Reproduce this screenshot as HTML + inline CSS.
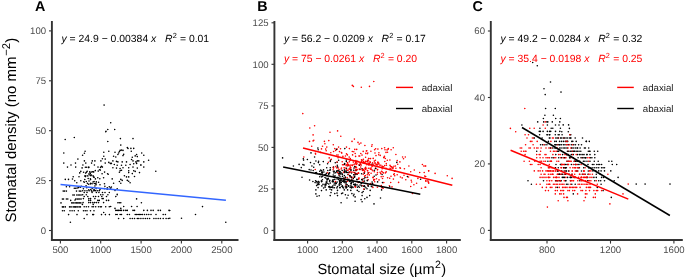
<!DOCTYPE html><html><head><meta charset="utf-8"><style>html,body{margin:0;padding:0;background:#fff;overflow:hidden}svg{display:block;will-change:transform;text-rendering:geometricPrecision}</style></head><body><svg width="685" height="278" viewBox="0 0 685 278" font-family='"Liberation Sans", sans-serif'>
<rect width="685" height="278" fill="#fff"/>
<path fill="#000" d="M103.3 105.1a0.8 0.8 0 1 0 1.6 0a0.8 0.8 0 1 0 -1.6 0M109.9 122.8a0.8 0.8 0 1 0 1.6 0a0.8 0.8 0 1 0 -1.6 0M107.0 129.5a0.8 0.8 0 1 0 1.6 0a0.8 0.8 0 1 0 -1.6 0M104.9 131.7a0.8 0.8 0 1 0 1.6 0a0.8 0.8 0 1 0 -1.6 0M113.9 129.5a0.8 0.8 0 1 0 1.6 0a0.8 0.8 0 1 0 -1.6 0M64.4 139.5a0.8 0.8 0 1 0 1.6 0a0.8 0.8 0 1 0 -1.6 0M73.5 137.5a0.8 0.8 0 1 0 1.6 0a0.8 0.8 0 1 0 -1.6 0M105.2 131.4a0.8 0.8 0 1 0 1.6 0a0.8 0.8 0 1 0 -1.6 0M107.0 141.5a0.8 0.8 0 1 0 1.6 0a0.8 0.8 0 1 0 -1.6 0M63.0 153.0a0.8 0.8 0 1 0 1.6 0a0.8 0.8 0 1 0 -1.6 0M84.3 151.3a0.8 0.8 0 1 0 1.6 0a0.8 0.8 0 1 0 -1.6 0M83.6 153.3a0.8 0.8 0 1 0 1.6 0a0.8 0.8 0 1 0 -1.6 0M81.8 155.2a0.8 0.8 0 1 0 1.6 0a0.8 0.8 0 1 0 -1.6 0M103.0 152.3a0.8 0.8 0 1 0 1.6 0a0.8 0.8 0 1 0 -1.6 0M108.0 151.3a0.8 0.8 0 1 0 1.6 0a0.8 0.8 0 1 0 -1.6 0M77.1 159.1a0.8 0.8 0 1 0 1.6 0a0.8 0.8 0 1 0 -1.6 0M103.0 156.3a0.8 0.8 0 1 0 1.6 0a0.8 0.8 0 1 0 -1.6 0M101.6 158.8a0.8 0.8 0 1 0 1.6 0a0.8 0.8 0 1 0 -1.6 0M104.4 159.1a0.8 0.8 0 1 0 1.6 0a0.8 0.8 0 1 0 -1.6 0M63.0 163.1a0.8 0.8 0 1 0 1.6 0a0.8 0.8 0 1 0 -1.6 0M74.7 163.1a0.8 0.8 0 1 0 1.6 0a0.8 0.8 0 1 0 -1.6 0M83.6 160.9a0.8 0.8 0 1 0 1.6 0a0.8 0.8 0 1 0 -1.6 0M85.0 163.1a0.8 0.8 0 1 0 1.6 0a0.8 0.8 0 1 0 -1.6 0M91.5 160.9a0.8 0.8 0 1 0 1.6 0a0.8 0.8 0 1 0 -1.6 0M94.1 160.9a0.8 0.8 0 1 0 1.6 0a0.8 0.8 0 1 0 -1.6 0M90.8 163.1a0.8 0.8 0 1 0 1.6 0a0.8 0.8 0 1 0 -1.6 0M100.1 160.9a0.8 0.8 0 1 0 1.6 0a0.8 0.8 0 1 0 -1.6 0M104.4 163.1a0.8 0.8 0 1 0 1.6 0a0.8 0.8 0 1 0 -1.6 0M108.0 162.4a0.8 0.8 0 1 0 1.6 0a0.8 0.8 0 1 0 -1.6 0M109.5 163.4a0.8 0.8 0 1 0 1.6 0a0.8 0.8 0 1 0 -1.6 0M70.2 165.0a0.8 0.8 0 1 0 1.6 0a0.8 0.8 0 1 0 -1.6 0M82.1 165.0a0.8 0.8 0 1 0 1.6 0a0.8 0.8 0 1 0 -1.6 0M93.6 165.0a0.8 0.8 0 1 0 1.6 0a0.8 0.8 0 1 0 -1.6 0M66.7 167.1a0.8 0.8 0 1 0 1.6 0a0.8 0.8 0 1 0 -1.6 0M74.9 167.1a0.8 0.8 0 1 0 1.6 0a0.8 0.8 0 1 0 -1.6 0M87.9 167.1a0.8 0.8 0 1 0 1.6 0a0.8 0.8 0 1 0 -1.6 0M97.2 167.1a0.8 0.8 0 1 0 1.6 0a0.8 0.8 0 1 0 -1.6 0M101.6 167.1a0.8 0.8 0 1 0 1.6 0a0.8 0.8 0 1 0 -1.6 0M119.6 138.6a0.8 0.8 0 1 0 1.6 0a0.8 0.8 0 1 0 -1.6 0M132.2 138.6a0.8 0.8 0 1 0 1.6 0a0.8 0.8 0 1 0 -1.6 0M120.0 145.1a0.8 0.8 0 1 0 1.6 0a0.8 0.8 0 1 0 -1.6 0M126.5 147.6a0.8 0.8 0 1 0 1.6 0a0.8 0.8 0 1 0 -1.6 0M127.2 148.4a0.8 0.8 0 1 0 1.6 0a0.8 0.8 0 1 0 -1.6 0M130.1 148.4a0.8 0.8 0 1 0 1.6 0a0.8 0.8 0 1 0 -1.6 0M132.9 148.4a0.8 0.8 0 1 0 1.6 0a0.8 0.8 0 1 0 -1.6 0M130.5 151.3a0.8 0.8 0 1 0 1.6 0a0.8 0.8 0 1 0 -1.6 0M119.3 150.4a0.8 0.8 0 1 0 1.6 0a0.8 0.8 0 1 0 -1.6 0M120.7 150.1a0.8 0.8 0 1 0 1.6 0a0.8 0.8 0 1 0 -1.6 0M122.2 150.4a0.8 0.8 0 1 0 1.6 0a0.8 0.8 0 1 0 -1.6 0M118.6 151.6a0.8 0.8 0 1 0 1.6 0a0.8 0.8 0 1 0 -1.6 0M114.2 152.3a0.8 0.8 0 1 0 1.6 0a0.8 0.8 0 1 0 -1.6 0M122.9 154.2a0.8 0.8 0 1 0 1.6 0a0.8 0.8 0 1 0 -1.6 0M122.2 155.6a0.8 0.8 0 1 0 1.6 0a0.8 0.8 0 1 0 -1.6 0M117.8 153.0a0.8 0.8 0 1 0 1.6 0a0.8 0.8 0 1 0 -1.6 0M117.1 154.5a0.8 0.8 0 1 0 1.6 0a0.8 0.8 0 1 0 -1.6 0M112.8 156.2a0.8 0.8 0 1 0 1.6 0a0.8 0.8 0 1 0 -1.6 0M115.0 157.0a0.8 0.8 0 1 0 1.6 0a0.8 0.8 0 1 0 -1.6 0M140.9 153.0a0.8 0.8 0 1 0 1.6 0a0.8 0.8 0 1 0 -1.6 0M143.0 155.2a0.8 0.8 0 1 0 1.6 0a0.8 0.8 0 1 0 -1.6 0M135.8 154.5a0.8 0.8 0 1 0 1.6 0a0.8 0.8 0 1 0 -1.6 0M134.4 155.9a0.8 0.8 0 1 0 1.6 0a0.8 0.8 0 1 0 -1.6 0M136.5 156.6a0.8 0.8 0 1 0 1.6 0a0.8 0.8 0 1 0 -1.6 0M131.5 157.3a0.8 0.8 0 1 0 1.6 0a0.8 0.8 0 1 0 -1.6 0M147.8 160.2a0.8 0.8 0 1 0 1.6 0a0.8 0.8 0 1 0 -1.6 0M130.8 159.5a0.8 0.8 0 1 0 1.6 0a0.8 0.8 0 1 0 -1.6 0M132.2 160.9a0.8 0.8 0 1 0 1.6 0a0.8 0.8 0 1 0 -1.6 0M136.5 160.9a0.8 0.8 0 1 0 1.6 0a0.8 0.8 0 1 0 -1.6 0M138.0 160.9a0.8 0.8 0 1 0 1.6 0a0.8 0.8 0 1 0 -1.6 0M135.1 161.9a0.8 0.8 0 1 0 1.6 0a0.8 0.8 0 1 0 -1.6 0M143.0 161.9a0.8 0.8 0 1 0 1.6 0a0.8 0.8 0 1 0 -1.6 0M112.1 160.9a0.8 0.8 0 1 0 1.6 0a0.8 0.8 0 1 0 -1.6 0M115.7 161.4a0.8 0.8 0 1 0 1.6 0a0.8 0.8 0 1 0 -1.6 0M117.1 161.9a0.8 0.8 0 1 0 1.6 0a0.8 0.8 0 1 0 -1.6 0M121.4 161.9a0.8 0.8 0 1 0 1.6 0a0.8 0.8 0 1 0 -1.6 0M125.7 161.9a0.8 0.8 0 1 0 1.6 0a0.8 0.8 0 1 0 -1.6 0M110.6 163.4a0.8 0.8 0 1 0 1.6 0a0.8 0.8 0 1 0 -1.6 0M113.5 164.5a0.8 0.8 0 1 0 1.6 0a0.8 0.8 0 1 0 -1.6 0M116.4 165.3a0.8 0.8 0 1 0 1.6 0a0.8 0.8 0 1 0 -1.6 0M120.7 165.3a0.8 0.8 0 1 0 1.6 0a0.8 0.8 0 1 0 -1.6 0M125.0 165.3a0.8 0.8 0 1 0 1.6 0a0.8 0.8 0 1 0 -1.6 0M129.3 164.5a0.8 0.8 0 1 0 1.6 0a0.8 0.8 0 1 0 -1.6 0M132.9 163.8a0.8 0.8 0 1 0 1.6 0a0.8 0.8 0 1 0 -1.6 0M135.8 163.4a0.8 0.8 0 1 0 1.6 0a0.8 0.8 0 1 0 -1.6 0M140.1 165.3a0.8 0.8 0 1 0 1.6 0a0.8 0.8 0 1 0 -1.6 0M143.0 167.1a0.8 0.8 0 1 0 1.6 0a0.8 0.8 0 1 0 -1.6 0M112.1 167.7a0.8 0.8 0 1 0 1.6 0a0.8 0.8 0 1 0 -1.6 0M115.7 168.1a0.8 0.8 0 1 0 1.6 0a0.8 0.8 0 1 0 -1.6 0M119.3 168.6a0.8 0.8 0 1 0 1.6 0a0.8 0.8 0 1 0 -1.6 0M122.2 167.7a0.8 0.8 0 1 0 1.6 0a0.8 0.8 0 1 0 -1.6 0M127.9 167.7a0.8 0.8 0 1 0 1.6 0a0.8 0.8 0 1 0 -1.6 0M132.2 167.1a0.8 0.8 0 1 0 1.6 0a0.8 0.8 0 1 0 -1.6 0M136.5 168.1a0.8 0.8 0 1 0 1.6 0a0.8 0.8 0 1 0 -1.6 0M140.1 164.9a0.8 0.8 0 1 0 1.6 0a0.8 0.8 0 1 0 -1.6 0M64.5 179.4a0.8 0.8 0 1 0 1.6 0a0.8 0.8 0 1 0 -1.6 0M67.7 179.4a0.8 0.8 0 1 0 1.6 0a0.8 0.8 0 1 0 -1.6 0M71.7 179.0a0.8 0.8 0 1 0 1.6 0a0.8 0.8 0 1 0 -1.6 0M72.4 176.8a0.8 0.8 0 1 0 1.6 0a0.8 0.8 0 1 0 -1.6 0M73.9 180.8a0.8 0.8 0 1 0 1.6 0a0.8 0.8 0 1 0 -1.6 0M76.0 182.8a0.8 0.8 0 1 0 1.6 0a0.8 0.8 0 1 0 -1.6 0M78.2 176.8a0.8 0.8 0 1 0 1.6 0a0.8 0.8 0 1 0 -1.6 0M80.0 180.8a0.8 0.8 0 1 0 1.6 0a0.8 0.8 0 1 0 -1.6 0M78.9 172.9a0.8 0.8 0 1 0 1.6 0a0.8 0.8 0 1 0 -1.6 0M80.0 171.4a0.8 0.8 0 1 0 1.6 0a0.8 0.8 0 1 0 -1.6 0M65.6 186.7a0.8 0.8 0 1 0 1.6 0a0.8 0.8 0 1 0 -1.6 0M68.8 186.7a0.8 0.8 0 1 0 1.6 0a0.8 0.8 0 1 0 -1.6 0M73.5 188.3a0.8 0.8 0 1 0 1.6 0a0.8 0.8 0 1 0 -1.6 0M74.9 188.3a0.8 0.8 0 1 0 1.6 0a0.8 0.8 0 1 0 -1.6 0M76.4 188.0a0.8 0.8 0 1 0 1.6 0a0.8 0.8 0 1 0 -1.6 0M77.8 187.6a0.8 0.8 0 1 0 1.6 0a0.8 0.8 0 1 0 -1.6 0M79.6 187.3a0.8 0.8 0 1 0 1.6 0a0.8 0.8 0 1 0 -1.6 0M86.4 171.3a0.8 0.8 0 1 0 1.6 0a0.8 0.8 0 1 0 -1.6 0M88.9 171.9a0.8 0.8 0 1 0 1.6 0a0.8 0.8 0 1 0 -1.6 0M92.0 171.8a0.8 0.8 0 1 0 1.6 0a0.8 0.8 0 1 0 -1.6 0M94.5 170.6a0.8 0.8 0 1 0 1.6 0a0.8 0.8 0 1 0 -1.6 0M97.4 171.1a0.8 0.8 0 1 0 1.6 0a0.8 0.8 0 1 0 -1.6 0M98.7 169.7a0.8 0.8 0 1 0 1.6 0a0.8 0.8 0 1 0 -1.6 0M99.5 170.1a0.8 0.8 0 1 0 1.6 0a0.8 0.8 0 1 0 -1.6 0M84.9 173.1a0.8 0.8 0 1 0 1.6 0a0.8 0.8 0 1 0 -1.6 0M85.8 172.1a0.8 0.8 0 1 0 1.6 0a0.8 0.8 0 1 0 -1.6 0M88.0 174.0a0.8 0.8 0 1 0 1.6 0a0.8 0.8 0 1 0 -1.6 0M90.6 172.0a0.8 0.8 0 1 0 1.6 0a0.8 0.8 0 1 0 -1.6 0M92.1 171.9a0.8 0.8 0 1 0 1.6 0a0.8 0.8 0 1 0 -1.6 0M92.9 171.9a0.8 0.8 0 1 0 1.6 0a0.8 0.8 0 1 0 -1.6 0M101.3 173.8a0.8 0.8 0 1 0 1.6 0a0.8 0.8 0 1 0 -1.6 0M103.8 172.1a0.8 0.8 0 1 0 1.6 0a0.8 0.8 0 1 0 -1.6 0M106.8 173.8a0.8 0.8 0 1 0 1.6 0a0.8 0.8 0 1 0 -1.6 0M87.0 175.9a0.8 0.8 0 1 0 1.6 0a0.8 0.8 0 1 0 -1.6 0M89.2 175.1a0.8 0.8 0 1 0 1.6 0a0.8 0.8 0 1 0 -1.6 0M90.1 175.8a0.8 0.8 0 1 0 1.6 0a0.8 0.8 0 1 0 -1.6 0M92.3 175.9a0.8 0.8 0 1 0 1.6 0a0.8 0.8 0 1 0 -1.6 0M107.4 174.2a0.8 0.8 0 1 0 1.6 0a0.8 0.8 0 1 0 -1.6 0M83.9 176.0a0.8 0.8 0 1 0 1.6 0a0.8 0.8 0 1 0 -1.6 0M85.0 175.7a0.8 0.8 0 1 0 1.6 0a0.8 0.8 0 1 0 -1.6 0M92.8 177.1a0.8 0.8 0 1 0 1.6 0a0.8 0.8 0 1 0 -1.6 0M84.0 179.5a0.8 0.8 0 1 0 1.6 0a0.8 0.8 0 1 0 -1.6 0M87.4 178.5a0.8 0.8 0 1 0 1.6 0a0.8 0.8 0 1 0 -1.6 0M89.6 178.9a0.8 0.8 0 1 0 1.6 0a0.8 0.8 0 1 0 -1.6 0M94.6 178.9a0.8 0.8 0 1 0 1.6 0a0.8 0.8 0 1 0 -1.6 0M97.0 177.8a0.8 0.8 0 1 0 1.6 0a0.8 0.8 0 1 0 -1.6 0M102.8 177.8a0.8 0.8 0 1 0 1.6 0a0.8 0.8 0 1 0 -1.6 0M83.0 181.7a0.8 0.8 0 1 0 1.6 0a0.8 0.8 0 1 0 -1.6 0M85.5 181.5a0.8 0.8 0 1 0 1.6 0a0.8 0.8 0 1 0 -1.6 0M88.2 181.0a0.8 0.8 0 1 0 1.6 0a0.8 0.8 0 1 0 -1.6 0M89.8 179.6a0.8 0.8 0 1 0 1.6 0a0.8 0.8 0 1 0 -1.6 0M92.2 182.0a0.8 0.8 0 1 0 1.6 0a0.8 0.8 0 1 0 -1.6 0M93.3 181.5a0.8 0.8 0 1 0 1.6 0a0.8 0.8 0 1 0 -1.6 0M95.5 181.9a0.8 0.8 0 1 0 1.6 0a0.8 0.8 0 1 0 -1.6 0M83.5 182.2a0.8 0.8 0 1 0 1.6 0a0.8 0.8 0 1 0 -1.6 0M86.6 183.3a0.8 0.8 0 1 0 1.6 0a0.8 0.8 0 1 0 -1.6 0M89.9 183.2a0.8 0.8 0 1 0 1.6 0a0.8 0.8 0 1 0 -1.6 0M93.5 183.5a0.8 0.8 0 1 0 1.6 0a0.8 0.8 0 1 0 -1.6 0M94.9 183.7a0.8 0.8 0 1 0 1.6 0a0.8 0.8 0 1 0 -1.6 0M97.8 182.2a0.8 0.8 0 1 0 1.6 0a0.8 0.8 0 1 0 -1.6 0M103.7 183.7a0.8 0.8 0 1 0 1.6 0a0.8 0.8 0 1 0 -1.6 0M85.3 185.8a0.8 0.8 0 1 0 1.6 0a0.8 0.8 0 1 0 -1.6 0M87.7 184.3a0.8 0.8 0 1 0 1.6 0a0.8 0.8 0 1 0 -1.6 0M89.5 183.9a0.8 0.8 0 1 0 1.6 0a0.8 0.8 0 1 0 -1.6 0M91.3 183.8a0.8 0.8 0 1 0 1.6 0a0.8 0.8 0 1 0 -1.6 0M94.1 186.0a0.8 0.8 0 1 0 1.6 0a0.8 0.8 0 1 0 -1.6 0M95.1 183.6a0.8 0.8 0 1 0 1.6 0a0.8 0.8 0 1 0 -1.6 0M99.2 184.8a0.8 0.8 0 1 0 1.6 0a0.8 0.8 0 1 0 -1.6 0M104.1 186.2a0.8 0.8 0 1 0 1.6 0a0.8 0.8 0 1 0 -1.6 0M106.5 187.8a0.8 0.8 0 1 0 1.6 0a0.8 0.8 0 1 0 -1.6 0M108.5 186.7a0.8 0.8 0 1 0 1.6 0a0.8 0.8 0 1 0 -1.6 0M109.6 188.0a0.8 0.8 0 1 0 1.6 0a0.8 0.8 0 1 0 -1.6 0M82.6 188.7a0.8 0.8 0 1 0 1.6 0a0.8 0.8 0 1 0 -1.6 0M86.0 187.7a0.8 0.8 0 1 0 1.6 0a0.8 0.8 0 1 0 -1.6 0M88.0 189.9a0.8 0.8 0 1 0 1.6 0a0.8 0.8 0 1 0 -1.6 0M90.0 189.5a0.8 0.8 0 1 0 1.6 0a0.8 0.8 0 1 0 -1.6 0M91.4 188.5a0.8 0.8 0 1 0 1.6 0a0.8 0.8 0 1 0 -1.6 0M93.2 189.6a0.8 0.8 0 1 0 1.6 0a0.8 0.8 0 1 0 -1.6 0M95.3 188.6a0.8 0.8 0 1 0 1.6 0a0.8 0.8 0 1 0 -1.6 0M99.2 189.6a0.8 0.8 0 1 0 1.6 0a0.8 0.8 0 1 0 -1.6 0M103.5 188.6a0.8 0.8 0 1 0 1.6 0a0.8 0.8 0 1 0 -1.6 0M106.4 189.3a0.8 0.8 0 1 0 1.6 0a0.8 0.8 0 1 0 -1.6 0M109.9 188.2a0.8 0.8 0 1 0 1.6 0a0.8 0.8 0 1 0 -1.6 0M62.4 191.1a0.8 0.8 0 1 0 1.6 0a0.8 0.8 0 1 0 -1.6 0M63.8 191.1a0.8 0.8 0 1 0 1.6 0a0.8 0.8 0 1 0 -1.6 0M65.6 191.1a0.8 0.8 0 1 0 1.6 0a0.8 0.8 0 1 0 -1.6 0M75.7 191.1a0.8 0.8 0 1 0 1.6 0a0.8 0.8 0 1 0 -1.6 0M78.5 191.1a0.8 0.8 0 1 0 1.6 0a0.8 0.8 0 1 0 -1.6 0M80.0 191.1a0.8 0.8 0 1 0 1.6 0a0.8 0.8 0 1 0 -1.6 0M72.1 195.0a0.8 0.8 0 1 0 1.6 0a0.8 0.8 0 1 0 -1.6 0M73.5 195.0a0.8 0.8 0 1 0 1.6 0a0.8 0.8 0 1 0 -1.6 0M76.0 195.0a0.8 0.8 0 1 0 1.6 0a0.8 0.8 0 1 0 -1.6 0M77.5 195.0a0.8 0.8 0 1 0 1.6 0a0.8 0.8 0 1 0 -1.6 0M78.9 195.0a0.8 0.8 0 1 0 1.6 0a0.8 0.8 0 1 0 -1.6 0M80.3 195.0a0.8 0.8 0 1 0 1.6 0a0.8 0.8 0 1 0 -1.6 0M61.6 199.0a0.8 0.8 0 1 0 1.6 0a0.8 0.8 0 1 0 -1.6 0M62.7 199.0a0.8 0.8 0 1 0 1.6 0a0.8 0.8 0 1 0 -1.6 0M65.6 199.0a0.8 0.8 0 1 0 1.6 0a0.8 0.8 0 1 0 -1.6 0M67.0 199.0a0.8 0.8 0 1 0 1.6 0a0.8 0.8 0 1 0 -1.6 0M74.9 199.0a0.8 0.8 0 1 0 1.6 0a0.8 0.8 0 1 0 -1.6 0M76.4 199.0a0.8 0.8 0 1 0 1.6 0a0.8 0.8 0 1 0 -1.6 0M77.5 199.0a0.8 0.8 0 1 0 1.6 0a0.8 0.8 0 1 0 -1.6 0M78.9 199.0a0.8 0.8 0 1 0 1.6 0a0.8 0.8 0 1 0 -1.6 0M80.3 199.0a0.8 0.8 0 1 0 1.6 0a0.8 0.8 0 1 0 -1.6 0M69.9 200.4a0.8 0.8 0 1 0 1.6 0a0.8 0.8 0 1 0 -1.6 0M74.2 200.1a0.8 0.8 0 1 0 1.6 0a0.8 0.8 0 1 0 -1.6 0M60.2 202.9a0.8 0.8 0 1 0 1.6 0a0.8 0.8 0 1 0 -1.6 0M71.0 202.9a0.8 0.8 0 1 0 1.6 0a0.8 0.8 0 1 0 -1.6 0M72.4 202.9a0.8 0.8 0 1 0 1.6 0a0.8 0.8 0 1 0 -1.6 0M74.2 202.9a0.8 0.8 0 1 0 1.6 0a0.8 0.8 0 1 0 -1.6 0M75.7 202.9a0.8 0.8 0 1 0 1.6 0a0.8 0.8 0 1 0 -1.6 0M77.1 202.9a0.8 0.8 0 1 0 1.6 0a0.8 0.8 0 1 0 -1.6 0M78.5 202.9a0.8 0.8 0 1 0 1.6 0a0.8 0.8 0 1 0 -1.6 0M80.0 202.9a0.8 0.8 0 1 0 1.6 0a0.8 0.8 0 1 0 -1.6 0M61.6 206.9a0.8 0.8 0 1 0 1.6 0a0.8 0.8 0 1 0 -1.6 0M62.7 206.9a0.8 0.8 0 1 0 1.6 0a0.8 0.8 0 1 0 -1.6 0M64.5 206.9a0.8 0.8 0 1 0 1.6 0a0.8 0.8 0 1 0 -1.6 0M68.8 206.9a0.8 0.8 0 1 0 1.6 0a0.8 0.8 0 1 0 -1.6 0M70.3 206.9a0.8 0.8 0 1 0 1.6 0a0.8 0.8 0 1 0 -1.6 0M72.4 206.9a0.8 0.8 0 1 0 1.6 0a0.8 0.8 0 1 0 -1.6 0M73.9 206.9a0.8 0.8 0 1 0 1.6 0a0.8 0.8 0 1 0 -1.6 0M74.9 206.9a0.8 0.8 0 1 0 1.6 0a0.8 0.8 0 1 0 -1.6 0M76.4 206.9a0.8 0.8 0 1 0 1.6 0a0.8 0.8 0 1 0 -1.6 0M78.2 206.9a0.8 0.8 0 1 0 1.6 0a0.8 0.8 0 1 0 -1.6 0M79.6 206.9a0.8 0.8 0 1 0 1.6 0a0.8 0.8 0 1 0 -1.6 0M81.9 190.7a0.8 0.8 0 1 0 1.6 0a0.8 0.8 0 1 0 -1.6 0M84.1 190.7a0.8 0.8 0 1 0 1.6 0a0.8 0.8 0 1 0 -1.6 0M86.2 190.7a0.8 0.8 0 1 0 1.6 0a0.8 0.8 0 1 0 -1.6 0M88.4 190.7a0.8 0.8 0 1 0 1.6 0a0.8 0.8 0 1 0 -1.6 0M90.6 190.7a0.8 0.8 0 1 0 1.6 0a0.8 0.8 0 1 0 -1.6 0M92.7 190.7a0.8 0.8 0 1 0 1.6 0a0.8 0.8 0 1 0 -1.6 0M94.9 190.7a0.8 0.8 0 1 0 1.6 0a0.8 0.8 0 1 0 -1.6 0M96.7 190.7a0.8 0.8 0 1 0 1.6 0a0.8 0.8 0 1 0 -1.6 0M98.5 190.7a0.8 0.8 0 1 0 1.6 0a0.8 0.8 0 1 0 -1.6 0M83.4 192.5a0.8 0.8 0 1 0 1.6 0a0.8 0.8 0 1 0 -1.6 0M86.2 192.5a0.8 0.8 0 1 0 1.6 0a0.8 0.8 0 1 0 -1.6 0M91.3 192.5a0.8 0.8 0 1 0 1.6 0a0.8 0.8 0 1 0 -1.6 0M95.6 192.5a0.8 0.8 0 1 0 1.6 0a0.8 0.8 0 1 0 -1.6 0M98.1 192.5a0.8 0.8 0 1 0 1.6 0a0.8 0.8 0 1 0 -1.6 0M101.7 192.5a0.8 0.8 0 1 0 1.6 0a0.8 0.8 0 1 0 -1.6 0M104.2 192.5a0.8 0.8 0 1 0 1.6 0a0.8 0.8 0 1 0 -1.6 0M108.5 192.5a0.8 0.8 0 1 0 1.6 0a0.8 0.8 0 1 0 -1.6 0M81.9 194.7a0.8 0.8 0 1 0 1.6 0a0.8 0.8 0 1 0 -1.6 0M85.5 194.7a0.8 0.8 0 1 0 1.6 0a0.8 0.8 0 1 0 -1.6 0M99.9 194.7a0.8 0.8 0 1 0 1.6 0a0.8 0.8 0 1 0 -1.6 0M102.1 194.7a0.8 0.8 0 1 0 1.6 0a0.8 0.8 0 1 0 -1.6 0M107.1 194.7a0.8 0.8 0 1 0 1.6 0a0.8 0.8 0 1 0 -1.6 0M83.4 196.5a0.8 0.8 0 1 0 1.6 0a0.8 0.8 0 1 0 -1.6 0M87.0 196.5a0.8 0.8 0 1 0 1.6 0a0.8 0.8 0 1 0 -1.6 0M92.7 196.5a0.8 0.8 0 1 0 1.6 0a0.8 0.8 0 1 0 -1.6 0M94.9 196.5a0.8 0.8 0 1 0 1.6 0a0.8 0.8 0 1 0 -1.6 0M97.7 196.5a0.8 0.8 0 1 0 1.6 0a0.8 0.8 0 1 0 -1.6 0M101.0 196.5a0.8 0.8 0 1 0 1.6 0a0.8 0.8 0 1 0 -1.6 0M105.7 196.5a0.8 0.8 0 1 0 1.6 0a0.8 0.8 0 1 0 -1.6 0M82.6 198.6a0.8 0.8 0 1 0 1.6 0a0.8 0.8 0 1 0 -1.6 0M88.0 198.6a0.8 0.8 0 1 0 1.6 0a0.8 0.8 0 1 0 -1.6 0M89.8 198.6a0.8 0.8 0 1 0 1.6 0a0.8 0.8 0 1 0 -1.6 0M94.1 198.6a0.8 0.8 0 1 0 1.6 0a0.8 0.8 0 1 0 -1.6 0M101.3 198.6a0.8 0.8 0 1 0 1.6 0a0.8 0.8 0 1 0 -1.6 0M102.4 198.6a0.8 0.8 0 1 0 1.6 0a0.8 0.8 0 1 0 -1.6 0M88.0 200.4a0.8 0.8 0 1 0 1.6 0a0.8 0.8 0 1 0 -1.6 0M89.8 200.4a0.8 0.8 0 1 0 1.6 0a0.8 0.8 0 1 0 -1.6 0M97.0 200.4a0.8 0.8 0 1 0 1.6 0a0.8 0.8 0 1 0 -1.6 0M98.5 200.4a0.8 0.8 0 1 0 1.6 0a0.8 0.8 0 1 0 -1.6 0M105.7 200.4a0.8 0.8 0 1 0 1.6 0a0.8 0.8 0 1 0 -1.6 0M107.8 200.4a0.8 0.8 0 1 0 1.6 0a0.8 0.8 0 1 0 -1.6 0M82.3 202.6a0.8 0.8 0 1 0 1.6 0a0.8 0.8 0 1 0 -1.6 0M88.0 202.6a0.8 0.8 0 1 0 1.6 0a0.8 0.8 0 1 0 -1.6 0M89.8 202.6a0.8 0.8 0 1 0 1.6 0a0.8 0.8 0 1 0 -1.6 0M92.0 202.6a0.8 0.8 0 1 0 1.6 0a0.8 0.8 0 1 0 -1.6 0M93.8 202.6a0.8 0.8 0 1 0 1.6 0a0.8 0.8 0 1 0 -1.6 0M95.6 202.6a0.8 0.8 0 1 0 1.6 0a0.8 0.8 0 1 0 -1.6 0M97.7 202.6a0.8 0.8 0 1 0 1.6 0a0.8 0.8 0 1 0 -1.6 0M102.8 202.6a0.8 0.8 0 1 0 1.6 0a0.8 0.8 0 1 0 -1.6 0M81.6 204.4a0.8 0.8 0 1 0 1.6 0a0.8 0.8 0 1 0 -1.6 0M92.4 204.4a0.8 0.8 0 1 0 1.6 0a0.8 0.8 0 1 0 -1.6 0M83.4 206.7a0.8 0.8 0 1 0 1.6 0a0.8 0.8 0 1 0 -1.6 0M85.5 206.7a0.8 0.8 0 1 0 1.6 0a0.8 0.8 0 1 0 -1.6 0M87.7 206.7a0.8 0.8 0 1 0 1.6 0a0.8 0.8 0 1 0 -1.6 0M91.3 206.7a0.8 0.8 0 1 0 1.6 0a0.8 0.8 0 1 0 -1.6 0M92.7 206.7a0.8 0.8 0 1 0 1.6 0a0.8 0.8 0 1 0 -1.6 0M94.9 206.7a0.8 0.8 0 1 0 1.6 0a0.8 0.8 0 1 0 -1.6 0M97.7 206.7a0.8 0.8 0 1 0 1.6 0a0.8 0.8 0 1 0 -1.6 0M99.5 206.7a0.8 0.8 0 1 0 1.6 0a0.8 0.8 0 1 0 -1.6 0M100.6 206.7a0.8 0.8 0 1 0 1.6 0a0.8 0.8 0 1 0 -1.6 0M104.9 206.7a0.8 0.8 0 1 0 1.6 0a0.8 0.8 0 1 0 -1.6 0M108.5 206.7a0.8 0.8 0 1 0 1.6 0a0.8 0.8 0 1 0 -1.6 0M61.7 210.7a0.8 0.8 0 1 0 1.6 0a0.8 0.8 0 1 0 -1.6 0M63.5 210.7a0.8 0.8 0 1 0 1.6 0a0.8 0.8 0 1 0 -1.6 0M69.2 210.7a0.8 0.8 0 1 0 1.6 0a0.8 0.8 0 1 0 -1.6 0M71.3 210.7a0.8 0.8 0 1 0 1.6 0a0.8 0.8 0 1 0 -1.6 0M73.5 210.7a0.8 0.8 0 1 0 1.6 0a0.8 0.8 0 1 0 -1.6 0M77.5 210.7a0.8 0.8 0 1 0 1.6 0a0.8 0.8 0 1 0 -1.6 0M82.7 210.7a0.8 0.8 0 1 0 1.6 0a0.8 0.8 0 1 0 -1.6 0M84.5 210.7a0.8 0.8 0 1 0 1.6 0a0.8 0.8 0 1 0 -1.6 0M86.2 210.7a0.8 0.8 0 1 0 1.6 0a0.8 0.8 0 1 0 -1.6 0M89.7 210.7a0.8 0.8 0 1 0 1.6 0a0.8 0.8 0 1 0 -1.6 0M93.2 210.7a0.8 0.8 0 1 0 1.6 0a0.8 0.8 0 1 0 -1.6 0M67.8 214.6a0.8 0.8 0 1 0 1.6 0a0.8 0.8 0 1 0 -1.6 0M76.2 214.6a0.8 0.8 0 1 0 1.6 0a0.8 0.8 0 1 0 -1.6 0M86.2 214.6a0.8 0.8 0 1 0 1.6 0a0.8 0.8 0 1 0 -1.6 0M91.9 214.6a0.8 0.8 0 1 0 1.6 0a0.8 0.8 0 1 0 -1.6 0M92.8 214.6a0.8 0.8 0 1 0 1.6 0a0.8 0.8 0 1 0 -1.6 0M100.7 214.6a0.8 0.8 0 1 0 1.6 0a0.8 0.8 0 1 0 -1.6 0M104.6 214.6a0.8 0.8 0 1 0 1.6 0a0.8 0.8 0 1 0 -1.6 0M108.6 214.6a0.8 0.8 0 1 0 1.6 0a0.8 0.8 0 1 0 -1.6 0M102.9 212.5a0.8 0.8 0 1 0 1.6 0a0.8 0.8 0 1 0 -1.6 0M83.4 218.5a0.8 0.8 0 1 0 1.6 0a0.8 0.8 0 1 0 -1.6 0M69.6 222.3a0.8 0.8 0 1 0 1.6 0a0.8 0.8 0 1 0 -1.6 0M114.2 190.3a0.8 0.8 0 1 0 1.6 0a0.8 0.8 0 1 0 -1.6 0M116.4 194.3a0.8 0.8 0 1 0 1.6 0a0.8 0.8 0 1 0 -1.6 0M115.0 196.5a0.8 0.8 0 1 0 1.6 0a0.8 0.8 0 1 0 -1.6 0M135.8 198.9a0.8 0.8 0 1 0 1.6 0a0.8 0.8 0 1 0 -1.6 0M140.6 202.7a0.8 0.8 0 1 0 1.6 0a0.8 0.8 0 1 0 -1.6 0M117.1 202.7a0.8 0.8 0 1 0 1.6 0a0.8 0.8 0 1 0 -1.6 0M118.6 202.7a0.8 0.8 0 1 0 1.6 0a0.8 0.8 0 1 0 -1.6 0M120.0 202.7a0.8 0.8 0 1 0 1.6 0a0.8 0.8 0 1 0 -1.6 0M109.9 206.5a0.8 0.8 0 1 0 1.6 0a0.8 0.8 0 1 0 -1.6 0M114.2 208.4a0.8 0.8 0 1 0 1.6 0a0.8 0.8 0 1 0 -1.6 0M120.0 208.4a0.8 0.8 0 1 0 1.6 0a0.8 0.8 0 1 0 -1.6 0M122.9 206.5a0.8 0.8 0 1 0 1.6 0a0.8 0.8 0 1 0 -1.6 0M130.8 206.5a0.8 0.8 0 1 0 1.6 0a0.8 0.8 0 1 0 -1.6 0M136.3 206.5a0.8 0.8 0 1 0 1.6 0a0.8 0.8 0 1 0 -1.6 0M115.0 210.4a0.8 0.8 0 1 0 1.6 0a0.8 0.8 0 1 0 -1.6 0M116.4 210.4a0.8 0.8 0 1 0 1.6 0a0.8 0.8 0 1 0 -1.6 0M117.8 210.4a0.8 0.8 0 1 0 1.6 0a0.8 0.8 0 1 0 -1.6 0M119.3 210.4a0.8 0.8 0 1 0 1.6 0a0.8 0.8 0 1 0 -1.6 0M120.7 210.4a0.8 0.8 0 1 0 1.6 0a0.8 0.8 0 1 0 -1.6 0M122.9 210.4a0.8 0.8 0 1 0 1.6 0a0.8 0.8 0 1 0 -1.6 0M125.0 210.4a0.8 0.8 0 1 0 1.6 0a0.8 0.8 0 1 0 -1.6 0M126.5 210.4a0.8 0.8 0 1 0 1.6 0a0.8 0.8 0 1 0 -1.6 0M132.2 210.4a0.8 0.8 0 1 0 1.6 0a0.8 0.8 0 1 0 -1.6 0M133.7 210.4a0.8 0.8 0 1 0 1.6 0a0.8 0.8 0 1 0 -1.6 0M143.0 210.4a0.8 0.8 0 1 0 1.6 0a0.8 0.8 0 1 0 -1.6 0M146.6 210.4a0.8 0.8 0 1 0 1.6 0a0.8 0.8 0 1 0 -1.6 0M150.2 210.4a0.8 0.8 0 1 0 1.6 0a0.8 0.8 0 1 0 -1.6 0M152.4 210.4a0.8 0.8 0 1 0 1.6 0a0.8 0.8 0 1 0 -1.6 0M157.4 210.4a0.8 0.8 0 1 0 1.6 0a0.8 0.8 0 1 0 -1.6 0M159.6 210.4a0.8 0.8 0 1 0 1.6 0a0.8 0.8 0 1 0 -1.6 0M168.2 210.4a0.8 0.8 0 1 0 1.6 0a0.8 0.8 0 1 0 -1.6 0M115.0 214.5a0.8 0.8 0 1 0 1.6 0a0.8 0.8 0 1 0 -1.6 0M116.4 214.5a0.8 0.8 0 1 0 1.6 0a0.8 0.8 0 1 0 -1.6 0M119.3 214.5a0.8 0.8 0 1 0 1.6 0a0.8 0.8 0 1 0 -1.6 0M120.7 214.5a0.8 0.8 0 1 0 1.6 0a0.8 0.8 0 1 0 -1.6 0M126.5 214.5a0.8 0.8 0 1 0 1.6 0a0.8 0.8 0 1 0 -1.6 0M128.6 214.5a0.8 0.8 0 1 0 1.6 0a0.8 0.8 0 1 0 -1.6 0M134.4 214.5a0.8 0.8 0 1 0 1.6 0a0.8 0.8 0 1 0 -1.6 0M135.8 214.5a0.8 0.8 0 1 0 1.6 0a0.8 0.8 0 1 0 -1.6 0M137.3 214.5a0.8 0.8 0 1 0 1.6 0a0.8 0.8 0 1 0 -1.6 0M138.7 214.5a0.8 0.8 0 1 0 1.6 0a0.8 0.8 0 1 0 -1.6 0M140.1 214.5a0.8 0.8 0 1 0 1.6 0a0.8 0.8 0 1 0 -1.6 0M141.6 214.5a0.8 0.8 0 1 0 1.6 0a0.8 0.8 0 1 0 -1.6 0M143.7 214.5a0.8 0.8 0 1 0 1.6 0a0.8 0.8 0 1 0 -1.6 0M145.9 214.5a0.8 0.8 0 1 0 1.6 0a0.8 0.8 0 1 0 -1.6 0M148.0 214.5a0.8 0.8 0 1 0 1.6 0a0.8 0.8 0 1 0 -1.6 0M150.2 214.5a0.8 0.8 0 1 0 1.6 0a0.8 0.8 0 1 0 -1.6 0M155.2 214.5a0.8 0.8 0 1 0 1.6 0a0.8 0.8 0 1 0 -1.6 0M162.4 214.5a0.8 0.8 0 1 0 1.6 0a0.8 0.8 0 1 0 -1.6 0M164.6 214.5a0.8 0.8 0 1 0 1.6 0a0.8 0.8 0 1 0 -1.6 0M117.8 218.5a0.8 0.8 0 1 0 1.6 0a0.8 0.8 0 1 0 -1.6 0M122.9 218.5a0.8 0.8 0 1 0 1.6 0a0.8 0.8 0 1 0 -1.6 0M129.3 218.5a0.8 0.8 0 1 0 1.6 0a0.8 0.8 0 1 0 -1.6 0M131.5 218.5a0.8 0.8 0 1 0 1.6 0a0.8 0.8 0 1 0 -1.6 0M133.7 218.5a0.8 0.8 0 1 0 1.6 0a0.8 0.8 0 1 0 -1.6 0M136.5 218.5a0.8 0.8 0 1 0 1.6 0a0.8 0.8 0 1 0 -1.6 0M138.0 218.5a0.8 0.8 0 1 0 1.6 0a0.8 0.8 0 1 0 -1.6 0M140.1 218.5a0.8 0.8 0 1 0 1.6 0a0.8 0.8 0 1 0 -1.6 0M142.3 218.5a0.8 0.8 0 1 0 1.6 0a0.8 0.8 0 1 0 -1.6 0M144.5 218.5a0.8 0.8 0 1 0 1.6 0a0.8 0.8 0 1 0 -1.6 0M146.6 218.5a0.8 0.8 0 1 0 1.6 0a0.8 0.8 0 1 0 -1.6 0M148.8 218.5a0.8 0.8 0 1 0 1.6 0a0.8 0.8 0 1 0 -1.6 0M153.1 218.5a0.8 0.8 0 1 0 1.6 0a0.8 0.8 0 1 0 -1.6 0M155.2 218.5a0.8 0.8 0 1 0 1.6 0a0.8 0.8 0 1 0 -1.6 0M157.4 218.5a0.8 0.8 0 1 0 1.6 0a0.8 0.8 0 1 0 -1.6 0M159.6 218.5a0.8 0.8 0 1 0 1.6 0a0.8 0.8 0 1 0 -1.6 0M162.4 218.5a0.8 0.8 0 1 0 1.6 0a0.8 0.8 0 1 0 -1.6 0M165.3 218.5a0.8 0.8 0 1 0 1.6 0a0.8 0.8 0 1 0 -1.6 0M167.5 218.5a0.8 0.8 0 1 0 1.6 0a0.8 0.8 0 1 0 -1.6 0M119.3 170.7a0.8 0.8 0 1 0 1.6 0a0.8 0.8 0 1 0 -1.6 0M120.7 170.3a0.8 0.8 0 1 0 1.6 0a0.8 0.8 0 1 0 -1.6 0M118.6 172.2a0.8 0.8 0 1 0 1.6 0a0.8 0.8 0 1 0 -1.6 0M127.9 170.7a0.8 0.8 0 1 0 1.6 0a0.8 0.8 0 1 0 -1.6 0M127.9 172.6a0.8 0.8 0 1 0 1.6 0a0.8 0.8 0 1 0 -1.6 0M132.9 170.7a0.8 0.8 0 1 0 1.6 0a0.8 0.8 0 1 0 -1.6 0M134.4 171.4a0.8 0.8 0 1 0 1.6 0a0.8 0.8 0 1 0 -1.6 0M138.7 172.6a0.8 0.8 0 1 0 1.6 0a0.8 0.8 0 1 0 -1.6 0M155.0 171.2a0.8 0.8 0 1 0 1.6 0a0.8 0.8 0 1 0 -1.6 0M123.6 175.8a0.8 0.8 0 1 0 1.6 0a0.8 0.8 0 1 0 -1.6 0M125.7 176.9a0.8 0.8 0 1 0 1.6 0a0.8 0.8 0 1 0 -1.6 0M127.9 176.9a0.8 0.8 0 1 0 1.6 0a0.8 0.8 0 1 0 -1.6 0M131.5 173.6a0.8 0.8 0 1 0 1.6 0a0.8 0.8 0 1 0 -1.6 0M133.7 176.5a0.8 0.8 0 1 0 1.6 0a0.8 0.8 0 1 0 -1.6 0M111.4 178.9a0.8 0.8 0 1 0 1.6 0a0.8 0.8 0 1 0 -1.6 0M120.0 179.4a0.8 0.8 0 1 0 1.6 0a0.8 0.8 0 1 0 -1.6 0M121.4 180.4a0.8 0.8 0 1 0 1.6 0a0.8 0.8 0 1 0 -1.6 0M118.6 181.5a0.8 0.8 0 1 0 1.6 0a0.8 0.8 0 1 0 -1.6 0M126.5 180.4a0.8 0.8 0 1 0 1.6 0a0.8 0.8 0 1 0 -1.6 0M127.9 181.2a0.8 0.8 0 1 0 1.6 0a0.8 0.8 0 1 0 -1.6 0M129.3 182.7a0.8 0.8 0 1 0 1.6 0a0.8 0.8 0 1 0 -1.6 0M112.8 183.2a0.8 0.8 0 1 0 1.6 0a0.8 0.8 0 1 0 -1.6 0M120.0 183.2a0.8 0.8 0 1 0 1.6 0a0.8 0.8 0 1 0 -1.6 0M110.6 187.0a0.8 0.8 0 1 0 1.6 0a0.8 0.8 0 1 0 -1.6 0M116.4 188.7a0.8 0.8 0 1 0 1.6 0a0.8 0.8 0 1 0 -1.6 0M114.2 190.4a0.8 0.8 0 1 0 1.6 0a0.8 0.8 0 1 0 -1.6 0M116.4 194.7a0.8 0.8 0 1 0 1.6 0a0.8 0.8 0 1 0 -1.6 0M115.0 196.6a0.8 0.8 0 1 0 1.6 0a0.8 0.8 0 1 0 -1.6 0M135.8 198.8a0.8 0.8 0 1 0 1.6 0a0.8 0.8 0 1 0 -1.6 0M140.6 202.8a0.8 0.8 0 1 0 1.6 0a0.8 0.8 0 1 0 -1.6 0M169.0 210.5a0.8 0.8 0 1 0 1.6 0a0.8 0.8 0 1 0 -1.6 0M169.0 218.3a0.8 0.8 0 1 0 1.6 0a0.8 0.8 0 1 0 -1.6 0M180.7 218.3a0.8 0.8 0 1 0 1.6 0a0.8 0.8 0 1 0 -1.6 0M194.7 214.5a0.8 0.8 0 1 0 1.6 0a0.8 0.8 0 1 0 -1.6 0M201.7 206.6a0.8 0.8 0 1 0 1.6 0a0.8 0.8 0 1 0 -1.6 0M225.0 222.2a0.8 0.8 0 1 0 1.6 0a0.8 0.8 0 1 0 -1.6 0M89.5 173.4a0.8 0.8 0 1 0 1.6 0a0.8 0.8 0 1 0 -1.6 0M95.3 184.7a0.8 0.8 0 1 0 1.6 0a0.8 0.8 0 1 0 -1.6 0M82.8 172.3a0.8 0.8 0 1 0 1.6 0a0.8 0.8 0 1 0 -1.6 0M94.0 190.5a0.8 0.8 0 1 0 1.6 0a0.8 0.8 0 1 0 -1.6 0M93.4 177.2a0.8 0.8 0 1 0 1.6 0a0.8 0.8 0 1 0 -1.6 0M100.7 166.2a0.8 0.8 0 1 0 1.6 0a0.8 0.8 0 1 0 -1.6 0M80.5 186.3a0.8 0.8 0 1 0 1.6 0a0.8 0.8 0 1 0 -1.6 0M88.2 167.2a0.8 0.8 0 1 0 1.6 0a0.8 0.8 0 1 0 -1.6 0M91.3 191.7a0.8 0.8 0 1 0 1.6 0a0.8 0.8 0 1 0 -1.6 0M90.6 175.1a0.8 0.8 0 1 0 1.6 0a0.8 0.8 0 1 0 -1.6 0M81.3 167.9a0.8 0.8 0 1 0 1.6 0a0.8 0.8 0 1 0 -1.6 0M99.0 178.8a0.8 0.8 0 1 0 1.6 0a0.8 0.8 0 1 0 -1.6 0M99.8 167.4a0.8 0.8 0 1 0 1.6 0a0.8 0.8 0 1 0 -1.6 0M84.6 167.3a0.8 0.8 0 1 0 1.6 0a0.8 0.8 0 1 0 -1.6 0M87.9 167.6a0.8 0.8 0 1 0 1.6 0a0.8 0.8 0 1 0 -1.6 0M84.8 176.6a0.8 0.8 0 1 0 1.6 0a0.8 0.8 0 1 0 -1.6 0M85.9 167.3a0.8 0.8 0 1 0 1.6 0a0.8 0.8 0 1 0 -1.6 0M80.0 191.3a0.8 0.8 0 1 0 1.6 0a0.8 0.8 0 1 0 -1.6 0"/>
<path fill="#ff0000" d="M345.5 187.5a0.8 0.8 0 1 0 1.6 0a0.8 0.8 0 1 0 -1.6 0"/>
<path fill="#000000" d="M321.0 172.9a0.8 0.8 0 1 0 1.6 0a0.8 0.8 0 1 0 -1.6 0"/>
<path fill="#ff0000" d="M350.9 179.3a0.8 0.8 0 1 0 1.6 0a0.8 0.8 0 1 0 -1.6 0M393.5 173.7a0.8 0.8 0 1 0 1.6 0a0.8 0.8 0 1 0 -1.6 0"/>
<path fill="#000000" d="M366.2 197.4a0.8 0.8 0 1 0 1.6 0a0.8 0.8 0 1 0 -1.6 0M319.0 176.8a0.8 0.8 0 1 0 1.6 0a0.8 0.8 0 1 0 -1.6 0"/>
<path fill="#ff0000" d="M356.9 161.3a0.8 0.8 0 1 0 1.6 0a0.8 0.8 0 1 0 -1.6 0M364.5 175.5a0.8 0.8 0 1 0 1.6 0a0.8 0.8 0 1 0 -1.6 0M369.7 169.3a0.8 0.8 0 1 0 1.6 0a0.8 0.8 0 1 0 -1.6 0M371.1 169.8a0.8 0.8 0 1 0 1.6 0a0.8 0.8 0 1 0 -1.6 0"/>
<path fill="#000000" d="M350.7 180.2a0.8 0.8 0 1 0 1.6 0a0.8 0.8 0 1 0 -1.6 0M332.5 181.5a0.8 0.8 0 1 0 1.6 0a0.8 0.8 0 1 0 -1.6 0M354.8 186.2a0.8 0.8 0 1 0 1.6 0a0.8 0.8 0 1 0 -1.6 0"/>
<path fill="#ff0000" d="M363.0 169.7a0.8 0.8 0 1 0 1.6 0a0.8 0.8 0 1 0 -1.6 0"/>
<path fill="#000000" d="M311.1 166.0a0.8 0.8 0 1 0 1.6 0a0.8 0.8 0 1 0 -1.6 0"/>
<path fill="#ff0000" d="M423.4 172.5a0.8 0.8 0 1 0 1.6 0a0.8 0.8 0 1 0 -1.6 0"/>
<path fill="#000000" d="M346.8 189.9a0.8 0.8 0 1 0 1.6 0a0.8 0.8 0 1 0 -1.6 0M322.2 184.4a0.8 0.8 0 1 0 1.6 0a0.8 0.8 0 1 0 -1.6 0M359.3 185.1a0.8 0.8 0 1 0 1.6 0a0.8 0.8 0 1 0 -1.6 0"/>
<path fill="#ff0000" d="M382.9 157.6a0.8 0.8 0 1 0 1.6 0a0.8 0.8 0 1 0 -1.6 0M374.8 148.8a0.8 0.8 0 1 0 1.6 0a0.8 0.8 0 1 0 -1.6 0"/>
<path fill="#000000" d="M349.4 176.8a0.8 0.8 0 1 0 1.6 0a0.8 0.8 0 1 0 -1.6 0"/>
<path fill="#ff0000" d="M384.0 161.5a0.8 0.8 0 1 0 1.6 0a0.8 0.8 0 1 0 -1.6 0"/>
<path fill="#000000" d="M340.3 202.8a0.8 0.8 0 1 0 1.6 0a0.8 0.8 0 1 0 -1.6 0M368.9 195.6a0.8 0.8 0 1 0 1.6 0a0.8 0.8 0 1 0 -1.6 0"/>
<path fill="#ff0000" d="M355.9 149.4a0.8 0.8 0 1 0 1.6 0a0.8 0.8 0 1 0 -1.6 0M368.1 165.1a0.8 0.8 0 1 0 1.6 0a0.8 0.8 0 1 0 -1.6 0M357.3 182.4a0.8 0.8 0 1 0 1.6 0a0.8 0.8 0 1 0 -1.6 0M332.3 169.8a0.8 0.8 0 1 0 1.6 0a0.8 0.8 0 1 0 -1.6 0"/>
<path fill="#000000" d="M356.5 190.4a0.8 0.8 0 1 0 1.6 0a0.8 0.8 0 1 0 -1.6 0M381.3 174.5a0.8 0.8 0 1 0 1.6 0a0.8 0.8 0 1 0 -1.6 0M327.1 179.4a0.8 0.8 0 1 0 1.6 0a0.8 0.8 0 1 0 -1.6 0M314.8 180.8a0.8 0.8 0 1 0 1.6 0a0.8 0.8 0 1 0 -1.6 0"/>
<path fill="#ff0000" d="M354.9 166.7a0.8 0.8 0 1 0 1.6 0a0.8 0.8 0 1 0 -1.6 0M385.4 171.9a0.8 0.8 0 1 0 1.6 0a0.8 0.8 0 1 0 -1.6 0M302.0 113.6a0.8 0.8 0 1 0 1.6 0a0.8 0.8 0 1 0 -1.6 0"/>
<path fill="#000000" d="M315.1 161.0a0.8 0.8 0 1 0 1.6 0a0.8 0.8 0 1 0 -1.6 0"/>
<path fill="#ff0000" d="M361.2 155.1a0.8 0.8 0 1 0 1.6 0a0.8 0.8 0 1 0 -1.6 0"/>
<path fill="#000000" d="M339.3 180.3a0.8 0.8 0 1 0 1.6 0a0.8 0.8 0 1 0 -1.6 0"/>
<path fill="#ff0000" d="M372.1 184.2a0.8 0.8 0 1 0 1.6 0a0.8 0.8 0 1 0 -1.6 0"/>
<path fill="#000000" d="M347.3 195.3a0.8 0.8 0 1 0 1.6 0a0.8 0.8 0 1 0 -1.6 0M345.5 172.5a0.8 0.8 0 1 0 1.6 0a0.8 0.8 0 1 0 -1.6 0M345.3 170.7a0.8 0.8 0 1 0 1.6 0a0.8 0.8 0 1 0 -1.6 0"/>
<path fill="#ff0000" d="M402.7 158.8a0.8 0.8 0 1 0 1.6 0a0.8 0.8 0 1 0 -1.6 0"/>
<path fill="#000000" d="M351.0 187.2a0.8 0.8 0 1 0 1.6 0a0.8 0.8 0 1 0 -1.6 0"/>
<path fill="#ff0000" d="M379.3 172.3a0.8 0.8 0 1 0 1.6 0a0.8 0.8 0 1 0 -1.6 0M332.4 167.4a0.8 0.8 0 1 0 1.6 0a0.8 0.8 0 1 0 -1.6 0"/>
<path fill="#000000" d="M352.7 195.8a0.8 0.8 0 1 0 1.6 0a0.8 0.8 0 1 0 -1.6 0"/>
<path fill="#ff0000" d="M367.6 168.3a0.8 0.8 0 1 0 1.6 0a0.8 0.8 0 1 0 -1.6 0"/>
<path fill="#000000" d="M394.1 171.0a0.8 0.8 0 1 0 1.6 0a0.8 0.8 0 1 0 -1.6 0M325.9 167.7a0.8 0.8 0 1 0 1.6 0a0.8 0.8 0 1 0 -1.6 0M350.1 185.3a0.8 0.8 0 1 0 1.6 0a0.8 0.8 0 1 0 -1.6 0M340.5 182.4a0.8 0.8 0 1 0 1.6 0a0.8 0.8 0 1 0 -1.6 0M396.0 162.4a0.8 0.8 0 1 0 1.6 0a0.8 0.8 0 1 0 -1.6 0"/>
<path fill="#ff0000" d="M349.3 166.9a0.8 0.8 0 1 0 1.6 0a0.8 0.8 0 1 0 -1.6 0"/>
<path fill="#000000" d="M327.9 173.9a0.8 0.8 0 1 0 1.6 0a0.8 0.8 0 1 0 -1.6 0"/>
<path fill="#ff0000" d="M391.5 168.1a0.8 0.8 0 1 0 1.6 0a0.8 0.8 0 1 0 -1.6 0M368.2 163.5a0.8 0.8 0 1 0 1.6 0a0.8 0.8 0 1 0 -1.6 0M392.6 179.1a0.8 0.8 0 1 0 1.6 0a0.8 0.8 0 1 0 -1.6 0M309.0 128.0a0.8 0.8 0 1 0 1.6 0a0.8 0.8 0 1 0 -1.6 0"/>
<path fill="#000000" d="M321.6 172.5a0.8 0.8 0 1 0 1.6 0a0.8 0.8 0 1 0 -1.6 0"/>
<path fill="#ff0000" d="M399.6 177.0a0.8 0.8 0 1 0 1.6 0a0.8 0.8 0 1 0 -1.6 0M358.3 178.1a0.8 0.8 0 1 0 1.6 0a0.8 0.8 0 1 0 -1.6 0"/>
<path fill="#000000" d="M300.5 167.6a0.8 0.8 0 1 0 1.6 0a0.8 0.8 0 1 0 -1.6 0"/>
<path fill="#ff0000" d="M325.4 150.7a0.8 0.8 0 1 0 1.6 0a0.8 0.8 0 1 0 -1.6 0"/>
<path fill="#000000" d="M352.9 184.4a0.8 0.8 0 1 0 1.6 0a0.8 0.8 0 1 0 -1.6 0"/>
<path fill="#ff0000" d="M390.3 149.8a0.8 0.8 0 1 0 1.6 0a0.8 0.8 0 1 0 -1.6 0"/>
<path fill="#000000" d="M350.2 170.1a0.8 0.8 0 1 0 1.6 0a0.8 0.8 0 1 0 -1.6 0"/>
<path fill="#ff0000" d="M348.4 169.2a0.8 0.8 0 1 0 1.6 0a0.8 0.8 0 1 0 -1.6 0M357.9 179.2a0.8 0.8 0 1 0 1.6 0a0.8 0.8 0 1 0 -1.6 0"/>
<path fill="#000000" d="M341.4 186.1a0.8 0.8 0 1 0 1.6 0a0.8 0.8 0 1 0 -1.6 0M343.2 182.2a0.8 0.8 0 1 0 1.6 0a0.8 0.8 0 1 0 -1.6 0"/>
<path fill="#ff0000" d="M392.2 167.5a0.8 0.8 0 1 0 1.6 0a0.8 0.8 0 1 0 -1.6 0M388.9 178.2a0.8 0.8 0 1 0 1.6 0a0.8 0.8 0 1 0 -1.6 0M424.3 166.0a0.8 0.8 0 1 0 1.6 0a0.8 0.8 0 1 0 -1.6 0"/>
<path fill="#000000" d="M333.5 183.1a0.8 0.8 0 1 0 1.6 0a0.8 0.8 0 1 0 -1.6 0"/>
<path fill="#ff0000" d="M366.8 161.6a0.8 0.8 0 1 0 1.6 0a0.8 0.8 0 1 0 -1.6 0M314.4 169.5a0.8 0.8 0 1 0 1.6 0a0.8 0.8 0 1 0 -1.6 0"/>
<path fill="#000000" d="M338.7 183.5a0.8 0.8 0 1 0 1.6 0a0.8 0.8 0 1 0 -1.6 0M323.1 172.0a0.8 0.8 0 1 0 1.6 0a0.8 0.8 0 1 0 -1.6 0M317.3 187.6a0.8 0.8 0 1 0 1.6 0a0.8 0.8 0 1 0 -1.6 0M345.5 181.8a0.8 0.8 0 1 0 1.6 0a0.8 0.8 0 1 0 -1.6 0"/>
<path fill="#ff0000" d="M364.9 169.4a0.8 0.8 0 1 0 1.6 0a0.8 0.8 0 1 0 -1.6 0M364.7 162.0a0.8 0.8 0 1 0 1.6 0a0.8 0.8 0 1 0 -1.6 0"/>
<path fill="#000000" d="M335.9 171.6a0.8 0.8 0 1 0 1.6 0a0.8 0.8 0 1 0 -1.6 0"/>
<path fill="#ff0000" d="M352.5 162.1a0.8 0.8 0 1 0 1.6 0a0.8 0.8 0 1 0 -1.6 0M346.4 177.6a0.8 0.8 0 1 0 1.6 0a0.8 0.8 0 1 0 -1.6 0M380.4 176.7a0.8 0.8 0 1 0 1.6 0a0.8 0.8 0 1 0 -1.6 0M410.8 182.0a0.8 0.8 0 1 0 1.6 0a0.8 0.8 0 1 0 -1.6 0M375.8 164.5a0.8 0.8 0 1 0 1.6 0a0.8 0.8 0 1 0 -1.6 0"/>
<path fill="#000000" d="M338.5 185.3a0.8 0.8 0 1 0 1.6 0a0.8 0.8 0 1 0 -1.6 0"/>
<path fill="#ff0000" d="M381.7 178.5a0.8 0.8 0 1 0 1.6 0a0.8 0.8 0 1 0 -1.6 0"/>
<path fill="#000000" d="M313.8 157.0a0.8 0.8 0 1 0 1.6 0a0.8 0.8 0 1 0 -1.6 0"/>
<path fill="#ff0000" d="M369.5 162.4a0.8 0.8 0 1 0 1.6 0a0.8 0.8 0 1 0 -1.6 0M362.3 181.4a0.8 0.8 0 1 0 1.6 0a0.8 0.8 0 1 0 -1.6 0"/>
<path fill="#000000" d="M338.0 173.4a0.8 0.8 0 1 0 1.6 0a0.8 0.8 0 1 0 -1.6 0"/>
<path fill="#ff0000" d="M383.2 157.4a0.8 0.8 0 1 0 1.6 0a0.8 0.8 0 1 0 -1.6 0M366.9 185.1a0.8 0.8 0 1 0 1.6 0a0.8 0.8 0 1 0 -1.6 0M386.8 177.8a0.8 0.8 0 1 0 1.6 0a0.8 0.8 0 1 0 -1.6 0M314.6 153.2a0.8 0.8 0 1 0 1.6 0a0.8 0.8 0 1 0 -1.6 0"/>
<path fill="#000000" d="M316.4 182.9a0.8 0.8 0 1 0 1.6 0a0.8 0.8 0 1 0 -1.6 0"/>
<path fill="#ff0000" d="M401.4 177.9a0.8 0.8 0 1 0 1.6 0a0.8 0.8 0 1 0 -1.6 0M342.1 156.4a0.8 0.8 0 1 0 1.6 0a0.8 0.8 0 1 0 -1.6 0"/>
<path fill="#000000" d="M366.2 188.8a0.8 0.8 0 1 0 1.6 0a0.8 0.8 0 1 0 -1.6 0M331.8 180.3a0.8 0.8 0 1 0 1.6 0a0.8 0.8 0 1 0 -1.6 0"/>
<path fill="#ff0000" d="M364.9 168.6a0.8 0.8 0 1 0 1.6 0a0.8 0.8 0 1 0 -1.6 0"/>
<path fill="#000000" d="M327.4 178.4a0.8 0.8 0 1 0 1.6 0a0.8 0.8 0 1 0 -1.6 0"/>
<path fill="#ff0000" d="M360.8 161.4a0.8 0.8 0 1 0 1.6 0a0.8 0.8 0 1 0 -1.6 0M377.0 162.4a0.8 0.8 0 1 0 1.6 0a0.8 0.8 0 1 0 -1.6 0"/>
<path fill="#000000" d="M360.8 173.8a0.8 0.8 0 1 0 1.6 0a0.8 0.8 0 1 0 -1.6 0"/>
<path fill="#ff0000" d="M390.2 176.2a0.8 0.8 0 1 0 1.6 0a0.8 0.8 0 1 0 -1.6 0M349.2 171.9a0.8 0.8 0 1 0 1.6 0a0.8 0.8 0 1 0 -1.6 0M312.3 134.9a0.8 0.8 0 1 0 1.6 0a0.8 0.8 0 1 0 -1.6 0"/>
<path fill="#000000" d="M361.3 201.7a0.8 0.8 0 1 0 1.6 0a0.8 0.8 0 1 0 -1.6 0"/>
<path fill="#ff0000" d="M340.6 152.5a0.8 0.8 0 1 0 1.6 0a0.8 0.8 0 1 0 -1.6 0"/>
<path fill="#000000" d="M340.8 193.6a0.8 0.8 0 1 0 1.6 0a0.8 0.8 0 1 0 -1.6 0"/>
<path fill="#ff0000" d="M427.9 170.9a0.8 0.8 0 1 0 1.6 0a0.8 0.8 0 1 0 -1.6 0M361.7 179.0a0.8 0.8 0 1 0 1.6 0a0.8 0.8 0 1 0 -1.6 0"/>
<path fill="#000000" d="M313.3 163.7a0.8 0.8 0 1 0 1.6 0a0.8 0.8 0 1 0 -1.6 0M332.4 179.7a0.8 0.8 0 1 0 1.6 0a0.8 0.8 0 1 0 -1.6 0M354.3 186.1a0.8 0.8 0 1 0 1.6 0a0.8 0.8 0 1 0 -1.6 0M335.5 183.4a0.8 0.8 0 1 0 1.6 0a0.8 0.8 0 1 0 -1.6 0"/>
<path fill="#ff0000" d="M368.1 158.5a0.8 0.8 0 1 0 1.6 0a0.8 0.8 0 1 0 -1.6 0M411.7 193.5a0.8 0.8 0 1 0 1.6 0a0.8 0.8 0 1 0 -1.6 0M387.6 148.6a0.8 0.8 0 1 0 1.6 0a0.8 0.8 0 1 0 -1.6 0"/>
<path fill="#000000" d="M321.6 173.0a0.8 0.8 0 1 0 1.6 0a0.8 0.8 0 1 0 -1.6 0M328.4 186.6a0.8 0.8 0 1 0 1.6 0a0.8 0.8 0 1 0 -1.6 0"/>
<path fill="#ff0000" d="M378.9 165.0a0.8 0.8 0 1 0 1.6 0a0.8 0.8 0 1 0 -1.6 0M312.3 140.9a0.8 0.8 0 1 0 1.6 0a0.8 0.8 0 1 0 -1.6 0"/>
<path fill="#000000" d="M369.4 190.4a0.8 0.8 0 1 0 1.6 0a0.8 0.8 0 1 0 -1.6 0M366.8 177.2a0.8 0.8 0 1 0 1.6 0a0.8 0.8 0 1 0 -1.6 0"/>
<path fill="#ff0000" d="M330.0 152.8a0.8 0.8 0 1 0 1.6 0a0.8 0.8 0 1 0 -1.6 0"/>
<path fill="#000000" d="M363.5 189.3a0.8 0.8 0 1 0 1.6 0a0.8 0.8 0 1 0 -1.6 0M344.2 182.8a0.8 0.8 0 1 0 1.6 0a0.8 0.8 0 1 0 -1.6 0M345.5 160.1a0.8 0.8 0 1 0 1.6 0a0.8 0.8 0 1 0 -1.6 0"/>
<path fill="#ff0000" d="M348.4 172.6a0.8 0.8 0 1 0 1.6 0a0.8 0.8 0 1 0 -1.6 0M349.8 167.8a0.8 0.8 0 1 0 1.6 0a0.8 0.8 0 1 0 -1.6 0"/>
<path fill="#000000" d="M339.3 171.9a0.8 0.8 0 1 0 1.6 0a0.8 0.8 0 1 0 -1.6 0"/>
<path fill="#ff0000" d="M374.6 168.4a0.8 0.8 0 1 0 1.6 0a0.8 0.8 0 1 0 -1.6 0M382.9 166.7a0.8 0.8 0 1 0 1.6 0a0.8 0.8 0 1 0 -1.6 0"/>
<path fill="#000000" d="M353.8 176.4a0.8 0.8 0 1 0 1.6 0a0.8 0.8 0 1 0 -1.6 0M347.2 174.6a0.8 0.8 0 1 0 1.6 0a0.8 0.8 0 1 0 -1.6 0M356.3 179.7a0.8 0.8 0 1 0 1.6 0a0.8 0.8 0 1 0 -1.6 0"/>
<path fill="#ff0000" d="M351.8 154.9a0.8 0.8 0 1 0 1.6 0a0.8 0.8 0 1 0 -1.6 0M389.9 182.5a0.8 0.8 0 1 0 1.6 0a0.8 0.8 0 1 0 -1.6 0M347.3 170.2a0.8 0.8 0 1 0 1.6 0a0.8 0.8 0 1 0 -1.6 0M377.9 154.8a0.8 0.8 0 1 0 1.6 0a0.8 0.8 0 1 0 -1.6 0"/>
<path fill="#000000" d="M318.3 182.3a0.8 0.8 0 1 0 1.6 0a0.8 0.8 0 1 0 -1.6 0M341.7 176.4a0.8 0.8 0 1 0 1.6 0a0.8 0.8 0 1 0 -1.6 0"/>
<path fill="#ff0000" d="M373.9 181.7a0.8 0.8 0 1 0 1.6 0a0.8 0.8 0 1 0 -1.6 0M383.7 156.3a0.8 0.8 0 1 0 1.6 0a0.8 0.8 0 1 0 -1.6 0M348.5 168.7a0.8 0.8 0 1 0 1.6 0a0.8 0.8 0 1 0 -1.6 0M354.5 170.6a0.8 0.8 0 1 0 1.6 0a0.8 0.8 0 1 0 -1.6 0M344.6 156.0a0.8 0.8 0 1 0 1.6 0a0.8 0.8 0 1 0 -1.6 0M349.5 169.3a0.8 0.8 0 1 0 1.6 0a0.8 0.8 0 1 0 -1.6 0"/>
<path fill="#000000" d="M352.2 182.1a0.8 0.8 0 1 0 1.6 0a0.8 0.8 0 1 0 -1.6 0"/>
<path fill="#ff0000" d="M303.0 157.0a0.8 0.8 0 1 0 1.6 0a0.8 0.8 0 1 0 -1.6 0M354.6 167.8a0.8 0.8 0 1 0 1.6 0a0.8 0.8 0 1 0 -1.6 0M355.7 167.2a0.8 0.8 0 1 0 1.6 0a0.8 0.8 0 1 0 -1.6 0M367.5 179.8a0.8 0.8 0 1 0 1.6 0a0.8 0.8 0 1 0 -1.6 0"/>
<path fill="#000000" d="M365.1 187.7a0.8 0.8 0 1 0 1.6 0a0.8 0.8 0 1 0 -1.6 0M346.4 184.7a0.8 0.8 0 1 0 1.6 0a0.8 0.8 0 1 0 -1.6 0"/>
<path fill="#ff0000" d="M365.5 151.0a0.8 0.8 0 1 0 1.6 0a0.8 0.8 0 1 0 -1.6 0M358.1 156.0a0.8 0.8 0 1 0 1.6 0a0.8 0.8 0 1 0 -1.6 0"/>
<path fill="#000000" d="M367.6 186.0a0.8 0.8 0 1 0 1.6 0a0.8 0.8 0 1 0 -1.6 0"/>
<path fill="#ff0000" d="M345.2 185.1a0.8 0.8 0 1 0 1.6 0a0.8 0.8 0 1 0 -1.6 0M380.5 185.5a0.8 0.8 0 1 0 1.6 0a0.8 0.8 0 1 0 -1.6 0M379.4 155.4a0.8 0.8 0 1 0 1.6 0a0.8 0.8 0 1 0 -1.6 0M362.0 169.0a0.8 0.8 0 1 0 1.6 0a0.8 0.8 0 1 0 -1.6 0"/>
<path fill="#000000" d="M310.2 152.9a0.8 0.8 0 1 0 1.6 0a0.8 0.8 0 1 0 -1.6 0M321.9 176.2a0.8 0.8 0 1 0 1.6 0a0.8 0.8 0 1 0 -1.6 0M371.7 183.7a0.8 0.8 0 1 0 1.6 0a0.8 0.8 0 1 0 -1.6 0"/>
<path fill="#ff0000" d="M337.5 168.0a0.8 0.8 0 1 0 1.6 0a0.8 0.8 0 1 0 -1.6 0M341.7 164.8a0.8 0.8 0 1 0 1.6 0a0.8 0.8 0 1 0 -1.6 0"/>
<path fill="#000000" d="M373.2 203.9a0.8 0.8 0 1 0 1.6 0a0.8 0.8 0 1 0 -1.6 0"/>
<path fill="#ff0000" d="M381.4 166.4a0.8 0.8 0 1 0 1.6 0a0.8 0.8 0 1 0 -1.6 0M324.9 149.1a0.8 0.8 0 1 0 1.6 0a0.8 0.8 0 1 0 -1.6 0"/>
<path fill="#000000" d="M364.2 177.6a0.8 0.8 0 1 0 1.6 0a0.8 0.8 0 1 0 -1.6 0"/>
<path fill="#ff0000" d="M385.5 163.6a0.8 0.8 0 1 0 1.6 0a0.8 0.8 0 1 0 -1.6 0M345.5 169.1a0.8 0.8 0 1 0 1.6 0a0.8 0.8 0 1 0 -1.6 0M357.2 142.4a0.8 0.8 0 1 0 1.6 0a0.8 0.8 0 1 0 -1.6 0"/>
<path fill="#000000" d="M361.2 168.8a0.8 0.8 0 1 0 1.6 0a0.8 0.8 0 1 0 -1.6 0M350.7 173.0a0.8 0.8 0 1 0 1.6 0a0.8 0.8 0 1 0 -1.6 0"/>
<path fill="#ff0000" d="M351.5 151.5a0.8 0.8 0 1 0 1.6 0a0.8 0.8 0 1 0 -1.6 0"/>
<path fill="#000000" d="M332.4 175.1a0.8 0.8 0 1 0 1.6 0a0.8 0.8 0 1 0 -1.6 0M350.4 183.8a0.8 0.8 0 1 0 1.6 0a0.8 0.8 0 1 0 -1.6 0"/>
<path fill="#ff0000" d="M336.0 167.9a0.8 0.8 0 1 0 1.6 0a0.8 0.8 0 1 0 -1.6 0M376.7 172.5a0.8 0.8 0 1 0 1.6 0a0.8 0.8 0 1 0 -1.6 0M396.4 174.8a0.8 0.8 0 1 0 1.6 0a0.8 0.8 0 1 0 -1.6 0"/>
<path fill="#000000" d="M334.4 185.0a0.8 0.8 0 1 0 1.6 0a0.8 0.8 0 1 0 -1.6 0M367.4 172.8a0.8 0.8 0 1 0 1.6 0a0.8 0.8 0 1 0 -1.6 0M334.0 193.6a0.8 0.8 0 1 0 1.6 0a0.8 0.8 0 1 0 -1.6 0M339.2 187.4a0.8 0.8 0 1 0 1.6 0a0.8 0.8 0 1 0 -1.6 0"/>
<path fill="#ff0000" d="M332.8 151.5a0.8 0.8 0 1 0 1.6 0a0.8 0.8 0 1 0 -1.6 0M391.2 186.9a0.8 0.8 0 1 0 1.6 0a0.8 0.8 0 1 0 -1.6 0"/>
<path fill="#000000" d="M306.6 159.5a0.8 0.8 0 1 0 1.6 0a0.8 0.8 0 1 0 -1.6 0"/>
<path fill="#ff0000" d="M375.2 155.6a0.8 0.8 0 1 0 1.6 0a0.8 0.8 0 1 0 -1.6 0M374.2 163.8a0.8 0.8 0 1 0 1.6 0a0.8 0.8 0 1 0 -1.6 0M409.9 171.8a0.8 0.8 0 1 0 1.6 0a0.8 0.8 0 1 0 -1.6 0M332.5 144.8a0.8 0.8 0 1 0 1.6 0a0.8 0.8 0 1 0 -1.6 0M360.7 159.9a0.8 0.8 0 1 0 1.6 0a0.8 0.8 0 1 0 -1.6 0"/>
<path fill="#000000" d="M317.6 162.6a0.8 0.8 0 1 0 1.6 0a0.8 0.8 0 1 0 -1.6 0M303.2 165.1a0.8 0.8 0 1 0 1.6 0a0.8 0.8 0 1 0 -1.6 0"/>
<path fill="#ff0000" d="M425.2 181.1a0.8 0.8 0 1 0 1.6 0a0.8 0.8 0 1 0 -1.6 0M427.5 182.0a0.8 0.8 0 1 0 1.6 0a0.8 0.8 0 1 0 -1.6 0"/>
<path fill="#000000" d="M345.9 186.3a0.8 0.8 0 1 0 1.6 0a0.8 0.8 0 1 0 -1.6 0M317.4 149.8a0.8 0.8 0 1 0 1.6 0a0.8 0.8 0 1 0 -1.6 0"/>
<path fill="#ff0000" d="M427.9 183.3a0.8 0.8 0 1 0 1.6 0a0.8 0.8 0 1 0 -1.6 0M363.8 172.1a0.8 0.8 0 1 0 1.6 0a0.8 0.8 0 1 0 -1.6 0"/>
<path fill="#000000" d="M355.7 173.9a0.8 0.8 0 1 0 1.6 0a0.8 0.8 0 1 0 -1.6 0"/>
<path fill="#ff0000" d="M378.1 152.8a0.8 0.8 0 1 0 1.6 0a0.8 0.8 0 1 0 -1.6 0M345.7 153.9a0.8 0.8 0 1 0 1.6 0a0.8 0.8 0 1 0 -1.6 0"/>
<path fill="#000000" d="M356.4 174.2a0.8 0.8 0 1 0 1.6 0a0.8 0.8 0 1 0 -1.6 0M350.5 183.2a0.8 0.8 0 1 0 1.6 0a0.8 0.8 0 1 0 -1.6 0"/>
<path fill="#ff0000" d="M407.7 177.0a0.8 0.8 0 1 0 1.6 0a0.8 0.8 0 1 0 -1.6 0M364.1 168.3a0.8 0.8 0 1 0 1.6 0a0.8 0.8 0 1 0 -1.6 0"/>
<path fill="#000000" d="M364.0 198.8a0.8 0.8 0 1 0 1.6 0a0.8 0.8 0 1 0 -1.6 0M336.7 190.4a0.8 0.8 0 1 0 1.6 0a0.8 0.8 0 1 0 -1.6 0"/>
<path fill="#ff0000" d="M337.8 147.1a0.8 0.8 0 1 0 1.6 0a0.8 0.8 0 1 0 -1.6 0"/>
<path fill="#000000" d="M310.2 170.0a0.8 0.8 0 1 0 1.6 0a0.8 0.8 0 1 0 -1.6 0M343.6 169.9a0.8 0.8 0 1 0 1.6 0a0.8 0.8 0 1 0 -1.6 0"/>
<path fill="#ff0000" d="M349.2 165.3a0.8 0.8 0 1 0 1.6 0a0.8 0.8 0 1 0 -1.6 0"/>
<path fill="#000000" d="M339.8 173.9a0.8 0.8 0 1 0 1.6 0a0.8 0.8 0 1 0 -1.6 0"/>
<path fill="#ff0000" d="M338.7 151.6a0.8 0.8 0 1 0 1.6 0a0.8 0.8 0 1 0 -1.6 0"/>
<path fill="#000000" d="M339.9 178.9a0.8 0.8 0 1 0 1.6 0a0.8 0.8 0 1 0 -1.6 0M334.5 162.8a0.8 0.8 0 1 0 1.6 0a0.8 0.8 0 1 0 -1.6 0M328.3 187.1a0.8 0.8 0 1 0 1.6 0a0.8 0.8 0 1 0 -1.6 0"/>
<path fill="#ff0000" d="M354.8 169.9a0.8 0.8 0 1 0 1.6 0a0.8 0.8 0 1 0 -1.6 0"/>
<path fill="#000000" d="M339.1 187.7a0.8 0.8 0 1 0 1.6 0a0.8 0.8 0 1 0 -1.6 0M321.5 172.1a0.8 0.8 0 1 0 1.6 0a0.8 0.8 0 1 0 -1.6 0"/>
<path fill="#ff0000" d="M388.6 185.8a0.8 0.8 0 1 0 1.6 0a0.8 0.8 0 1 0 -1.6 0"/>
<path fill="#000000" d="M315.1 189.9a0.8 0.8 0 1 0 1.6 0a0.8 0.8 0 1 0 -1.6 0M320.6 170.8a0.8 0.8 0 1 0 1.6 0a0.8 0.8 0 1 0 -1.6 0M350.1 181.6a0.8 0.8 0 1 0 1.6 0a0.8 0.8 0 1 0 -1.6 0M350.7 177.6a0.8 0.8 0 1 0 1.6 0a0.8 0.8 0 1 0 -1.6 0M324.3 187.2a0.8 0.8 0 1 0 1.6 0a0.8 0.8 0 1 0 -1.6 0M347.7 165.5a0.8 0.8 0 1 0 1.6 0a0.8 0.8 0 1 0 -1.6 0"/>
<path fill="#ff0000" d="M354.3 186.8a0.8 0.8 0 1 0 1.6 0a0.8 0.8 0 1 0 -1.6 0M373.5 161.1a0.8 0.8 0 1 0 1.6 0a0.8 0.8 0 1 0 -1.6 0M399.1 167.8a0.8 0.8 0 1 0 1.6 0a0.8 0.8 0 1 0 -1.6 0"/>
<path fill="#000000" d="M348.1 179.3a0.8 0.8 0 1 0 1.6 0a0.8 0.8 0 1 0 -1.6 0M345.3 171.5a0.8 0.8 0 1 0 1.6 0a0.8 0.8 0 1 0 -1.6 0M317.8 161.2a0.8 0.8 0 1 0 1.6 0a0.8 0.8 0 1 0 -1.6 0"/>
<path fill="#ff0000" d="M369.7 183.5a0.8 0.8 0 1 0 1.6 0a0.8 0.8 0 1 0 -1.6 0"/>
<path fill="#000000" d="M326.3 175.8a0.8 0.8 0 1 0 1.6 0a0.8 0.8 0 1 0 -1.6 0"/>
<path fill="#ff0000" d="M352.4 172.3a0.8 0.8 0 1 0 1.6 0a0.8 0.8 0 1 0 -1.6 0M328.0 140.6a0.8 0.8 0 1 0 1.6 0a0.8 0.8 0 1 0 -1.6 0M343.9 164.0a0.8 0.8 0 1 0 1.6 0a0.8 0.8 0 1 0 -1.6 0M353.3 164.4a0.8 0.8 0 1 0 1.6 0a0.8 0.8 0 1 0 -1.6 0M347.7 164.6a0.8 0.8 0 1 0 1.6 0a0.8 0.8 0 1 0 -1.6 0"/>
<path fill="#000000" d="M321.6 179.8a0.8 0.8 0 1 0 1.6 0a0.8 0.8 0 1 0 -1.6 0"/>
<path fill="#ff0000" d="M424.9 166.0a0.8 0.8 0 1 0 1.6 0a0.8 0.8 0 1 0 -1.6 0M355.7 169.2a0.8 0.8 0 1 0 1.6 0a0.8 0.8 0 1 0 -1.6 0M366.2 177.5a0.8 0.8 0 1 0 1.6 0a0.8 0.8 0 1 0 -1.6 0M365.0 168.6a0.8 0.8 0 1 0 1.6 0a0.8 0.8 0 1 0 -1.6 0"/>
<path fill="#000000" d="M320.7 181.6a0.8 0.8 0 1 0 1.6 0a0.8 0.8 0 1 0 -1.6 0M359.0 169.4a0.8 0.8 0 1 0 1.6 0a0.8 0.8 0 1 0 -1.6 0M318.9 171.2a0.8 0.8 0 1 0 1.6 0a0.8 0.8 0 1 0 -1.6 0"/>
<path fill="#ff0000" d="M392.5 147.7a0.8 0.8 0 1 0 1.6 0a0.8 0.8 0 1 0 -1.6 0M372.0 170.8a0.8 0.8 0 1 0 1.6 0a0.8 0.8 0 1 0 -1.6 0M362.0 185.7a0.8 0.8 0 1 0 1.6 0a0.8 0.8 0 1 0 -1.6 0"/>
<path fill="#000000" d="M351.1 193.6a0.8 0.8 0 1 0 1.6 0a0.8 0.8 0 1 0 -1.6 0M338.9 180.9a0.8 0.8 0 1 0 1.6 0a0.8 0.8 0 1 0 -1.6 0M332.6 171.2a0.8 0.8 0 1 0 1.6 0a0.8 0.8 0 1 0 -1.6 0M340.2 184.4a0.8 0.8 0 1 0 1.6 0a0.8 0.8 0 1 0 -1.6 0"/>
<path fill="#ff0000" d="M380.0 173.3a0.8 0.8 0 1 0 1.6 0a0.8 0.8 0 1 0 -1.6 0"/>
<path fill="#000000" d="M334.0 179.4a0.8 0.8 0 1 0 1.6 0a0.8 0.8 0 1 0 -1.6 0"/>
<path fill="#ff0000" d="M340.4 169.0a0.8 0.8 0 1 0 1.6 0a0.8 0.8 0 1 0 -1.6 0M366.5 174.8a0.8 0.8 0 1 0 1.6 0a0.8 0.8 0 1 0 -1.6 0"/>
<path fill="#000000" d="M329.5 161.5a0.8 0.8 0 1 0 1.6 0a0.8 0.8 0 1 0 -1.6 0"/>
<path fill="#ff0000" d="M417.1 178.4a0.8 0.8 0 1 0 1.6 0a0.8 0.8 0 1 0 -1.6 0M336.0 155.0a0.8 0.8 0 1 0 1.6 0a0.8 0.8 0 1 0 -1.6 0"/>
<path fill="#000000" d="M355.6 170.5a0.8 0.8 0 1 0 1.6 0a0.8 0.8 0 1 0 -1.6 0"/>
<path fill="#ff0000" d="M366.7 160.2a0.8 0.8 0 1 0 1.6 0a0.8 0.8 0 1 0 -1.6 0"/>
<path fill="#000000" d="M337.1 170.5a0.8 0.8 0 1 0 1.6 0a0.8 0.8 0 1 0 -1.6 0M371.2 186.8a0.8 0.8 0 1 0 1.6 0a0.8 0.8 0 1 0 -1.6 0"/>
<path fill="#ff0000" d="M386.7 152.2a0.8 0.8 0 1 0 1.6 0a0.8 0.8 0 1 0 -1.6 0"/>
<path fill="#000000" d="M281.8 157.9a0.8 0.8 0 1 0 1.6 0a0.8 0.8 0 1 0 -1.6 0"/>
<path fill="#ff0000" d="M391.0 166.9a0.8 0.8 0 1 0 1.6 0a0.8 0.8 0 1 0 -1.6 0"/>
<path fill="#000000" d="M381.6 187.6a0.8 0.8 0 1 0 1.6 0a0.8 0.8 0 1 0 -1.6 0"/>
<path fill="#ff0000" d="M386.3 149.9a0.8 0.8 0 1 0 1.6 0a0.8 0.8 0 1 0 -1.6 0"/>
<path fill="#000000" d="M321.0 181.5a0.8 0.8 0 1 0 1.6 0a0.8 0.8 0 1 0 -1.6 0"/>
<path fill="#ff0000" d="M353.0 151.8a0.8 0.8 0 1 0 1.6 0a0.8 0.8 0 1 0 -1.6 0"/>
<path fill="#000000" d="M324.2 177.5a0.8 0.8 0 1 0 1.6 0a0.8 0.8 0 1 0 -1.6 0M343.8 163.6a0.8 0.8 0 1 0 1.6 0a0.8 0.8 0 1 0 -1.6 0"/>
<path fill="#ff0000" d="M405.0 179.7a0.8 0.8 0 1 0 1.6 0a0.8 0.8 0 1 0 -1.6 0"/>
<path fill="#000000" d="M362.9 186.3a0.8 0.8 0 1 0 1.6 0a0.8 0.8 0 1 0 -1.6 0M332.1 181.8a0.8 0.8 0 1 0 1.6 0a0.8 0.8 0 1 0 -1.6 0M334.8 172.8a0.8 0.8 0 1 0 1.6 0a0.8 0.8 0 1 0 -1.6 0"/>
<path fill="#ff0000" d="M328.4 157.9a0.8 0.8 0 1 0 1.6 0a0.8 0.8 0 1 0 -1.6 0M358.4 169.1a0.8 0.8 0 1 0 1.6 0a0.8 0.8 0 1 0 -1.6 0"/>
<path fill="#000000" d="M333.6 187.8a0.8 0.8 0 1 0 1.6 0a0.8 0.8 0 1 0 -1.6 0"/>
<path fill="#ff0000" d="M338.2 174.5a0.8 0.8 0 1 0 1.6 0a0.8 0.8 0 1 0 -1.6 0"/>
<path fill="#000000" d="M343.5 189.9a0.8 0.8 0 1 0 1.6 0a0.8 0.8 0 1 0 -1.6 0"/>
<path fill="#ff0000" d="M399.6 168.2a0.8 0.8 0 1 0 1.6 0a0.8 0.8 0 1 0 -1.6 0M424.3 187.2a0.8 0.8 0 1 0 1.6 0a0.8 0.8 0 1 0 -1.6 0M410.4 180.2a0.8 0.8 0 1 0 1.6 0a0.8 0.8 0 1 0 -1.6 0M354.9 162.4a0.8 0.8 0 1 0 1.6 0a0.8 0.8 0 1 0 -1.6 0M413.1 184.7a0.8 0.8 0 1 0 1.6 0a0.8 0.8 0 1 0 -1.6 0"/>
<path fill="#000000" d="M373.4 176.3a0.8 0.8 0 1 0 1.6 0a0.8 0.8 0 1 0 -1.6 0M334.9 182.8a0.8 0.8 0 1 0 1.6 0a0.8 0.8 0 1 0 -1.6 0M333.2 185.0a0.8 0.8 0 1 0 1.6 0a0.8 0.8 0 1 0 -1.6 0M359.8 182.8a0.8 0.8 0 1 0 1.6 0a0.8 0.8 0 1 0 -1.6 0"/>
<path fill="#ff0000" d="M358.2 164.9a0.8 0.8 0 1 0 1.6 0a0.8 0.8 0 1 0 -1.6 0M420.7 188.3a0.8 0.8 0 1 0 1.6 0a0.8 0.8 0 1 0 -1.6 0M356.4 169.5a0.8 0.8 0 1 0 1.6 0a0.8 0.8 0 1 0 -1.6 0M375.7 178.8a0.8 0.8 0 1 0 1.6 0a0.8 0.8 0 1 0 -1.6 0M364.7 161.3a0.8 0.8 0 1 0 1.6 0a0.8 0.8 0 1 0 -1.6 0"/>
<path fill="#000000" d="M339.2 176.3a0.8 0.8 0 1 0 1.6 0a0.8 0.8 0 1 0 -1.6 0"/>
<path fill="#ff0000" d="M404.5 157.0a0.8 0.8 0 1 0 1.6 0a0.8 0.8 0 1 0 -1.6 0M363.0 189.1a0.8 0.8 0 1 0 1.6 0a0.8 0.8 0 1 0 -1.6 0"/>
<path fill="#000000" d="M337.2 177.4a0.8 0.8 0 1 0 1.6 0a0.8 0.8 0 1 0 -1.6 0M329.5 167.8a0.8 0.8 0 1 0 1.6 0a0.8 0.8 0 1 0 -1.6 0M337.6 170.9a0.8 0.8 0 1 0 1.6 0a0.8 0.8 0 1 0 -1.6 0"/>
<path fill="#ff0000" d="M347.6 174.2a0.8 0.8 0 1 0 1.6 0a0.8 0.8 0 1 0 -1.6 0M348.6 161.8a0.8 0.8 0 1 0 1.6 0a0.8 0.8 0 1 0 -1.6 0"/>
<path fill="#000000" d="M340.5 179.1a0.8 0.8 0 1 0 1.6 0a0.8 0.8 0 1 0 -1.6 0"/>
<path fill="#ff0000" d="M363.6 162.6a0.8 0.8 0 1 0 1.6 0a0.8 0.8 0 1 0 -1.6 0M357.9 173.3a0.8 0.8 0 1 0 1.6 0a0.8 0.8 0 1 0 -1.6 0"/>
<path fill="#000000" d="M343.9 171.3a0.8 0.8 0 1 0 1.6 0a0.8 0.8 0 1 0 -1.6 0M314.8 172.7a0.8 0.8 0 1 0 1.6 0a0.8 0.8 0 1 0 -1.6 0"/>
<path fill="#ff0000" d="M356.1 173.6a0.8 0.8 0 1 0 1.6 0a0.8 0.8 0 1 0 -1.6 0"/>
<path fill="#000000" d="M336.3 179.1a0.8 0.8 0 1 0 1.6 0a0.8 0.8 0 1 0 -1.6 0"/>
<path fill="#ff0000" d="M395.1 154.5a0.8 0.8 0 1 0 1.6 0a0.8 0.8 0 1 0 -1.6 0M314.8 154.1a0.8 0.8 0 1 0 1.6 0a0.8 0.8 0 1 0 -1.6 0M368.5 174.9a0.8 0.8 0 1 0 1.6 0a0.8 0.8 0 1 0 -1.6 0"/>
<path fill="#000000" d="M322.8 188.0a0.8 0.8 0 1 0 1.6 0a0.8 0.8 0 1 0 -1.6 0"/>
<path fill="#ff0000" d="M393.1 166.3a0.8 0.8 0 1 0 1.6 0a0.8 0.8 0 1 0 -1.6 0"/>
<path fill="#000000" d="M327.8 174.3a0.8 0.8 0 1 0 1.6 0a0.8 0.8 0 1 0 -1.6 0M326.8 163.7a0.8 0.8 0 1 0 1.6 0a0.8 0.8 0 1 0 -1.6 0"/>
<path fill="#ff0000" d="M408.1 166.0a0.8 0.8 0 1 0 1.6 0a0.8 0.8 0 1 0 -1.6 0M385.6 165.2a0.8 0.8 0 1 0 1.6 0a0.8 0.8 0 1 0 -1.6 0M421.6 164.5a0.8 0.8 0 1 0 1.6 0a0.8 0.8 0 1 0 -1.6 0"/>
<path fill="#000000" d="M324.2 174.9a0.8 0.8 0 1 0 1.6 0a0.8 0.8 0 1 0 -1.6 0M317.8 183.3a0.8 0.8 0 1 0 1.6 0a0.8 0.8 0 1 0 -1.6 0"/>
<path fill="#ff0000" d="M377.1 164.6a0.8 0.8 0 1 0 1.6 0a0.8 0.8 0 1 0 -1.6 0"/>
<path fill="#000000" d="M345.3 182.9a0.8 0.8 0 1 0 1.6 0a0.8 0.8 0 1 0 -1.6 0"/>
<path fill="#ff0000" d="M329.2 132.3a0.8 0.8 0 1 0 1.6 0a0.8 0.8 0 1 0 -1.6 0"/>
<path fill="#000000" d="M350.6 187.9a0.8 0.8 0 1 0 1.6 0a0.8 0.8 0 1 0 -1.6 0"/>
<path fill="#ff0000" d="M384.2 149.8a0.8 0.8 0 1 0 1.6 0a0.8 0.8 0 1 0 -1.6 0M326.7 172.7a0.8 0.8 0 1 0 1.6 0a0.8 0.8 0 1 0 -1.6 0M381.0 148.6a0.8 0.8 0 1 0 1.6 0a0.8 0.8 0 1 0 -1.6 0M371.5 165.5a0.8 0.8 0 1 0 1.6 0a0.8 0.8 0 1 0 -1.6 0"/>
<path fill="#000000" d="M330.2 192.6a0.8 0.8 0 1 0 1.6 0a0.8 0.8 0 1 0 -1.6 0M343.3 180.0a0.8 0.8 0 1 0 1.6 0a0.8 0.8 0 1 0 -1.6 0M316.2 196.3a0.8 0.8 0 1 0 1.6 0a0.8 0.8 0 1 0 -1.6 0M341.4 170.5a0.8 0.8 0 1 0 1.6 0a0.8 0.8 0 1 0 -1.6 0"/>
<path fill="#ff0000" d="M310.9 146.3a0.8 0.8 0 1 0 1.6 0a0.8 0.8 0 1 0 -1.6 0"/>
<path fill="#000000" d="M325.2 178.3a0.8 0.8 0 1 0 1.6 0a0.8 0.8 0 1 0 -1.6 0M331.9 186.1a0.8 0.8 0 1 0 1.6 0a0.8 0.8 0 1 0 -1.6 0"/>
<path fill="#ff0000" d="M373.5 171.8a0.8 0.8 0 1 0 1.6 0a0.8 0.8 0 1 0 -1.6 0"/>
<path fill="#000000" d="M338.8 181.4a0.8 0.8 0 1 0 1.6 0a0.8 0.8 0 1 0 -1.6 0M315.6 181.6a0.8 0.8 0 1 0 1.6 0a0.8 0.8 0 1 0 -1.6 0"/>
<path fill="#ff0000" d="M395.1 168.2a0.8 0.8 0 1 0 1.6 0a0.8 0.8 0 1 0 -1.6 0"/>
<path fill="#000000" d="M315.7 172.5a0.8 0.8 0 1 0 1.6 0a0.8 0.8 0 1 0 -1.6 0M360.3 199.6a0.8 0.8 0 1 0 1.6 0a0.8 0.8 0 1 0 -1.6 0M332.8 167.0a0.8 0.8 0 1 0 1.6 0a0.8 0.8 0 1 0 -1.6 0"/>
<path fill="#ff0000" d="M360.0 153.5a0.8 0.8 0 1 0 1.6 0a0.8 0.8 0 1 0 -1.6 0M403.2 175.2a0.8 0.8 0 1 0 1.6 0a0.8 0.8 0 1 0 -1.6 0"/>
<path fill="#000000" d="M361.7 170.3a0.8 0.8 0 1 0 1.6 0a0.8 0.8 0 1 0 -1.6 0"/>
<path fill="#ff0000" d="M360.5 87.3a0.8 0.8 0 1 0 1.6 0a0.8 0.8 0 1 0 -1.6 0"/>
<path fill="#000000" d="M329.5 169.8a0.8 0.8 0 1 0 1.6 0a0.8 0.8 0 1 0 -1.6 0"/>
<path fill="#ff0000" d="M413.5 170.0a0.8 0.8 0 1 0 1.6 0a0.8 0.8 0 1 0 -1.6 0M374.6 160.2a0.8 0.8 0 1 0 1.6 0a0.8 0.8 0 1 0 -1.6 0M386.5 160.3a0.8 0.8 0 1 0 1.6 0a0.8 0.8 0 1 0 -1.6 0"/>
<path fill="#000000" d="M345.7 187.2a0.8 0.8 0 1 0 1.6 0a0.8 0.8 0 1 0 -1.6 0"/>
<path fill="#ff0000" d="M423.0 166.0a0.8 0.8 0 1 0 1.6 0a0.8 0.8 0 1 0 -1.6 0"/>
<path fill="#000000" d="M375.2 175.0a0.8 0.8 0 1 0 1.6 0a0.8 0.8 0 1 0 -1.6 0"/>
<path fill="#ff0000" d="M347.5 165.2a0.8 0.8 0 1 0 1.6 0a0.8 0.8 0 1 0 -1.6 0M375.1 164.0a0.8 0.8 0 1 0 1.6 0a0.8 0.8 0 1 0 -1.6 0M372.4 177.7a0.8 0.8 0 1 0 1.6 0a0.8 0.8 0 1 0 -1.6 0"/>
<path fill="#000000" d="M352.4 182.0a0.8 0.8 0 1 0 1.6 0a0.8 0.8 0 1 0 -1.6 0M356.2 184.9a0.8 0.8 0 1 0 1.6 0a0.8 0.8 0 1 0 -1.6 0M376.8 181.9a0.8 0.8 0 1 0 1.6 0a0.8 0.8 0 1 0 -1.6 0M350.0 187.1a0.8 0.8 0 1 0 1.6 0a0.8 0.8 0 1 0 -1.6 0M363.6 181.1a0.8 0.8 0 1 0 1.6 0a0.8 0.8 0 1 0 -1.6 0M366.5 180.3a0.8 0.8 0 1 0 1.6 0a0.8 0.8 0 1 0 -1.6 0M308.4 169.6a0.8 0.8 0 1 0 1.6 0a0.8 0.8 0 1 0 -1.6 0"/>
<path fill="#ff0000" d="M340.7 168.0a0.8 0.8 0 1 0 1.6 0a0.8 0.8 0 1 0 -1.6 0M324.1 143.8a0.8 0.8 0 1 0 1.6 0a0.8 0.8 0 1 0 -1.6 0M424.9 180.9a0.8 0.8 0 1 0 1.6 0a0.8 0.8 0 1 0 -1.6 0M359.7 164.4a0.8 0.8 0 1 0 1.6 0a0.8 0.8 0 1 0 -1.6 0M348.4 157.1a0.8 0.8 0 1 0 1.6 0a0.8 0.8 0 1 0 -1.6 0M361.4 160.2a0.8 0.8 0 1 0 1.6 0a0.8 0.8 0 1 0 -1.6 0"/>
<path fill="#000000" d="M336.7 186.6a0.8 0.8 0 1 0 1.6 0a0.8 0.8 0 1 0 -1.6 0"/>
<path fill="#ff0000" d="M349.2 176.7a0.8 0.8 0 1 0 1.6 0a0.8 0.8 0 1 0 -1.6 0M372.1 187.4a0.8 0.8 0 1 0 1.6 0a0.8 0.8 0 1 0 -1.6 0"/>
<path fill="#000000" d="M320.9 176.9a0.8 0.8 0 1 0 1.6 0a0.8 0.8 0 1 0 -1.6 0"/>
<path fill="#ff0000" d="M380.1 165.3a0.8 0.8 0 1 0 1.6 0a0.8 0.8 0 1 0 -1.6 0M349.5 158.5a0.8 0.8 0 1 0 1.6 0a0.8 0.8 0 1 0 -1.6 0M362.4 151.4a0.8 0.8 0 1 0 1.6 0a0.8 0.8 0 1 0 -1.6 0M313.0 140.2a0.8 0.8 0 1 0 1.6 0a0.8 0.8 0 1 0 -1.6 0"/>
<path fill="#000000" d="M341.9 193.1a0.8 0.8 0 1 0 1.6 0a0.8 0.8 0 1 0 -1.6 0"/>
<path fill="#ff0000" d="M355.8 164.3a0.8 0.8 0 1 0 1.6 0a0.8 0.8 0 1 0 -1.6 0M381.6 172.0a0.8 0.8 0 1 0 1.6 0a0.8 0.8 0 1 0 -1.6 0M359.4 163.4a0.8 0.8 0 1 0 1.6 0a0.8 0.8 0 1 0 -1.6 0"/>
<path fill="#000000" d="M320.8 170.7a0.8 0.8 0 1 0 1.6 0a0.8 0.8 0 1 0 -1.6 0M320.7 190.6a0.8 0.8 0 1 0 1.6 0a0.8 0.8 0 1 0 -1.6 0"/>
<path fill="#ff0000" d="M380.9 187.8a0.8 0.8 0 1 0 1.6 0a0.8 0.8 0 1 0 -1.6 0M371.3 166.4a0.8 0.8 0 1 0 1.6 0a0.8 0.8 0 1 0 -1.6 0"/>
<path fill="#000000" d="M336.3 182.1a0.8 0.8 0 1 0 1.6 0a0.8 0.8 0 1 0 -1.6 0"/>
<path fill="#ff0000" d="M345.9 164.7a0.8 0.8 0 1 0 1.6 0a0.8 0.8 0 1 0 -1.6 0"/>
<path fill="#000000" d="M338.9 173.4a0.8 0.8 0 1 0 1.6 0a0.8 0.8 0 1 0 -1.6 0"/>
<path fill="#ff0000" d="M360.4 165.1a0.8 0.8 0 1 0 1.6 0a0.8 0.8 0 1 0 -1.6 0M363.8 171.2a0.8 0.8 0 1 0 1.6 0a0.8 0.8 0 1 0 -1.6 0"/>
<path fill="#000000" d="M370.5 186.3a0.8 0.8 0 1 0 1.6 0a0.8 0.8 0 1 0 -1.6 0"/>
<path fill="#ff0000" d="M363.2 170.3a0.8 0.8 0 1 0 1.6 0a0.8 0.8 0 1 0 -1.6 0"/>
<path fill="#000000" d="M314.9 172.7a0.8 0.8 0 1 0 1.6 0a0.8 0.8 0 1 0 -1.6 0M348.1 172.2a0.8 0.8 0 1 0 1.6 0a0.8 0.8 0 1 0 -1.6 0M343.0 178.1a0.8 0.8 0 1 0 1.6 0a0.8 0.8 0 1 0 -1.6 0"/>
<path fill="#ff0000" d="M363.8 176.2a0.8 0.8 0 1 0 1.6 0a0.8 0.8 0 1 0 -1.6 0M349.2 172.1a0.8 0.8 0 1 0 1.6 0a0.8 0.8 0 1 0 -1.6 0M368.7 163.4a0.8 0.8 0 1 0 1.6 0a0.8 0.8 0 1 0 -1.6 0"/>
<path fill="#000000" d="M316.7 184.8a0.8 0.8 0 1 0 1.6 0a0.8 0.8 0 1 0 -1.6 0M327.9 184.0a0.8 0.8 0 1 0 1.6 0a0.8 0.8 0 1 0 -1.6 0"/>
<path fill="#ff0000" d="M319.6 152.4a0.8 0.8 0 1 0 1.6 0a0.8 0.8 0 1 0 -1.6 0M385.2 168.4a0.8 0.8 0 1 0 1.6 0a0.8 0.8 0 1 0 -1.6 0M401.8 157.0a0.8 0.8 0 1 0 1.6 0a0.8 0.8 0 1 0 -1.6 0"/>
<path fill="#000000" d="M302.1 164.6a0.8 0.8 0 1 0 1.6 0a0.8 0.8 0 1 0 -1.6 0"/>
<path fill="#ff0000" d="M345.3 165.6a0.8 0.8 0 1 0 1.6 0a0.8 0.8 0 1 0 -1.6 0M393.7 171.1a0.8 0.8 0 1 0 1.6 0a0.8 0.8 0 1 0 -1.6 0M393.9 175.8a0.8 0.8 0 1 0 1.6 0a0.8 0.8 0 1 0 -1.6 0M352.6 86.4a0.8 0.8 0 1 0 1.6 0a0.8 0.8 0 1 0 -1.6 0M389.2 168.3a0.8 0.8 0 1 0 1.6 0a0.8 0.8 0 1 0 -1.6 0"/>
<path fill="#000000" d="M343.5 171.3a0.8 0.8 0 1 0 1.6 0a0.8 0.8 0 1 0 -1.6 0M358.7 165.3a0.8 0.8 0 1 0 1.6 0a0.8 0.8 0 1 0 -1.6 0"/>
<path fill="#ff0000" d="M354.4 163.3a0.8 0.8 0 1 0 1.6 0a0.8 0.8 0 1 0 -1.6 0M343.3 167.8a0.8 0.8 0 1 0 1.6 0a0.8 0.8 0 1 0 -1.6 0M330.5 159.4a0.8 0.8 0 1 0 1.6 0a0.8 0.8 0 1 0 -1.6 0M367.0 153.0a0.8 0.8 0 1 0 1.6 0a0.8 0.8 0 1 0 -1.6 0M350.0 169.0a0.8 0.8 0 1 0 1.6 0a0.8 0.8 0 1 0 -1.6 0"/>
<path fill="#000000" d="M350.0 190.4a0.8 0.8 0 1 0 1.6 0a0.8 0.8 0 1 0 -1.6 0M350.4 183.5a0.8 0.8 0 1 0 1.6 0a0.8 0.8 0 1 0 -1.6 0"/>
<path fill="#ff0000" d="M350.3 165.1a0.8 0.8 0 1 0 1.6 0a0.8 0.8 0 1 0 -1.6 0M357.6 172.7a0.8 0.8 0 1 0 1.6 0a0.8 0.8 0 1 0 -1.6 0M349.8 167.6a0.8 0.8 0 1 0 1.6 0a0.8 0.8 0 1 0 -1.6 0M346.7 162.9a0.8 0.8 0 1 0 1.6 0a0.8 0.8 0 1 0 -1.6 0"/>
<path fill="#000000" d="M342.6 180.9a0.8 0.8 0 1 0 1.6 0a0.8 0.8 0 1 0 -1.6 0M336.1 170.9a0.8 0.8 0 1 0 1.6 0a0.8 0.8 0 1 0 -1.6 0"/>
<path fill="#ff0000" d="M415.8 183.3a0.8 0.8 0 1 0 1.6 0a0.8 0.8 0 1 0 -1.6 0M332.7 168.1a0.8 0.8 0 1 0 1.6 0a0.8 0.8 0 1 0 -1.6 0"/>
<path fill="#000000" d="M341.7 174.1a0.8 0.8 0 1 0 1.6 0a0.8 0.8 0 1 0 -1.6 0M354.1 184.6a0.8 0.8 0 1 0 1.6 0a0.8 0.8 0 1 0 -1.6 0"/>
<path fill="#ff0000" d="M376.8 169.6a0.8 0.8 0 1 0 1.6 0a0.8 0.8 0 1 0 -1.6 0M399.1 161.9a0.8 0.8 0 1 0 1.6 0a0.8 0.8 0 1 0 -1.6 0M384.6 172.9a0.8 0.8 0 1 0 1.6 0a0.8 0.8 0 1 0 -1.6 0"/>
<path fill="#000000" d="M344.5 181.2a0.8 0.8 0 1 0 1.6 0a0.8 0.8 0 1 0 -1.6 0"/>
<path fill="#ff0000" d="M326.0 147.1a0.8 0.8 0 1 0 1.6 0a0.8 0.8 0 1 0 -1.6 0M366.1 164.7a0.8 0.8 0 1 0 1.6 0a0.8 0.8 0 1 0 -1.6 0"/>
<path fill="#000000" d="M353.9 172.5a0.8 0.8 0 1 0 1.6 0a0.8 0.8 0 1 0 -1.6 0M326.3 179.5a0.8 0.8 0 1 0 1.6 0a0.8 0.8 0 1 0 -1.6 0"/>
<path fill="#ff0000" d="M446.5 175.8a0.8 0.8 0 1 0 1.6 0a0.8 0.8 0 1 0 -1.6 0M353.6 139.1a0.8 0.8 0 1 0 1.6 0a0.8 0.8 0 1 0 -1.6 0"/>
<path fill="#000000" d="M343.6 175.5a0.8 0.8 0 1 0 1.6 0a0.8 0.8 0 1 0 -1.6 0M347.8 185.9a0.8 0.8 0 1 0 1.6 0a0.8 0.8 0 1 0 -1.6 0"/>
<path fill="#ff0000" d="M371.3 144.8a0.8 0.8 0 1 0 1.6 0a0.8 0.8 0 1 0 -1.6 0"/>
<path fill="#000000" d="M337.8 160.3a0.8 0.8 0 1 0 1.6 0a0.8 0.8 0 1 0 -1.6 0"/>
<path fill="#ff0000" d="M351.5 85.4a0.8 0.8 0 1 0 1.6 0a0.8 0.8 0 1 0 -1.6 0"/>
<path fill="#000000" d="M346.5 179.2a0.8 0.8 0 1 0 1.6 0a0.8 0.8 0 1 0 -1.6 0M344.0 148.6a0.8 0.8 0 1 0 1.6 0a0.8 0.8 0 1 0 -1.6 0"/>
<path fill="#ff0000" d="M342.6 164.8a0.8 0.8 0 1 0 1.6 0a0.8 0.8 0 1 0 -1.6 0M371.8 162.9a0.8 0.8 0 1 0 1.6 0a0.8 0.8 0 1 0 -1.6 0M360.1 143.1a0.8 0.8 0 1 0 1.6 0a0.8 0.8 0 1 0 -1.6 0"/>
<path fill="#000000" d="M354.6 184.3a0.8 0.8 0 1 0 1.6 0a0.8 0.8 0 1 0 -1.6 0"/>
<path fill="#ff0000" d="M377.3 163.6a0.8 0.8 0 1 0 1.6 0a0.8 0.8 0 1 0 -1.6 0"/>
<path fill="#000000" d="M342.1 187.4a0.8 0.8 0 1 0 1.6 0a0.8 0.8 0 1 0 -1.6 0"/>
<path fill="#ff0000" d="M355.9 170.0a0.8 0.8 0 1 0 1.6 0a0.8 0.8 0 1 0 -1.6 0"/>
<path fill="#000000" d="M318.4 195.8a0.8 0.8 0 1 0 1.6 0a0.8 0.8 0 1 0 -1.6 0M354.3 185.2a0.8 0.8 0 1 0 1.6 0a0.8 0.8 0 1 0 -1.6 0"/>
<path fill="#ff0000" d="M366.0 150.8a0.8 0.8 0 1 0 1.6 0a0.8 0.8 0 1 0 -1.6 0M376.6 187.3a0.8 0.8 0 1 0 1.6 0a0.8 0.8 0 1 0 -1.6 0M358.4 144.1a0.8 0.8 0 1 0 1.6 0a0.8 0.8 0 1 0 -1.6 0"/>
<path fill="#000000" d="M353.6 177.2a0.8 0.8 0 1 0 1.6 0a0.8 0.8 0 1 0 -1.6 0M379.7 198.0a0.8 0.8 0 1 0 1.6 0a0.8 0.8 0 1 0 -1.6 0"/>
<path fill="#ff0000" d="M390.5 166.8a0.8 0.8 0 1 0 1.6 0a0.8 0.8 0 1 0 -1.6 0"/>
<path fill="#000000" d="M341.5 186.5a0.8 0.8 0 1 0 1.6 0a0.8 0.8 0 1 0 -1.6 0"/>
<path fill="#ff0000" d="M372.4 164.3a0.8 0.8 0 1 0 1.6 0a0.8 0.8 0 1 0 -1.6 0M368.7 86.4a0.8 0.8 0 1 0 1.6 0a0.8 0.8 0 1 0 -1.6 0"/>
<path fill="#000000" d="M333.1 177.0a0.8 0.8 0 1 0 1.6 0a0.8 0.8 0 1 0 -1.6 0M419.8 179.3a0.8 0.8 0 1 0 1.6 0a0.8 0.8 0 1 0 -1.6 0M352.2 187.4a0.8 0.8 0 1 0 1.6 0a0.8 0.8 0 1 0 -1.6 0M312.9 167.3a0.8 0.8 0 1 0 1.6 0a0.8 0.8 0 1 0 -1.6 0M329.4 195.6a0.8 0.8 0 1 0 1.6 0a0.8 0.8 0 1 0 -1.6 0M341.5 186.2a0.8 0.8 0 1 0 1.6 0a0.8 0.8 0 1 0 -1.6 0"/>
<path fill="#ff0000" d="M370.1 151.2a0.8 0.8 0 1 0 1.6 0a0.8 0.8 0 1 0 -1.6 0"/>
<path fill="#000000" d="M292.6 166.0a0.8 0.8 0 1 0 1.6 0a0.8 0.8 0 1 0 -1.6 0M338.3 175.2a0.8 0.8 0 1 0 1.6 0a0.8 0.8 0 1 0 -1.6 0M353.8 177.0a0.8 0.8 0 1 0 1.6 0a0.8 0.8 0 1 0 -1.6 0M332.4 181.3a0.8 0.8 0 1 0 1.6 0a0.8 0.8 0 1 0 -1.6 0M308.8 180.0a0.8 0.8 0 1 0 1.6 0a0.8 0.8 0 1 0 -1.6 0M371.1 164.3a0.8 0.8 0 1 0 1.6 0a0.8 0.8 0 1 0 -1.6 0M360.7 183.6a0.8 0.8 0 1 0 1.6 0a0.8 0.8 0 1 0 -1.6 0M329.4 187.4a0.8 0.8 0 1 0 1.6 0a0.8 0.8 0 1 0 -1.6 0"/>
<path fill="#ff0000" d="M337.3 157.8a0.8 0.8 0 1 0 1.6 0a0.8 0.8 0 1 0 -1.6 0M354.0 149.4a0.8 0.8 0 1 0 1.6 0a0.8 0.8 0 1 0 -1.6 0M346.6 165.9a0.8 0.8 0 1 0 1.6 0a0.8 0.8 0 1 0 -1.6 0"/>
<path fill="#000000" d="M360.8 185.9a0.8 0.8 0 1 0 1.6 0a0.8 0.8 0 1 0 -1.6 0M302.8 160.1a0.8 0.8 0 1 0 1.6 0a0.8 0.8 0 1 0 -1.6 0M312.4 170.5a0.8 0.8 0 1 0 1.6 0a0.8 0.8 0 1 0 -1.6 0M340.8 173.0a0.8 0.8 0 1 0 1.6 0a0.8 0.8 0 1 0 -1.6 0"/>
<path fill="#ff0000" d="M381.4 168.8a0.8 0.8 0 1 0 1.6 0a0.8 0.8 0 1 0 -1.6 0"/>
<path fill="#000000" d="M351.6 180.4a0.8 0.8 0 1 0 1.6 0a0.8 0.8 0 1 0 -1.6 0M327.0 170.5a0.8 0.8 0 1 0 1.6 0a0.8 0.8 0 1 0 -1.6 0"/>
<path fill="#ff0000" d="M364.8 157.2a0.8 0.8 0 1 0 1.6 0a0.8 0.8 0 1 0 -1.6 0"/>
<path fill="#000000" d="M358.2 182.1a0.8 0.8 0 1 0 1.6 0a0.8 0.8 0 1 0 -1.6 0"/>
<path fill="#ff0000" d="M341.4 161.7a0.8 0.8 0 1 0 1.6 0a0.8 0.8 0 1 0 -1.6 0M418.9 172.5a0.8 0.8 0 1 0 1.6 0a0.8 0.8 0 1 0 -1.6 0M347.1 179.5a0.8 0.8 0 1 0 1.6 0a0.8 0.8 0 1 0 -1.6 0"/>
<path fill="#000000" d="M340.6 180.7a0.8 0.8 0 1 0 1.6 0a0.8 0.8 0 1 0 -1.6 0M354.3 196.9a0.8 0.8 0 1 0 1.6 0a0.8 0.8 0 1 0 -1.6 0M371.6 183.6a0.8 0.8 0 1 0 1.6 0a0.8 0.8 0 1 0 -1.6 0M348.8 175.5a0.8 0.8 0 1 0 1.6 0a0.8 0.8 0 1 0 -1.6 0M326.4 183.2a0.8 0.8 0 1 0 1.6 0a0.8 0.8 0 1 0 -1.6 0M314.3 182.6a0.8 0.8 0 1 0 1.6 0a0.8 0.8 0 1 0 -1.6 0M336.7 195.6a0.8 0.8 0 1 0 1.6 0a0.8 0.8 0 1 0 -1.6 0"/>
<path fill="#ff0000" d="M353.9 166.5a0.8 0.8 0 1 0 1.6 0a0.8 0.8 0 1 0 -1.6 0"/>
<path fill="#000000" d="M361.5 180.0a0.8 0.8 0 1 0 1.6 0a0.8 0.8 0 1 0 -1.6 0M333.5 177.1a0.8 0.8 0 1 0 1.6 0a0.8 0.8 0 1 0 -1.6 0M346.2 198.0a0.8 0.8 0 1 0 1.6 0a0.8 0.8 0 1 0 -1.6 0"/>
<path fill="#ff0000" d="M403.6 168.7a0.8 0.8 0 1 0 1.6 0a0.8 0.8 0 1 0 -1.6 0"/>
<path fill="#000000" d="M336.8 166.9a0.8 0.8 0 1 0 1.6 0a0.8 0.8 0 1 0 -1.6 0"/>
<path fill="#ff0000" d="M362.6 161.4a0.8 0.8 0 1 0 1.6 0a0.8 0.8 0 1 0 -1.6 0M383.8 147.8a0.8 0.8 0 1 0 1.6 0a0.8 0.8 0 1 0 -1.6 0"/>
<path fill="#000000" d="M348.6 181.4a0.8 0.8 0 1 0 1.6 0a0.8 0.8 0 1 0 -1.6 0"/>
<path fill="#ff0000" d="M369.2 168.3a0.8 0.8 0 1 0 1.6 0a0.8 0.8 0 1 0 -1.6 0M358.9 156.0a0.8 0.8 0 1 0 1.6 0a0.8 0.8 0 1 0 -1.6 0M389.1 160.0a0.8 0.8 0 1 0 1.6 0a0.8 0.8 0 1 0 -1.6 0M424.9 187.3a0.8 0.8 0 1 0 1.6 0a0.8 0.8 0 1 0 -1.6 0M370.5 168.0a0.8 0.8 0 1 0 1.6 0a0.8 0.8 0 1 0 -1.6 0M376.5 174.2a0.8 0.8 0 1 0 1.6 0a0.8 0.8 0 1 0 -1.6 0M389.2 165.4a0.8 0.8 0 1 0 1.6 0a0.8 0.8 0 1 0 -1.6 0"/>
<path fill="#000000" d="M344.5 177.1a0.8 0.8 0 1 0 1.6 0a0.8 0.8 0 1 0 -1.6 0M388.9 186.7a0.8 0.8 0 1 0 1.6 0a0.8 0.8 0 1 0 -1.6 0"/>
<path fill="#ff0000" d="M336.4 149.1a0.8 0.8 0 1 0 1.6 0a0.8 0.8 0 1 0 -1.6 0"/>
<path fill="#000000" d="M320.6 180.7a0.8 0.8 0 1 0 1.6 0a0.8 0.8 0 1 0 -1.6 0M336.4 162.3a0.8 0.8 0 1 0 1.6 0a0.8 0.8 0 1 0 -1.6 0M336.6 172.6a0.8 0.8 0 1 0 1.6 0a0.8 0.8 0 1 0 -1.6 0M325.6 173.4a0.8 0.8 0 1 0 1.6 0a0.8 0.8 0 1 0 -1.6 0"/>
<path fill="#ff0000" d="M373.0 81.5a0.8 0.8 0 1 0 1.6 0a0.8 0.8 0 1 0 -1.6 0M355.4 164.4a0.8 0.8 0 1 0 1.6 0a0.8 0.8 0 1 0 -1.6 0"/>
<path fill="#000000" d="M343.4 181.3a0.8 0.8 0 1 0 1.6 0a0.8 0.8 0 1 0 -1.6 0M335.6 149.4a0.8 0.8 0 1 0 1.6 0a0.8 0.8 0 1 0 -1.6 0M350.6 182.9a0.8 0.8 0 1 0 1.6 0a0.8 0.8 0 1 0 -1.6 0M312.1 181.5a0.8 0.8 0 1 0 1.6 0a0.8 0.8 0 1 0 -1.6 0M322.5 161.6a0.8 0.8 0 1 0 1.6 0a0.8 0.8 0 1 0 -1.6 0"/>
<path fill="#ff0000" d="M342.8 172.2a0.8 0.8 0 1 0 1.6 0a0.8 0.8 0 1 0 -1.6 0"/>
<path fill="#000000" d="M318.9 164.8a0.8 0.8 0 1 0 1.6 0a0.8 0.8 0 1 0 -1.6 0"/>
<path fill="#ff0000" d="M379.9 173.7a0.8 0.8 0 1 0 1.6 0a0.8 0.8 0 1 0 -1.6 0"/>
<path fill="#000000" d="M324.4 174.6a0.8 0.8 0 1 0 1.6 0a0.8 0.8 0 1 0 -1.6 0M356.1 179.4a0.8 0.8 0 1 0 1.6 0a0.8 0.8 0 1 0 -1.6 0M352.9 170.2a0.8 0.8 0 1 0 1.6 0a0.8 0.8 0 1 0 -1.6 0M329.2 189.3a0.8 0.8 0 1 0 1.6 0a0.8 0.8 0 1 0 -1.6 0M328.6 186.6a0.8 0.8 0 1 0 1.6 0a0.8 0.8 0 1 0 -1.6 0"/>
<path fill="#ff0000" d="M365.0 153.4a0.8 0.8 0 1 0 1.6 0a0.8 0.8 0 1 0 -1.6 0M382.6 172.9a0.8 0.8 0 1 0 1.6 0a0.8 0.8 0 1 0 -1.6 0M423.9 176.1a0.8 0.8 0 1 0 1.6 0a0.8 0.8 0 1 0 -1.6 0M366.8 170.8a0.8 0.8 0 1 0 1.6 0a0.8 0.8 0 1 0 -1.6 0"/>
<path fill="#000000" d="M326.2 181.0a0.8 0.8 0 1 0 1.6 0a0.8 0.8 0 1 0 -1.6 0"/>
<path fill="#ff0000" d="M349.4 160.2a0.8 0.8 0 1 0 1.6 0a0.8 0.8 0 1 0 -1.6 0"/>
<path fill="#000000" d="M329.4 183.1a0.8 0.8 0 1 0 1.6 0a0.8 0.8 0 1 0 -1.6 0"/>
<path fill="#ff0000" d="M346.7 162.8a0.8 0.8 0 1 0 1.6 0a0.8 0.8 0 1 0 -1.6 0"/>
<path fill="#000000" d="M344.6 177.8a0.8 0.8 0 1 0 1.6 0a0.8 0.8 0 1 0 -1.6 0"/>
<path fill="#ff0000" d="M377.1 149.1a0.8 0.8 0 1 0 1.6 0a0.8 0.8 0 1 0 -1.6 0M354.8 156.4a0.8 0.8 0 1 0 1.6 0a0.8 0.8 0 1 0 -1.6 0M355.1 160.6a0.8 0.8 0 1 0 1.6 0a0.8 0.8 0 1 0 -1.6 0"/>
<path fill="#000000" d="M341.8 186.2a0.8 0.8 0 1 0 1.6 0a0.8 0.8 0 1 0 -1.6 0M319.1 173.8a0.8 0.8 0 1 0 1.6 0a0.8 0.8 0 1 0 -1.6 0"/>
<path fill="#ff0000" d="M355.2 162.7a0.8 0.8 0 1 0 1.6 0a0.8 0.8 0 1 0 -1.6 0"/>
<path fill="#000000" d="M371.3 182.1a0.8 0.8 0 1 0 1.6 0a0.8 0.8 0 1 0 -1.6 0"/>
<path fill="#ff0000" d="M409.9 186.5a0.8 0.8 0 1 0 1.6 0a0.8 0.8 0 1 0 -1.6 0M338.2 169.5a0.8 0.8 0 1 0 1.6 0a0.8 0.8 0 1 0 -1.6 0"/>
<path fill="#000000" d="M354.0 166.6a0.8 0.8 0 1 0 1.6 0a0.8 0.8 0 1 0 -1.6 0"/>
<path fill="#ff0000" d="M359.9 167.0a0.8 0.8 0 1 0 1.6 0a0.8 0.8 0 1 0 -1.6 0M367.4 173.6a0.8 0.8 0 1 0 1.6 0a0.8 0.8 0 1 0 -1.6 0M363.4 172.6a0.8 0.8 0 1 0 1.6 0a0.8 0.8 0 1 0 -1.6 0M339.7 148.8a0.8 0.8 0 1 0 1.6 0a0.8 0.8 0 1 0 -1.6 0"/>
<path fill="#000000" d="M315.1 193.9a0.8 0.8 0 1 0 1.6 0a0.8 0.8 0 1 0 -1.6 0M345.5 161.5a0.8 0.8 0 1 0 1.6 0a0.8 0.8 0 1 0 -1.6 0"/>
<path fill="#ff0000" d="M351.5 165.6a0.8 0.8 0 1 0 1.6 0a0.8 0.8 0 1 0 -1.6 0M368.1 172.5a0.8 0.8 0 1 0 1.6 0a0.8 0.8 0 1 0 -1.6 0M367.7 160.2a0.8 0.8 0 1 0 1.6 0a0.8 0.8 0 1 0 -1.6 0"/>
<path fill="#000000" d="M357.6 186.3a0.8 0.8 0 1 0 1.6 0a0.8 0.8 0 1 0 -1.6 0"/>
<path fill="#ff0000" d="M362.4 162.6a0.8 0.8 0 1 0 1.6 0a0.8 0.8 0 1 0 -1.6 0"/>
<path fill="#000000" d="M344.0 172.6a0.8 0.8 0 1 0 1.6 0a0.8 0.8 0 1 0 -1.6 0M345.4 184.2a0.8 0.8 0 1 0 1.6 0a0.8 0.8 0 1 0 -1.6 0"/>
<path fill="#ff0000" d="M372.4 158.4a0.8 0.8 0 1 0 1.6 0a0.8 0.8 0 1 0 -1.6 0"/>
<path fill="#000000" d="M354.3 184.4a0.8 0.8 0 1 0 1.6 0a0.8 0.8 0 1 0 -1.6 0"/>
<path fill="#ff0000" d="M364.1 145.5a0.8 0.8 0 1 0 1.6 0a0.8 0.8 0 1 0 -1.6 0M337.3 155.0a0.8 0.8 0 1 0 1.6 0a0.8 0.8 0 1 0 -1.6 0"/>
<path fill="#000000" d="M339.2 183.0a0.8 0.8 0 1 0 1.6 0a0.8 0.8 0 1 0 -1.6 0"/>
<path fill="#ff0000" d="M351.0 172.0a0.8 0.8 0 1 0 1.6 0a0.8 0.8 0 1 0 -1.6 0M374.2 162.6a0.8 0.8 0 1 0 1.6 0a0.8 0.8 0 1 0 -1.6 0"/>
<path fill="#000000" d="M325.1 185.0a0.8 0.8 0 1 0 1.6 0a0.8 0.8 0 1 0 -1.6 0"/>
<path fill="#ff0000" d="M357.8 178.2a0.8 0.8 0 1 0 1.6 0a0.8 0.8 0 1 0 -1.6 0M344.2 168.0a0.8 0.8 0 1 0 1.6 0a0.8 0.8 0 1 0 -1.6 0M334.6 181.5a0.8 0.8 0 1 0 1.6 0a0.8 0.8 0 1 0 -1.6 0M346.8 164.2a0.8 0.8 0 1 0 1.6 0a0.8 0.8 0 1 0 -1.6 0M361.9 170.4a0.8 0.8 0 1 0 1.6 0a0.8 0.8 0 1 0 -1.6 0M346.5 170.3a0.8 0.8 0 1 0 1.6 0a0.8 0.8 0 1 0 -1.6 0"/>
<path fill="#000000" d="M319.9 170.1a0.8 0.8 0 1 0 1.6 0a0.8 0.8 0 1 0 -1.6 0"/>
<path fill="#ff0000" d="M364.9 167.4a0.8 0.8 0 1 0 1.6 0a0.8 0.8 0 1 0 -1.6 0"/>
<path fill="#000000" d="M354.3 201.2a0.8 0.8 0 1 0 1.6 0a0.8 0.8 0 1 0 -1.6 0"/>
<path fill="#ff0000" d="M340.0 136.3a0.8 0.8 0 1 0 1.6 0a0.8 0.8 0 1 0 -1.6 0M434.3 173.4a0.8 0.8 0 1 0 1.6 0a0.8 0.8 0 1 0 -1.6 0"/>
<path fill="#000000" d="M339.3 182.6a0.8 0.8 0 1 0 1.6 0a0.8 0.8 0 1 0 -1.6 0"/>
<path fill="#ff0000" d="M351.2 141.4a0.8 0.8 0 1 0 1.6 0a0.8 0.8 0 1 0 -1.6 0"/>
<path fill="#000000" d="M337.9 179.6a0.8 0.8 0 1 0 1.6 0a0.8 0.8 0 1 0 -1.6 0M345.2 187.9a0.8 0.8 0 1 0 1.6 0a0.8 0.8 0 1 0 -1.6 0M335.1 183.5a0.8 0.8 0 1 0 1.6 0a0.8 0.8 0 1 0 -1.6 0"/>
<path fill="#ff0000" d="M382.3 176.5a0.8 0.8 0 1 0 1.6 0a0.8 0.8 0 1 0 -1.6 0"/>
<path fill="#000000" d="M328.7 172.7a0.8 0.8 0 1 0 1.6 0a0.8 0.8 0 1 0 -1.6 0"/>
<path fill="#ff0000" d="M370.3 173.3a0.8 0.8 0 1 0 1.6 0a0.8 0.8 0 1 0 -1.6 0M427.8 170.8a0.8 0.8 0 1 0 1.6 0a0.8 0.8 0 1 0 -1.6 0M367.8 158.6a0.8 0.8 0 1 0 1.6 0a0.8 0.8 0 1 0 -1.6 0"/>
<path fill="#000000" d="M325.7 182.3a0.8 0.8 0 1 0 1.6 0a0.8 0.8 0 1 0 -1.6 0M339.3 180.4a0.8 0.8 0 1 0 1.6 0a0.8 0.8 0 1 0 -1.6 0M349.3 187.2a0.8 0.8 0 1 0 1.6 0a0.8 0.8 0 1 0 -1.6 0"/>
<path fill="#ff0000" d="M354.7 174.7a0.8 0.8 0 1 0 1.6 0a0.8 0.8 0 1 0 -1.6 0"/>
<path fill="#000000" d="M317.8 181.6a0.8 0.8 0 1 0 1.6 0a0.8 0.8 0 1 0 -1.6 0M358.3 181.9a0.8 0.8 0 1 0 1.6 0a0.8 0.8 0 1 0 -1.6 0"/>
<path fill="#ff0000" d="M308.7 141.4a0.8 0.8 0 1 0 1.6 0a0.8 0.8 0 1 0 -1.6 0"/>
<path fill="#000000" d="M336.1 187.9a0.8 0.8 0 1 0 1.6 0a0.8 0.8 0 1 0 -1.6 0M354.8 173.9a0.8 0.8 0 1 0 1.6 0a0.8 0.8 0 1 0 -1.6 0"/>
<path fill="#ff0000" d="M353.9 173.1a0.8 0.8 0 1 0 1.6 0a0.8 0.8 0 1 0 -1.6 0"/>
<path fill="#000000" d="M350.1 170.0a0.8 0.8 0 1 0 1.6 0a0.8 0.8 0 1 0 -1.6 0M330.8 189.9a0.8 0.8 0 1 0 1.6 0a0.8 0.8 0 1 0 -1.6 0M345.7 168.3a0.8 0.8 0 1 0 1.6 0a0.8 0.8 0 1 0 -1.6 0M330.2 187.2a0.8 0.8 0 1 0 1.6 0a0.8 0.8 0 1 0 -1.6 0M380.8 189.9a0.8 0.8 0 1 0 1.6 0a0.8 0.8 0 1 0 -1.6 0M343.8 164.5a0.8 0.8 0 1 0 1.6 0a0.8 0.8 0 1 0 -1.6 0"/>
<path fill="#ff0000" d="M378.1 163.3a0.8 0.8 0 1 0 1.6 0a0.8 0.8 0 1 0 -1.6 0"/>
<path fill="#000000" d="M324.3 185.9a0.8 0.8 0 1 0 1.6 0a0.8 0.8 0 1 0 -1.6 0"/>
<path fill="#ff0000" d="M334.8 150.5a0.8 0.8 0 1 0 1.6 0a0.8 0.8 0 1 0 -1.6 0"/>
<path fill="#000000" d="M373.6 170.2a0.8 0.8 0 1 0 1.6 0a0.8 0.8 0 1 0 -1.6 0M351.1 186.6a0.8 0.8 0 1 0 1.6 0a0.8 0.8 0 1 0 -1.6 0M321.1 185.9a0.8 0.8 0 1 0 1.6 0a0.8 0.8 0 1 0 -1.6 0M353.2 174.7a0.8 0.8 0 1 0 1.6 0a0.8 0.8 0 1 0 -1.6 0M319.4 174.6a0.8 0.8 0 1 0 1.6 0a0.8 0.8 0 1 0 -1.6 0"/>
<path fill="#ff0000" d="M373.0 180.1a0.8 0.8 0 1 0 1.6 0a0.8 0.8 0 1 0 -1.6 0"/>
<path fill="#000000" d="M347.8 186.1a0.8 0.8 0 1 0 1.6 0a0.8 0.8 0 1 0 -1.6 0"/>
<path fill="#ff0000" d="M374.2 153.0a0.8 0.8 0 1 0 1.6 0a0.8 0.8 0 1 0 -1.6 0M392.9 174.5a0.8 0.8 0 1 0 1.6 0a0.8 0.8 0 1 0 -1.6 0M362.4 174.3a0.8 0.8 0 1 0 1.6 0a0.8 0.8 0 1 0 -1.6 0M373.0 179.9a0.8 0.8 0 1 0 1.6 0a0.8 0.8 0 1 0 -1.6 0"/>
<path fill="#000000" d="M367.3 186.1a0.8 0.8 0 1 0 1.6 0a0.8 0.8 0 1 0 -1.6 0"/>
<path fill="#ff0000" d="M327.5 162.2a0.8 0.8 0 1 0 1.6 0a0.8 0.8 0 1 0 -1.6 0M376.2 165.0a0.8 0.8 0 1 0 1.6 0a0.8 0.8 0 1 0 -1.6 0"/>
<path fill="#000000" d="M338.4 184.7a0.8 0.8 0 1 0 1.6 0a0.8 0.8 0 1 0 -1.6 0"/>
<path fill="#ff0000" d="M336.9 172.5a0.8 0.8 0 1 0 1.6 0a0.8 0.8 0 1 0 -1.6 0"/>
<path fill="#000000" d="M381.7 182.6a0.8 0.8 0 1 0 1.6 0a0.8 0.8 0 1 0 -1.6 0"/>
<path fill="#ff0000" d="M359.8 169.4a0.8 0.8 0 1 0 1.6 0a0.8 0.8 0 1 0 -1.6 0M348.6 148.6a0.8 0.8 0 1 0 1.6 0a0.8 0.8 0 1 0 -1.6 0"/>
<path fill="#000000" d="M349.4 175.8a0.8 0.8 0 1 0 1.6 0a0.8 0.8 0 1 0 -1.6 0M328.2 186.8a0.8 0.8 0 1 0 1.6 0a0.8 0.8 0 1 0 -1.6 0"/>
<path fill="#ff0000" d="M346.6 154.9a0.8 0.8 0 1 0 1.6 0a0.8 0.8 0 1 0 -1.6 0M397.8 182.4a0.8 0.8 0 1 0 1.6 0a0.8 0.8 0 1 0 -1.6 0M313.8 125.8a0.8 0.8 0 1 0 1.6 0a0.8 0.8 0 1 0 -1.6 0M357.0 173.5a0.8 0.8 0 1 0 1.6 0a0.8 0.8 0 1 0 -1.6 0"/>
<path fill="#000000" d="M336.2 193.1a0.8 0.8 0 1 0 1.6 0a0.8 0.8 0 1 0 -1.6 0"/>
<path fill="#ff0000" d="M367.3 163.1a0.8 0.8 0 1 0 1.6 0a0.8 0.8 0 1 0 -1.6 0"/>
<path fill="#000000" d="M339.2 172.2a0.8 0.8 0 1 0 1.6 0a0.8 0.8 0 1 0 -1.6 0"/>
<path fill="#ff0000" d="M392.2 168.3a0.8 0.8 0 1 0 1.6 0a0.8 0.8 0 1 0 -1.6 0"/>
<path fill="#000000" d="M353.2 194.2a0.8 0.8 0 1 0 1.6 0a0.8 0.8 0 1 0 -1.6 0"/>
<path fill="#ff0000" d="M372.2 177.4a0.8 0.8 0 1 0 1.6 0a0.8 0.8 0 1 0 -1.6 0"/>
<path fill="#000000" d="M330.6 187.3a0.8 0.8 0 1 0 1.6 0a0.8 0.8 0 1 0 -1.6 0"/>
<path fill="#ff0000" d="M383.0 182.6a0.8 0.8 0 1 0 1.6 0a0.8 0.8 0 1 0 -1.6 0M394.6 166.0a0.8 0.8 0 1 0 1.6 0a0.8 0.8 0 1 0 -1.6 0"/>
<path fill="#000000" d="M339.1 181.9a0.8 0.8 0 1 0 1.6 0a0.8 0.8 0 1 0 -1.6 0M331.4 187.2a0.8 0.8 0 1 0 1.6 0a0.8 0.8 0 1 0 -1.6 0"/>
<path fill="#ff0000" d="M396.9 164.2a0.8 0.8 0 1 0 1.6 0a0.8 0.8 0 1 0 -1.6 0M362.6 159.3a0.8 0.8 0 1 0 1.6 0a0.8 0.8 0 1 0 -1.6 0"/>
<path fill="#000000" d="M322.7 169.9a0.8 0.8 0 1 0 1.6 0a0.8 0.8 0 1 0 -1.6 0M344.6 186.3a0.8 0.8 0 1 0 1.6 0a0.8 0.8 0 1 0 -1.6 0"/>
<path fill="#ff0000" d="M343.7 178.5a0.8 0.8 0 1 0 1.6 0a0.8 0.8 0 1 0 -1.6 0M336.8 130.9a0.8 0.8 0 1 0 1.6 0a0.8 0.8 0 1 0 -1.6 0"/>
<path fill="#000000" d="M361.3 192.6a0.8 0.8 0 1 0 1.6 0a0.8 0.8 0 1 0 -1.6 0M406.6 176.6a0.8 0.8 0 1 0 1.6 0a0.8 0.8 0 1 0 -1.6 0"/>
<path fill="#ff0000" d="M427.1 180.9a0.8 0.8 0 1 0 1.6 0a0.8 0.8 0 1 0 -1.6 0M380.8 171.2a0.8 0.8 0 1 0 1.6 0a0.8 0.8 0 1 0 -1.6 0M320.7 148.9a0.8 0.8 0 1 0 1.6 0a0.8 0.8 0 1 0 -1.6 0"/>
<path fill="#000000" d="M334.2 175.9a0.8 0.8 0 1 0 1.6 0a0.8 0.8 0 1 0 -1.6 0M362.4 191.5a0.8 0.8 0 1 0 1.6 0a0.8 0.8 0 1 0 -1.6 0M333.2 172.9a0.8 0.8 0 1 0 1.6 0a0.8 0.8 0 1 0 -1.6 0"/>
<path fill="#ff0000" d="M451.3 178.4a0.8 0.8 0 1 0 1.6 0a0.8 0.8 0 1 0 -1.6 0M354.4 153.5a0.8 0.8 0 1 0 1.6 0a0.8 0.8 0 1 0 -1.6 0M389.8 166.3a0.8 0.8 0 1 0 1.6 0a0.8 0.8 0 1 0 -1.6 0M377.2 162.3a0.8 0.8 0 1 0 1.6 0a0.8 0.8 0 1 0 -1.6 0"/>
<path fill="#000000" d="M325.4 189.9a0.8 0.8 0 1 0 1.6 0a0.8 0.8 0 1 0 -1.6 0M341.8 181.3a0.8 0.8 0 1 0 1.6 0a0.8 0.8 0 1 0 -1.6 0"/>
<path fill="#ff0000" d="M356.2 163.2a0.8 0.8 0 1 0 1.6 0a0.8 0.8 0 1 0 -1.6 0"/>
<path fill="#000000" d="M347.3 180.0a0.8 0.8 0 1 0 1.6 0a0.8 0.8 0 1 0 -1.6 0"/>
<path fill="#ff0000" d="M341.0 153.1a0.8 0.8 0 1 0 1.6 0a0.8 0.8 0 1 0 -1.6 0"/>
<path fill="#000000" d="M317.3 181.6a0.8 0.8 0 1 0 1.6 0a0.8 0.8 0 1 0 -1.6 0M318.2 184.4a0.8 0.8 0 1 0 1.6 0a0.8 0.8 0 1 0 -1.6 0M346.5 172.5a0.8 0.8 0 1 0 1.6 0a0.8 0.8 0 1 0 -1.6 0"/>
<path fill="#ff0000" d="M373.8 179.5a0.8 0.8 0 1 0 1.6 0a0.8 0.8 0 1 0 -1.6 0M335.0 166.6a0.8 0.8 0 1 0 1.6 0a0.8 0.8 0 1 0 -1.6 0"/>
<path fill="#000000" d="M358.6 187.2a0.8 0.8 0 1 0 1.6 0a0.8 0.8 0 1 0 -1.6 0M361.3 195.6a0.8 0.8 0 1 0 1.6 0a0.8 0.8 0 1 0 -1.6 0"/>
<path fill="#ff0000" d="M390.0 168.9a0.8 0.8 0 1 0 1.6 0a0.8 0.8 0 1 0 -1.6 0M370.9 146.3a0.8 0.8 0 1 0 1.6 0a0.8 0.8 0 1 0 -1.6 0"/>
<path fill="#000000" d="M366.5 180.8a0.8 0.8 0 1 0 1.6 0a0.8 0.8 0 1 0 -1.6 0"/>
<path fill="#ff0000" d="M366.7 170.6a0.8 0.8 0 1 0 1.6 0a0.8 0.8 0 1 0 -1.6 0"/>
<path fill="#000000" d="M358.1 191.5a0.8 0.8 0 1 0 1.6 0a0.8 0.8 0 1 0 -1.6 0M328.8 181.3a0.8 0.8 0 1 0 1.6 0a0.8 0.8 0 1 0 -1.6 0M301.2 177.3a0.8 0.8 0 1 0 1.6 0a0.8 0.8 0 1 0 -1.6 0M324.3 184.4a0.8 0.8 0 1 0 1.6 0a0.8 0.8 0 1 0 -1.6 0M350.6 177.0a0.8 0.8 0 1 0 1.6 0a0.8 0.8 0 1 0 -1.6 0"/>
<path fill="#ff0000" d="M378.2 179.9a0.8 0.8 0 1 0 1.6 0a0.8 0.8 0 1 0 -1.6 0"/>
<path fill="#000000" d="M315.8 185.6a0.8 0.8 0 1 0 1.6 0a0.8 0.8 0 1 0 -1.6 0"/>
<path fill="#ff0000" d="M382.4 188.2a0.8 0.8 0 1 0 1.6 0a0.8 0.8 0 1 0 -1.6 0"/>
<path fill="#000000" d="M338.7 171.4a0.8 0.8 0 1 0 1.6 0a0.8 0.8 0 1 0 -1.6 0M329.6 160.3a0.8 0.8 0 1 0 1.6 0a0.8 0.8 0 1 0 -1.6 0M344.6 194.7a0.8 0.8 0 1 0 1.6 0a0.8 0.8 0 1 0 -1.6 0M342.8 188.0a0.8 0.8 0 1 0 1.6 0a0.8 0.8 0 1 0 -1.6 0M353.2 168.1a0.8 0.8 0 1 0 1.6 0a0.8 0.8 0 1 0 -1.6 0M356.7 187.2a0.8 0.8 0 1 0 1.6 0a0.8 0.8 0 1 0 -1.6 0"/>
<path fill="#ff0000" d="M383.9 165.5a0.8 0.8 0 1 0 1.6 0a0.8 0.8 0 1 0 -1.6 0M362.1 169.7a0.8 0.8 0 1 0 1.6 0a0.8 0.8 0 1 0 -1.6 0"/>
<path fill="#000000" d="M341.5 174.5a0.8 0.8 0 1 0 1.6 0a0.8 0.8 0 1 0 -1.6 0"/>
<path fill="#ff0000" d="M366.5 153.8a0.8 0.8 0 1 0 1.6 0a0.8 0.8 0 1 0 -1.6 0M387.4 149.1a0.8 0.8 0 1 0 1.6 0a0.8 0.8 0 1 0 -1.6 0M334.0 148.6a0.8 0.8 0 1 0 1.6 0a0.8 0.8 0 1 0 -1.6 0M346.6 181.2a0.8 0.8 0 1 0 1.6 0a0.8 0.8 0 1 0 -1.6 0M373.8 149.8a0.8 0.8 0 1 0 1.6 0a0.8 0.8 0 1 0 -1.6 0"/>
<path fill="#000000" d="M375.0 168.4a0.8 0.8 0 1 0 1.6 0a0.8 0.8 0 1 0 -1.6 0M317.3 184.5a0.8 0.8 0 1 0 1.6 0a0.8 0.8 0 1 0 -1.6 0M309.7 162.6a0.8 0.8 0 1 0 1.6 0a0.8 0.8 0 1 0 -1.6 0M336.5 165.2a0.8 0.8 0 1 0 1.6 0a0.8 0.8 0 1 0 -1.6 0M317.1 148.1a0.8 0.8 0 1 0 1.6 0a0.8 0.8 0 1 0 -1.6 0M329.0 180.4a0.8 0.8 0 1 0 1.6 0a0.8 0.8 0 1 0 -1.6 0M326.5 179.0a0.8 0.8 0 1 0 1.6 0a0.8 0.8 0 1 0 -1.6 0"/>
<path fill="#ff0000" d="M381.7 166.6a0.8 0.8 0 1 0 1.6 0a0.8 0.8 0 1 0 -1.6 0M345.7 147.1a0.8 0.8 0 1 0 1.6 0a0.8 0.8 0 1 0 -1.6 0M352.2 177.4a0.8 0.8 0 1 0 1.6 0a0.8 0.8 0 1 0 -1.6 0M396.4 160.6a0.8 0.8 0 1 0 1.6 0a0.8 0.8 0 1 0 -1.6 0"/>
<path fill="#000000" d="M325.3 183.9a0.8 0.8 0 1 0 1.6 0a0.8 0.8 0 1 0 -1.6 0"/>
<path fill="#ff0000" d="M336.2 162.0a0.8 0.8 0 1 0 1.6 0a0.8 0.8 0 1 0 -1.6 0M424.9 176.5a0.8 0.8 0 1 0 1.6 0a0.8 0.8 0 1 0 -1.6 0"/>
<path fill="#000000" d="M363.6 185.9a0.8 0.8 0 1 0 1.6 0a0.8 0.8 0 1 0 -1.6 0"/>
<path fill="#ff0000" d="M321.7 146.3a0.8 0.8 0 1 0 1.6 0a0.8 0.8 0 1 0 -1.6 0"/>
<path fill="#000000" d="M302.5 158.8a0.8 0.8 0 1 0 1.6 0a0.8 0.8 0 1 0 -1.6 0M352.5 178.6a0.8 0.8 0 1 0 1.6 0a0.8 0.8 0 1 0 -1.6 0"/>
<path fill="#ff0000" d="M384.5 158.5a0.8 0.8 0 1 0 1.6 0a0.8 0.8 0 1 0 -1.6 0"/>
<path fill="#000000" d="M342.4 181.1a0.8 0.8 0 1 0 1.6 0a0.8 0.8 0 1 0 -1.6 0"/>
<path fill="#ff0000" d="M366.9 161.3a0.8 0.8 0 1 0 1.6 0a0.8 0.8 0 1 0 -1.6 0M385.2 152.4a0.8 0.8 0 1 0 1.6 0a0.8 0.8 0 1 0 -1.6 0"/>
<path fill="#000000" d="M345.8 187.5a0.8 0.8 0 1 0 1.6 0a0.8 0.8 0 1 0 -1.6 0M298.3 164.4a0.8 0.8 0 1 0 1.6 0a0.8 0.8 0 1 0 -1.6 0M328.7 173.0a0.8 0.8 0 1 0 1.6 0a0.8 0.8 0 1 0 -1.6 0M363.2 178.8a0.8 0.8 0 1 0 1.6 0a0.8 0.8 0 1 0 -1.6 0M353.0 174.8a0.8 0.8 0 1 0 1.6 0a0.8 0.8 0 1 0 -1.6 0M333.7 171.3a0.8 0.8 0 1 0 1.6 0a0.8 0.8 0 1 0 -1.6 0M364.0 186.6a0.8 0.8 0 1 0 1.6 0a0.8 0.8 0 1 0 -1.6 0"/>
<path fill="#ff0000" d="M351.9 165.1a0.8 0.8 0 1 0 1.6 0a0.8 0.8 0 1 0 -1.6 0M365.3 161.6a0.8 0.8 0 1 0 1.6 0a0.8 0.8 0 1 0 -1.6 0"/>
<path fill="#000000" d="M363.5 173.3a0.8 0.8 0 1 0 1.6 0a0.8 0.8 0 1 0 -1.6 0"/>
<path fill="#ff0000" d="M376.6 169.7a0.8 0.8 0 1 0 1.6 0a0.8 0.8 0 1 0 -1.6 0"/>
<path fill="#000000" d="M325.6 175.2a0.8 0.8 0 1 0 1.6 0a0.8 0.8 0 1 0 -1.6 0"/>
<path fill="#ff0000" d="M323.6 141.4a0.8 0.8 0 1 0 1.6 0a0.8 0.8 0 1 0 -1.6 0"/>
<path fill="#000000" d="M324.6 184.5a0.8 0.8 0 1 0 1.6 0a0.8 0.8 0 1 0 -1.6 0"/>
<path fill="#ff0000" d="M427.8 182.3a0.8 0.8 0 1 0 1.6 0a0.8 0.8 0 1 0 -1.6 0"/>
<path fill="#000000" d="M331.5 181.6a0.8 0.8 0 1 0 1.6 0a0.8 0.8 0 1 0 -1.6 0M343.7 181.1a0.8 0.8 0 1 0 1.6 0a0.8 0.8 0 1 0 -1.6 0M329.1 170.2a0.8 0.8 0 1 0 1.6 0a0.8 0.8 0 1 0 -1.6 0M325.4 182.0a0.8 0.8 0 1 0 1.6 0a0.8 0.8 0 1 0 -1.6 0"/>
<path fill="#ff0000" d="M354.7 187.1a0.8 0.8 0 1 0 1.6 0a0.8 0.8 0 1 0 -1.6 0M369.7 158.6a0.8 0.8 0 1 0 1.6 0a0.8 0.8 0 1 0 -1.6 0"/>
<path fill="#000000" d="M360.9 179.5a0.8 0.8 0 1 0 1.6 0a0.8 0.8 0 1 0 -1.6 0M332.2 187.7a0.8 0.8 0 1 0 1.6 0a0.8 0.8 0 1 0 -1.6 0"/>
<path fill="#ff0000" d="M369.2 161.8a0.8 0.8 0 1 0 1.6 0a0.8 0.8 0 1 0 -1.6 0"/>
<path fill="#ff0000" d="M524.3 134.7a0.8 0.8 0 1 0 1.6 0a0.8 0.8 0 1 0 -1.6 0M558.0 174.2a0.8 0.8 0 1 0 1.6 0a0.8 0.8 0 1 0 -1.6 0"/>
<path fill="#000000" d="M564.6 180.8a0.8 0.8 0 1 0 1.6 0a0.8 0.8 0 1 0 -1.6 0"/>
<path fill="#ff0000" d="M590.1 180.8a0.8 0.8 0 1 0 1.6 0a0.8 0.8 0 1 0 -1.6 0M591.1 177.4a0.8 0.8 0 1 0 1.6 0a0.8 0.8 0 1 0 -1.6 0"/>
<path fill="#000000" d="M556.3 138.0a0.8 0.8 0 1 0 1.6 0a0.8 0.8 0 1 0 -1.6 0"/>
<path fill="#ff0000" d="M543.2 174.2a0.8 0.8 0 1 0 1.6 0a0.8 0.8 0 1 0 -1.6 0M548.5 180.8a0.8 0.8 0 1 0 1.6 0a0.8 0.8 0 1 0 -1.6 0M549.7 151.2a0.8 0.8 0 1 0 1.6 0a0.8 0.8 0 1 0 -1.6 0"/>
<path fill="#000000" d="M565.0 174.2a0.8 0.8 0 1 0 1.6 0a0.8 0.8 0 1 0 -1.6 0"/>
<path fill="#ff0000" d="M591.6 174.2a0.8 0.8 0 1 0 1.6 0a0.8 0.8 0 1 0 -1.6 0M562.3 157.8a0.8 0.8 0 1 0 1.6 0a0.8 0.8 0 1 0 -1.6 0"/>
<path fill="#000000" d="M593.5 151.2a0.8 0.8 0 1 0 1.6 0a0.8 0.8 0 1 0 -1.6 0"/>
<path fill="#ff0000" d="M568.3 171.0a0.8 0.8 0 1 0 1.6 0a0.8 0.8 0 1 0 -1.6 0"/>
<path fill="#000000" d="M548.5 138.0a0.8 0.8 0 1 0 1.6 0a0.8 0.8 0 1 0 -1.6 0"/>
<path fill="#ff0000" d="M563.2 187.4a0.8 0.8 0 1 0 1.6 0a0.8 0.8 0 1 0 -1.6 0M545.2 177.4a0.8 0.8 0 1 0 1.6 0a0.8 0.8 0 1 0 -1.6 0"/>
<path fill="#000000" d="M578.2 164.5a0.8 0.8 0 1 0 1.6 0a0.8 0.8 0 1 0 -1.6 0"/>
<path fill="#ff0000" d="M556.1 161.2a0.8 0.8 0 1 0 1.6 0a0.8 0.8 0 1 0 -1.6 0M607.1 174.2a0.8 0.8 0 1 0 1.6 0a0.8 0.8 0 1 0 -1.6 0"/>
<path fill="#000000" d="M567.4 161.2a0.8 0.8 0 1 0 1.6 0a0.8 0.8 0 1 0 -1.6 0M569.1 134.7a0.8 0.8 0 1 0 1.6 0a0.8 0.8 0 1 0 -1.6 0M589.2 154.6a0.8 0.8 0 1 0 1.6 0a0.8 0.8 0 1 0 -1.6 0"/>
<path fill="#ff0000" d="M563.2 184.2a0.8 0.8 0 1 0 1.6 0a0.8 0.8 0 1 0 -1.6 0M556.6 174.2a0.8 0.8 0 1 0 1.6 0a0.8 0.8 0 1 0 -1.6 0"/>
<path fill="#000000" d="M564.4 167.7a0.8 0.8 0 1 0 1.6 0a0.8 0.8 0 1 0 -1.6 0"/>
<path fill="#ff0000" d="M544.2 174.2a0.8 0.8 0 1 0 1.6 0a0.8 0.8 0 1 0 -1.6 0"/>
<path fill="#000000" d="M576.8 171.0a0.8 0.8 0 1 0 1.6 0a0.8 0.8 0 1 0 -1.6 0M587.5 171.0a0.8 0.8 0 1 0 1.6 0a0.8 0.8 0 1 0 -1.6 0M562.5 177.4a0.8 0.8 0 1 0 1.6 0a0.8 0.8 0 1 0 -1.6 0M572.5 154.6a0.8 0.8 0 1 0 1.6 0a0.8 0.8 0 1 0 -1.6 0"/>
<path fill="#ff0000" d="M574.5 167.7a0.8 0.8 0 1 0 1.6 0a0.8 0.8 0 1 0 -1.6 0"/>
<path fill="#000000" d="M594.0 154.6a0.8 0.8 0 1 0 1.6 0a0.8 0.8 0 1 0 -1.6 0"/>
<path fill="#ff0000" d="M558.2 177.4a0.8 0.8 0 1 0 1.6 0a0.8 0.8 0 1 0 -1.6 0M594.5 193.9a0.8 0.8 0 1 0 1.6 0a0.8 0.8 0 1 0 -1.6 0"/>
<path fill="#000000" d="M573.8 161.2a0.8 0.8 0 1 0 1.6 0a0.8 0.8 0 1 0 -1.6 0"/>
<path fill="#ff0000" d="M570.0 187.4a0.8 0.8 0 1 0 1.6 0a0.8 0.8 0 1 0 -1.6 0"/>
<path fill="#000000" d="M547.0 121.9a0.8 0.8 0 1 0 1.6 0a0.8 0.8 0 1 0 -1.6 0M542.7 180.8a0.8 0.8 0 1 0 1.6 0a0.8 0.8 0 1 0 -1.6 0"/>
<path fill="#ff0000" d="M585.1 190.6a0.8 0.8 0 1 0 1.6 0a0.8 0.8 0 1 0 -1.6 0M548.9 180.8a0.8 0.8 0 1 0 1.6 0a0.8 0.8 0 1 0 -1.6 0M580.7 184.2a0.8 0.8 0 1 0 1.6 0a0.8 0.8 0 1 0 -1.6 0M547.5 177.4a0.8 0.8 0 1 0 1.6 0a0.8 0.8 0 1 0 -1.6 0M582.3 180.8a0.8 0.8 0 1 0 1.6 0a0.8 0.8 0 1 0 -1.6 0M587.0 184.2a0.8 0.8 0 1 0 1.6 0a0.8 0.8 0 1 0 -1.6 0M557.1 171.0a0.8 0.8 0 1 0 1.6 0a0.8 0.8 0 1 0 -1.6 0"/>
<path fill="#000000" d="M568.5 174.2a0.8 0.8 0 1 0 1.6 0a0.8 0.8 0 1 0 -1.6 0M588.1 167.7a0.8 0.8 0 1 0 1.6 0a0.8 0.8 0 1 0 -1.6 0M564.7 167.7a0.8 0.8 0 1 0 1.6 0a0.8 0.8 0 1 0 -1.6 0M594.0 167.7a0.8 0.8 0 1 0 1.6 0a0.8 0.8 0 1 0 -1.6 0"/>
<path fill="#ff0000" d="M558.5 174.2a0.8 0.8 0 1 0 1.6 0a0.8 0.8 0 1 0 -1.6 0M543.1 161.2a0.8 0.8 0 1 0 1.6 0a0.8 0.8 0 1 0 -1.6 0M579.3 187.4a0.8 0.8 0 1 0 1.6 0a0.8 0.8 0 1 0 -1.6 0M595.5 190.6a0.8 0.8 0 1 0 1.6 0a0.8 0.8 0 1 0 -1.6 0M547.6 184.2a0.8 0.8 0 1 0 1.6 0a0.8 0.8 0 1 0 -1.6 0M554.5 193.9a0.8 0.8 0 1 0 1.6 0a0.8 0.8 0 1 0 -1.6 0M559.4 180.8a0.8 0.8 0 1 0 1.6 0a0.8 0.8 0 1 0 -1.6 0"/>
<path fill="#000000" d="M544.2 144.8a0.8 0.8 0 1 0 1.6 0a0.8 0.8 0 1 0 -1.6 0M575.0 161.2a0.8 0.8 0 1 0 1.6 0a0.8 0.8 0 1 0 -1.6 0M555.5 141.4a0.8 0.8 0 1 0 1.6 0a0.8 0.8 0 1 0 -1.6 0M587.5 151.2a0.8 0.8 0 1 0 1.6 0a0.8 0.8 0 1 0 -1.6 0"/>
<path fill="#ff0000" d="M567.4 151.2a0.8 0.8 0 1 0 1.6 0a0.8 0.8 0 1 0 -1.6 0"/>
<path fill="#000000" d="M554.7 131.4a0.8 0.8 0 1 0 1.6 0a0.8 0.8 0 1 0 -1.6 0"/>
<path fill="#ff0000" d="M565.7 144.8a0.8 0.8 0 1 0 1.6 0a0.8 0.8 0 1 0 -1.6 0"/>
<path fill="#000000" d="M586.1 154.6a0.8 0.8 0 1 0 1.6 0a0.8 0.8 0 1 0 -1.6 0M552.6 115.2a0.8 0.8 0 1 0 1.6 0a0.8 0.8 0 1 0 -1.6 0M555.0 154.6a0.8 0.8 0 1 0 1.6 0a0.8 0.8 0 1 0 -1.6 0"/>
<path fill="#ff0000" d="M533.0 138.0a0.8 0.8 0 1 0 1.6 0a0.8 0.8 0 1 0 -1.6 0M575.4 154.6a0.8 0.8 0 1 0 1.6 0a0.8 0.8 0 1 0 -1.6 0"/>
<path fill="#000000" d="M571.1 174.2a0.8 0.8 0 1 0 1.6 0a0.8 0.8 0 1 0 -1.6 0"/>
<path fill="#ff0000" d="M539.3 164.5a0.8 0.8 0 1 0 1.6 0a0.8 0.8 0 1 0 -1.6 0M567.1 200.7a0.8 0.8 0 1 0 1.6 0a0.8 0.8 0 1 0 -1.6 0"/>
<path fill="#000000" d="M541.3 138.0a0.8 0.8 0 1 0 1.6 0a0.8 0.8 0 1 0 -1.6 0M596.0 164.5a0.8 0.8 0 1 0 1.6 0a0.8 0.8 0 1 0 -1.6 0"/>
<path fill="#ff0000" d="M582.9 171.0a0.8 0.8 0 1 0 1.6 0a0.8 0.8 0 1 0 -1.6 0M549.1 171.0a0.8 0.8 0 1 0 1.6 0a0.8 0.8 0 1 0 -1.6 0M552.1 154.6a0.8 0.8 0 1 0 1.6 0a0.8 0.8 0 1 0 -1.6 0M540.3 174.2a0.8 0.8 0 1 0 1.6 0a0.8 0.8 0 1 0 -1.6 0M571.5 171.0a0.8 0.8 0 1 0 1.6 0a0.8 0.8 0 1 0 -1.6 0"/>
<path fill="#000000" d="M578.6 167.7a0.8 0.8 0 1 0 1.6 0a0.8 0.8 0 1 0 -1.6 0"/>
<path fill="#ff0000" d="M546.1 184.2a0.8 0.8 0 1 0 1.6 0a0.8 0.8 0 1 0 -1.6 0M584.9 180.8a0.8 0.8 0 1 0 1.6 0a0.8 0.8 0 1 0 -1.6 0"/>
<path fill="#000000" d="M555.2 164.5a0.8 0.8 0 1 0 1.6 0a0.8 0.8 0 1 0 -1.6 0M576.8 148.0a0.8 0.8 0 1 0 1.6 0a0.8 0.8 0 1 0 -1.6 0M552.0 128.2a0.8 0.8 0 1 0 1.6 0a0.8 0.8 0 1 0 -1.6 0"/>
<path fill="#ff0000" d="M534.0 161.2a0.8 0.8 0 1 0 1.6 0a0.8 0.8 0 1 0 -1.6 0M561.3 190.6a0.8 0.8 0 1 0 1.6 0a0.8 0.8 0 1 0 -1.6 0M545.6 187.4a0.8 0.8 0 1 0 1.6 0a0.8 0.8 0 1 0 -1.6 0M542.2 157.8a0.8 0.8 0 1 0 1.6 0a0.8 0.8 0 1 0 -1.6 0"/>
<path fill="#000000" d="M583.2 154.6a0.8 0.8 0 1 0 1.6 0a0.8 0.8 0 1 0 -1.6 0"/>
<path fill="#ff0000" d="M567.8 174.2a0.8 0.8 0 1 0 1.6 0a0.8 0.8 0 1 0 -1.6 0"/>
<path fill="#000000" d="M560.8 144.8a0.8 0.8 0 1 0 1.6 0a0.8 0.8 0 1 0 -1.6 0M573.0 148.0a0.8 0.8 0 1 0 1.6 0a0.8 0.8 0 1 0 -1.6 0"/>
<path fill="#ff0000" d="M552.6 151.2a0.8 0.8 0 1 0 1.6 0a0.8 0.8 0 1 0 -1.6 0M539.3 177.4a0.8 0.8 0 1 0 1.6 0a0.8 0.8 0 1 0 -1.6 0M548.5 164.5a0.8 0.8 0 1 0 1.6 0a0.8 0.8 0 1 0 -1.6 0"/>
<path fill="#000000" d="M549.7 82.0a0.8 0.8 0 1 0 1.6 0a0.8 0.8 0 1 0 -1.6 0"/>
<path fill="#ff0000" d="M578.8 184.2a0.8 0.8 0 1 0 1.6 0a0.8 0.8 0 1 0 -1.6 0"/>
<path fill="#000000" d="M602.3 190.6a0.8 0.8 0 1 0 1.6 0a0.8 0.8 0 1 0 -1.6 0"/>
<path fill="#ff0000" d="M581.7 190.6a0.8 0.8 0 1 0 1.6 0a0.8 0.8 0 1 0 -1.6 0"/>
<path fill="#000000" d="M558.4 180.8a0.8 0.8 0 1 0 1.6 0a0.8 0.8 0 1 0 -1.6 0M571.0 184.2a0.8 0.8 0 1 0 1.6 0a0.8 0.8 0 1 0 -1.6 0M559.6 128.2a0.8 0.8 0 1 0 1.6 0a0.8 0.8 0 1 0 -1.6 0M561.5 177.4a0.8 0.8 0 1 0 1.6 0a0.8 0.8 0 1 0 -1.6 0M577.8 144.8a0.8 0.8 0 1 0 1.6 0a0.8 0.8 0 1 0 -1.6 0"/>
<path fill="#ff0000" d="M551.1 174.2a0.8 0.8 0 1 0 1.6 0a0.8 0.8 0 1 0 -1.6 0M531.1 164.5a0.8 0.8 0 1 0 1.6 0a0.8 0.8 0 1 0 -1.6 0M565.2 157.8a0.8 0.8 0 1 0 1.6 0a0.8 0.8 0 1 0 -1.6 0M571.6 154.6a0.8 0.8 0 1 0 1.6 0a0.8 0.8 0 1 0 -1.6 0"/>
<path fill="#000000" d="M554.9 148.0a0.8 0.8 0 1 0 1.6 0a0.8 0.8 0 1 0 -1.6 0M597.4 161.2a0.8 0.8 0 1 0 1.6 0a0.8 0.8 0 1 0 -1.6 0"/>
<path fill="#ff0000" d="M551.0 180.8a0.8 0.8 0 1 0 1.6 0a0.8 0.8 0 1 0 -1.6 0M596.9 190.6a0.8 0.8 0 1 0 1.6 0a0.8 0.8 0 1 0 -1.6 0M542.3 125.0a0.8 0.8 0 1 0 1.6 0a0.8 0.8 0 1 0 -1.6 0M569.3 161.2a0.8 0.8 0 1 0 1.6 0a0.8 0.8 0 1 0 -1.6 0"/>
<path fill="#000000" d="M571.0 151.2a0.8 0.8 0 1 0 1.6 0a0.8 0.8 0 1 0 -1.6 0M578.2 161.2a0.8 0.8 0 1 0 1.6 0a0.8 0.8 0 1 0 -1.6 0M586.2 161.2a0.8 0.8 0 1 0 1.6 0a0.8 0.8 0 1 0 -1.6 0M562.8 144.8a0.8 0.8 0 1 0 1.6 0a0.8 0.8 0 1 0 -1.6 0M610.0 170.9a0.8 0.8 0 1 0 1.6 0a0.8 0.8 0 1 0 -1.6 0"/>
<path fill="#ff0000" d="M539.8 151.2a0.8 0.8 0 1 0 1.6 0a0.8 0.8 0 1 0 -1.6 0"/>
<path fill="#000000" d="M558.8 141.4a0.8 0.8 0 1 0 1.6 0a0.8 0.8 0 1 0 -1.6 0"/>
<path fill="#ff0000" d="M572.3 177.4a0.8 0.8 0 1 0 1.6 0a0.8 0.8 0 1 0 -1.6 0M556.1 177.4a0.8 0.8 0 1 0 1.6 0a0.8 0.8 0 1 0 -1.6 0M522.8 151.2a0.8 0.8 0 1 0 1.6 0a0.8 0.8 0 1 0 -1.6 0"/>
<path fill="#000000" d="M597.9 180.8a0.8 0.8 0 1 0 1.6 0a0.8 0.8 0 1 0 -1.6 0"/>
<path fill="#ff0000" d="M557.9 154.6a0.8 0.8 0 1 0 1.6 0a0.8 0.8 0 1 0 -1.6 0"/>
<path fill="#000000" d="M603.7 167.7a0.8 0.8 0 1 0 1.6 0a0.8 0.8 0 1 0 -1.6 0M586.2 154.6a0.8 0.8 0 1 0 1.6 0a0.8 0.8 0 1 0 -1.6 0"/>
<path fill="#ff0000" d="M551.1 187.4a0.8 0.8 0 1 0 1.6 0a0.8 0.8 0 1 0 -1.6 0"/>
<path fill="#000000" d="M546.6 125.0a0.8 0.8 0 1 0 1.6 0a0.8 0.8 0 1 0 -1.6 0M558.4 134.7a0.8 0.8 0 1 0 1.6 0a0.8 0.8 0 1 0 -1.6 0M575.6 171.0a0.8 0.8 0 1 0 1.6 0a0.8 0.8 0 1 0 -1.6 0"/>
<path fill="#ff0000" d="M590.1 170.9a0.8 0.8 0 1 0 1.6 0a0.8 0.8 0 1 0 -1.6 0"/>
<path fill="#000000" d="M573.9 151.2a0.8 0.8 0 1 0 1.6 0a0.8 0.8 0 1 0 -1.6 0M554.7 125.0a0.8 0.8 0 1 0 1.6 0a0.8 0.8 0 1 0 -1.6 0M611.0 161.2a0.8 0.8 0 1 0 1.6 0a0.8 0.8 0 1 0 -1.6 0"/>
<path fill="#ff0000" d="M570.0 157.8a0.8 0.8 0 1 0 1.6 0a0.8 0.8 0 1 0 -1.6 0"/>
<path fill="#000000" d="M567.5 131.7a0.8 0.8 0 1 0 1.6 0a0.8 0.8 0 1 0 -1.6 0"/>
<path fill="#ff0000" d="M561.4 174.2a0.8 0.8 0 1 0 1.6 0a0.8 0.8 0 1 0 -1.6 0M584.1 184.2a0.8 0.8 0 1 0 1.6 0a0.8 0.8 0 1 0 -1.6 0M566.4 144.8a0.8 0.8 0 1 0 1.6 0a0.8 0.8 0 1 0 -1.6 0"/>
<path fill="#000000" d="M521.1 125.0a0.8 0.8 0 1 0 1.6 0a0.8 0.8 0 1 0 -1.6 0"/>
<path fill="#ff0000" d="M535.6 184.2a0.8 0.8 0 1 0 1.6 0a0.8 0.8 0 1 0 -1.6 0"/>
<path fill="#000000" d="M581.7 138.0a0.8 0.8 0 1 0 1.6 0a0.8 0.8 0 1 0 -1.6 0"/>
<path fill="#ff0000" d="M546.6 207.1a0.8 0.8 0 1 0 1.6 0a0.8 0.8 0 1 0 -1.6 0M583.5 177.4a0.8 0.8 0 1 0 1.6 0a0.8 0.8 0 1 0 -1.6 0"/>
<path fill="#000000" d="M567.7 171.0a0.8 0.8 0 1 0 1.6 0a0.8 0.8 0 1 0 -1.6 0"/>
<path fill="#ff0000" d="M544.7 161.2a0.8 0.8 0 1 0 1.6 0a0.8 0.8 0 1 0 -1.6 0"/>
<path fill="#000000" d="M565.7 154.6a0.8 0.8 0 1 0 1.6 0a0.8 0.8 0 1 0 -1.6 0M584.1 161.2a0.8 0.8 0 1 0 1.6 0a0.8 0.8 0 1 0 -1.6 0M563.4 171.0a0.8 0.8 0 1 0 1.6 0a0.8 0.8 0 1 0 -1.6 0"/>
<path fill="#ff0000" d="M529.0 128.2a0.8 0.8 0 1 0 1.6 0a0.8 0.8 0 1 0 -1.6 0"/>
<path fill="#000000" d="M569.6 180.8a0.8 0.8 0 1 0 1.6 0a0.8 0.8 0 1 0 -1.6 0M557.2 171.0a0.8 0.8 0 1 0 1.6 0a0.8 0.8 0 1 0 -1.6 0"/>
<path fill="#ff0000" d="M562.8 190.6a0.8 0.8 0 1 0 1.6 0a0.8 0.8 0 1 0 -1.6 0M589.2 174.2a0.8 0.8 0 1 0 1.6 0a0.8 0.8 0 1 0 -1.6 0M554.5 190.6a0.8 0.8 0 1 0 1.6 0a0.8 0.8 0 1 0 -1.6 0"/>
<path fill="#000000" d="M577.1 164.5a0.8 0.8 0 1 0 1.6 0a0.8 0.8 0 1 0 -1.6 0"/>
<path fill="#ff0000" d="M560.3 184.2a0.8 0.8 0 1 0 1.6 0a0.8 0.8 0 1 0 -1.6 0M541.3 177.4a0.8 0.8 0 1 0 1.6 0a0.8 0.8 0 1 0 -1.6 0"/>
<path fill="#000000" d="M538.5 131.4a0.8 0.8 0 1 0 1.6 0a0.8 0.8 0 1 0 -1.6 0"/>
<path fill="#ff0000" d="M547.6 167.7a0.8 0.8 0 1 0 1.6 0a0.8 0.8 0 1 0 -1.6 0"/>
<path fill="#000000" d="M600.3 184.2a0.8 0.8 0 1 0 1.6 0a0.8 0.8 0 1 0 -1.6 0"/>
<path fill="#ff0000" d="M561.0 164.5a0.8 0.8 0 1 0 1.6 0a0.8 0.8 0 1 0 -1.6 0"/>
<path fill="#000000" d="M578.3 151.2a0.8 0.8 0 1 0 1.6 0a0.8 0.8 0 1 0 -1.6 0"/>
<path fill="#ff0000" d="M539.3 154.6a0.8 0.8 0 1 0 1.6 0a0.8 0.8 0 1 0 -1.6 0M540.8 161.2a0.8 0.8 0 1 0 1.6 0a0.8 0.8 0 1 0 -1.6 0"/>
<path fill="#000000" d="M595.0 170.9a0.8 0.8 0 1 0 1.6 0a0.8 0.8 0 1 0 -1.6 0M547.6 141.4a0.8 0.8 0 1 0 1.6 0a0.8 0.8 0 1 0 -1.6 0"/>
<path fill="#ff0000" d="M572.0 190.6a0.8 0.8 0 1 0 1.6 0a0.8 0.8 0 1 0 -1.6 0M552.4 171.0a0.8 0.8 0 1 0 1.6 0a0.8 0.8 0 1 0 -1.6 0"/>
<path fill="#000000" d="M559.6 118.5a0.8 0.8 0 1 0 1.6 0a0.8 0.8 0 1 0 -1.6 0"/>
<path fill="#ff0000" d="M567.7 164.5a0.8 0.8 0 1 0 1.6 0a0.8 0.8 0 1 0 -1.6 0M555.8 177.4a0.8 0.8 0 1 0 1.6 0a0.8 0.8 0 1 0 -1.6 0"/>
<path fill="#000000" d="M565.6 167.7a0.8 0.8 0 1 0 1.6 0a0.8 0.8 0 1 0 -1.6 0"/>
<path fill="#ff0000" d="M535.9 148.0a0.8 0.8 0 1 0 1.6 0a0.8 0.8 0 1 0 -1.6 0M557.8 138.0a0.8 0.8 0 1 0 1.6 0a0.8 0.8 0 1 0 -1.6 0M544.2 154.6a0.8 0.8 0 1 0 1.6 0a0.8 0.8 0 1 0 -1.6 0"/>
<path fill="#000000" d="M577.3 167.7a0.8 0.8 0 1 0 1.6 0a0.8 0.8 0 1 0 -1.6 0M561.8 154.6a0.8 0.8 0 1 0 1.6 0a0.8 0.8 0 1 0 -1.6 0"/>
<path fill="#ff0000" d="M545.2 154.6a0.8 0.8 0 1 0 1.6 0a0.8 0.8 0 1 0 -1.6 0M566.2 187.4a0.8 0.8 0 1 0 1.6 0a0.8 0.8 0 1 0 -1.6 0M571.5 174.2a0.8 0.8 0 1 0 1.6 0a0.8 0.8 0 1 0 -1.6 0M572.6 164.5a0.8 0.8 0 1 0 1.6 0a0.8 0.8 0 1 0 -1.6 0"/>
<path fill="#000000" d="M570.6 164.5a0.8 0.8 0 1 0 1.6 0a0.8 0.8 0 1 0 -1.6 0"/>
<path fill="#ff0000" d="M558.4 187.4a0.8 0.8 0 1 0 1.6 0a0.8 0.8 0 1 0 -1.6 0M554.7 167.7a0.8 0.8 0 1 0 1.6 0a0.8 0.8 0 1 0 -1.6 0"/>
<path fill="#000000" d="M554.0 144.8a0.8 0.8 0 1 0 1.6 0a0.8 0.8 0 1 0 -1.6 0M602.8 177.4a0.8 0.8 0 1 0 1.6 0a0.8 0.8 0 1 0 -1.6 0"/>
<path fill="#ff0000" d="M539.3 157.8a0.8 0.8 0 1 0 1.6 0a0.8 0.8 0 1 0 -1.6 0"/>
<path fill="#000000" d="M581.5 174.2a0.8 0.8 0 1 0 1.6 0a0.8 0.8 0 1 0 -1.6 0"/>
<path fill="#ff0000" d="M549.0 167.7a0.8 0.8 0 1 0 1.6 0a0.8 0.8 0 1 0 -1.6 0M549.3 161.2a0.8 0.8 0 1 0 1.6 0a0.8 0.8 0 1 0 -1.6 0M551.7 167.7a0.8 0.8 0 1 0 1.6 0a0.8 0.8 0 1 0 -1.6 0M571.6 151.2a0.8 0.8 0 1 0 1.6 0a0.8 0.8 0 1 0 -1.6 0M557.4 151.2a0.8 0.8 0 1 0 1.6 0a0.8 0.8 0 1 0 -1.6 0"/>
<path fill="#000000" d="M572.5 151.2a0.8 0.8 0 1 0 1.6 0a0.8 0.8 0 1 0 -1.6 0"/>
<path fill="#ff0000" d="M549.5 187.4a0.8 0.8 0 1 0 1.6 0a0.8 0.8 0 1 0 -1.6 0"/>
<path fill="#000000" d="M538.8 134.7a0.8 0.8 0 1 0 1.6 0a0.8 0.8 0 1 0 -1.6 0M542.3 131.4a0.8 0.8 0 1 0 1.6 0a0.8 0.8 0 1 0 -1.6 0M566.2 161.2a0.8 0.8 0 1 0 1.6 0a0.8 0.8 0 1 0 -1.6 0"/>
<path fill="#ff0000" d="M582.3 174.2a0.8 0.8 0 1 0 1.6 0a0.8 0.8 0 1 0 -1.6 0M549.7 148.0a0.8 0.8 0 1 0 1.6 0a0.8 0.8 0 1 0 -1.6 0"/>
<path fill="#000000" d="M554.8 144.8a0.8 0.8 0 1 0 1.6 0a0.8 0.8 0 1 0 -1.6 0"/>
<path fill="#ff0000" d="M550.5 167.7a0.8 0.8 0 1 0 1.6 0a0.8 0.8 0 1 0 -1.6 0M564.3 171.0a0.8 0.8 0 1 0 1.6 0a0.8 0.8 0 1 0 -1.6 0"/>
<path fill="#000000" d="M539.8 144.8a0.8 0.8 0 1 0 1.6 0a0.8 0.8 0 1 0 -1.6 0"/>
<path fill="#ff0000" d="M552.8 177.4a0.8 0.8 0 1 0 1.6 0a0.8 0.8 0 1 0 -1.6 0"/>
<path fill="#000000" d="M557.9 151.2a0.8 0.8 0 1 0 1.6 0a0.8 0.8 0 1 0 -1.6 0"/>
<path fill="#ff0000" d="M563.2 197.4a0.8 0.8 0 1 0 1.6 0a0.8 0.8 0 1 0 -1.6 0"/>
<path fill="#000000" d="M575.4 151.2a0.8 0.8 0 1 0 1.6 0a0.8 0.8 0 1 0 -1.6 0"/>
<path fill="#ff0000" d="M519.4 148.0a0.8 0.8 0 1 0 1.6 0a0.8 0.8 0 1 0 -1.6 0"/>
<path fill="#000000" d="M559.1 144.8a0.8 0.8 0 1 0 1.6 0a0.8 0.8 0 1 0 -1.6 0M590.1 167.7a0.8 0.8 0 1 0 1.6 0a0.8 0.8 0 1 0 -1.6 0"/>
<path fill="#ff0000" d="M582.2 184.2a0.8 0.8 0 1 0 1.6 0a0.8 0.8 0 1 0 -1.6 0M539.3 184.2a0.8 0.8 0 1 0 1.6 0a0.8 0.8 0 1 0 -1.6 0"/>
<path fill="#000000" d="M544.4 94.6a0.8 0.8 0 1 0 1.6 0a0.8 0.8 0 1 0 -1.6 0M582.0 154.6a0.8 0.8 0 1 0 1.6 0a0.8 0.8 0 1 0 -1.6 0M564.7 141.4a0.8 0.8 0 1 0 1.6 0a0.8 0.8 0 1 0 -1.6 0"/>
<path fill="#ff0000" d="M567.1 190.6a0.8 0.8 0 1 0 1.6 0a0.8 0.8 0 1 0 -1.6 0M584.6 197.4a0.8 0.8 0 1 0 1.6 0a0.8 0.8 0 1 0 -1.6 0"/>
<path fill="#000000" d="M569.6 177.4a0.8 0.8 0 1 0 1.6 0a0.8 0.8 0 1 0 -1.6 0"/>
<path fill="#ff0000" d="M563.1 138.0a0.8 0.8 0 1 0 1.6 0a0.8 0.8 0 1 0 -1.6 0"/>
<path fill="#000000" d="M597.9 170.9a0.8 0.8 0 1 0 1.6 0a0.8 0.8 0 1 0 -1.6 0"/>
<path fill="#ff0000" d="M577.8 177.4a0.8 0.8 0 1 0 1.6 0a0.8 0.8 0 1 0 -1.6 0"/>
<path fill="#000000" d="M558.2 174.2a0.8 0.8 0 1 0 1.6 0a0.8 0.8 0 1 0 -1.6 0"/>
<path fill="#ff0000" d="M561.7 164.5a0.8 0.8 0 1 0 1.6 0a0.8 0.8 0 1 0 -1.6 0M609.1 203.9a0.8 0.8 0 1 0 1.6 0a0.8 0.8 0 1 0 -1.6 0"/>
<path fill="#000000" d="M574.6 164.5a0.8 0.8 0 1 0 1.6 0a0.8 0.8 0 1 0 -1.6 0"/>
<path fill="#ff0000" d="M600.8 190.6a0.8 0.8 0 1 0 1.6 0a0.8 0.8 0 1 0 -1.6 0"/>
<path fill="#000000" d="M572.5 157.8a0.8 0.8 0 1 0 1.6 0a0.8 0.8 0 1 0 -1.6 0"/>
<path fill="#ff0000" d="M587.3 180.8a0.8 0.8 0 1 0 1.6 0a0.8 0.8 0 1 0 -1.6 0M543.2 177.4a0.8 0.8 0 1 0 1.6 0a0.8 0.8 0 1 0 -1.6 0"/>
<path fill="#000000" d="M574.4 138.0a0.8 0.8 0 1 0 1.6 0a0.8 0.8 0 1 0 -1.6 0"/>
<path fill="#ff0000" d="M547.6 174.2a0.8 0.8 0 1 0 1.6 0a0.8 0.8 0 1 0 -1.6 0M554.4 177.4a0.8 0.8 0 1 0 1.6 0a0.8 0.8 0 1 0 -1.6 0M557.9 161.2a0.8 0.8 0 1 0 1.6 0a0.8 0.8 0 1 0 -1.6 0M550.6 161.2a0.8 0.8 0 1 0 1.6 0a0.8 0.8 0 1 0 -1.6 0"/>
<path fill="#000000" d="M568.1 151.2a0.8 0.8 0 1 0 1.6 0a0.8 0.8 0 1 0 -1.6 0M635.4 184.1a0.8 0.8 0 1 0 1.6 0a0.8 0.8 0 1 0 -1.6 0"/>
<path fill="#ff0000" d="M585.8 177.4a0.8 0.8 0 1 0 1.6 0a0.8 0.8 0 1 0 -1.6 0"/>
<path fill="#000000" d="M592.1 170.9a0.8 0.8 0 1 0 1.6 0a0.8 0.8 0 1 0 -1.6 0M542.9 121.9a0.8 0.8 0 1 0 1.6 0a0.8 0.8 0 1 0 -1.6 0"/>
<path fill="#ff0000" d="M593.1 190.6a0.8 0.8 0 1 0 1.6 0a0.8 0.8 0 1 0 -1.6 0"/>
<path fill="#000000" d="M579.0 161.2a0.8 0.8 0 1 0 1.6 0a0.8 0.8 0 1 0 -1.6 0M554.5 108.5a0.8 0.8 0 1 0 1.6 0a0.8 0.8 0 1 0 -1.6 0M560.9 164.5a0.8 0.8 0 1 0 1.6 0a0.8 0.8 0 1 0 -1.6 0M566.6 138.0a0.8 0.8 0 1 0 1.6 0a0.8 0.8 0 1 0 -1.6 0M592.1 167.7a0.8 0.8 0 1 0 1.6 0a0.8 0.8 0 1 0 -1.6 0"/>
<path fill="#ff0000" d="M550.1 141.4a0.8 0.8 0 1 0 1.6 0a0.8 0.8 0 1 0 -1.6 0M577.3 184.2a0.8 0.8 0 1 0 1.6 0a0.8 0.8 0 1 0 -1.6 0M570.5 161.2a0.8 0.8 0 1 0 1.6 0a0.8 0.8 0 1 0 -1.6 0M560.3 174.2a0.8 0.8 0 1 0 1.6 0a0.8 0.8 0 1 0 -1.6 0M548.2 167.7a0.8 0.8 0 1 0 1.6 0a0.8 0.8 0 1 0 -1.6 0M528.6 161.2a0.8 0.8 0 1 0 1.6 0a0.8 0.8 0 1 0 -1.6 0"/>
<path fill="#000000" d="M583.6 148.0a0.8 0.8 0 1 0 1.6 0a0.8 0.8 0 1 0 -1.6 0"/>
<path fill="#ff0000" d="M543.3 164.5a0.8 0.8 0 1 0 1.6 0a0.8 0.8 0 1 0 -1.6 0M581.2 157.8a0.8 0.8 0 1 0 1.6 0a0.8 0.8 0 1 0 -1.6 0M549.5 174.2a0.8 0.8 0 1 0 1.6 0a0.8 0.8 0 1 0 -1.6 0M580.8 177.4a0.8 0.8 0 1 0 1.6 0a0.8 0.8 0 1 0 -1.6 0"/>
<path fill="#000000" d="M555.0 138.0a0.8 0.8 0 1 0 1.6 0a0.8 0.8 0 1 0 -1.6 0M567.6 154.6a0.8 0.8 0 1 0 1.6 0a0.8 0.8 0 1 0 -1.6 0M582.6 161.2a0.8 0.8 0 1 0 1.6 0a0.8 0.8 0 1 0 -1.6 0"/>
<path fill="#ff0000" d="M537.4 164.5a0.8 0.8 0 1 0 1.6 0a0.8 0.8 0 1 0 -1.6 0M559.9 180.8a0.8 0.8 0 1 0 1.6 0a0.8 0.8 0 1 0 -1.6 0"/>
<path fill="#000000" d="M576.3 161.2a0.8 0.8 0 1 0 1.6 0a0.8 0.8 0 1 0 -1.6 0M560.8 141.4a0.8 0.8 0 1 0 1.6 0a0.8 0.8 0 1 0 -1.6 0M542.6 118.5a0.8 0.8 0 1 0 1.6 0a0.8 0.8 0 1 0 -1.6 0"/>
<path fill="#ff0000" d="M566.8 164.5a0.8 0.8 0 1 0 1.6 0a0.8 0.8 0 1 0 -1.6 0"/>
<path fill="#000000" d="M567.8 124.9a0.8 0.8 0 1 0 1.6 0a0.8 0.8 0 1 0 -1.6 0"/>
<path fill="#ff0000" d="M552.2 174.2a0.8 0.8 0 1 0 1.6 0a0.8 0.8 0 1 0 -1.6 0M531.1 141.4a0.8 0.8 0 1 0 1.6 0a0.8 0.8 0 1 0 -1.6 0"/>
<path fill="#000000" d="M554.0 148.0a0.8 0.8 0 1 0 1.6 0a0.8 0.8 0 1 0 -1.6 0"/>
<path fill="#ff0000" d="M555.5 184.2a0.8 0.8 0 1 0 1.6 0a0.8 0.8 0 1 0 -1.6 0"/>
<path fill="#000000" d="M576.8 151.2a0.8 0.8 0 1 0 1.6 0a0.8 0.8 0 1 0 -1.6 0"/>
<path fill="#ff0000" d="M554.0 184.2a0.8 0.8 0 1 0 1.6 0a0.8 0.8 0 1 0 -1.6 0M573.4 167.7a0.8 0.8 0 1 0 1.6 0a0.8 0.8 0 1 0 -1.6 0M554.7 180.8a0.8 0.8 0 1 0 1.6 0a0.8 0.8 0 1 0 -1.6 0"/>
<path fill="#000000" d="M586.8 177.4a0.8 0.8 0 1 0 1.6 0a0.8 0.8 0 1 0 -1.6 0M588.5 141.4a0.8 0.8 0 1 0 1.6 0a0.8 0.8 0 1 0 -1.6 0M549.0 134.7a0.8 0.8 0 1 0 1.6 0a0.8 0.8 0 1 0 -1.6 0"/>
<path fill="#ff0000" d="M527.7 134.7a0.8 0.8 0 1 0 1.6 0a0.8 0.8 0 1 0 -1.6 0"/>
<path fill="#000000" d="M580.7 144.8a0.8 0.8 0 1 0 1.6 0a0.8 0.8 0 1 0 -1.6 0M579.0 180.8a0.8 0.8 0 1 0 1.6 0a0.8 0.8 0 1 0 -1.6 0M572.0 141.4a0.8 0.8 0 1 0 1.6 0a0.8 0.8 0 1 0 -1.6 0M611.5 164.5a0.8 0.8 0 1 0 1.6 0a0.8 0.8 0 1 0 -1.6 0"/>
<path fill="#ff0000" d="M568.6 190.6a0.8 0.8 0 1 0 1.6 0a0.8 0.8 0 1 0 -1.6 0M581.1 180.8a0.8 0.8 0 1 0 1.6 0a0.8 0.8 0 1 0 -1.6 0"/>
<path fill="#000000" d="M558.2 125.0a0.8 0.8 0 1 0 1.6 0a0.8 0.8 0 1 0 -1.6 0M530.6 184.2a0.8 0.8 0 1 0 1.6 0a0.8 0.8 0 1 0 -1.6 0M560.1 164.5a0.8 0.8 0 1 0 1.6 0a0.8 0.8 0 1 0 -1.6 0"/>
<path fill="#ff0000" d="M580.3 164.5a0.8 0.8 0 1 0 1.6 0a0.8 0.8 0 1 0 -1.6 0"/>
<path fill="#000000" d="M563.4 174.2a0.8 0.8 0 1 0 1.6 0a0.8 0.8 0 1 0 -1.6 0"/>
<path fill="#ff0000" d="M561.8 187.4a0.8 0.8 0 1 0 1.6 0a0.8 0.8 0 1 0 -1.6 0M572.1 180.8a0.8 0.8 0 1 0 1.6 0a0.8 0.8 0 1 0 -1.6 0"/>
<path fill="#000000" d="M564.7 164.5a0.8 0.8 0 1 0 1.6 0a0.8 0.8 0 1 0 -1.6 0"/>
<path fill="#ff0000" d="M547.6 190.6a0.8 0.8 0 1 0 1.6 0a0.8 0.8 0 1 0 -1.6 0"/>
<path fill="#000000" d="M596.9 151.2a0.8 0.8 0 1 0 1.6 0a0.8 0.8 0 1 0 -1.6 0M569.6 151.2a0.8 0.8 0 1 0 1.6 0a0.8 0.8 0 1 0 -1.6 0"/>
<path fill="#ff0000" d="M577.0 180.8a0.8 0.8 0 1 0 1.6 0a0.8 0.8 0 1 0 -1.6 0M514.9 131.7a0.8 0.8 0 1 0 1.6 0a0.8 0.8 0 1 0 -1.6 0M622.2 193.9a0.8 0.8 0 1 0 1.6 0a0.8 0.8 0 1 0 -1.6 0"/>
<path fill="#000000" d="M560.2 92.1a0.8 0.8 0 1 0 1.6 0a0.8 0.8 0 1 0 -1.6 0"/>
<path fill="#ff0000" d="M578.7 174.2a0.8 0.8 0 1 0 1.6 0a0.8 0.8 0 1 0 -1.6 0M556.9 184.2a0.8 0.8 0 1 0 1.6 0a0.8 0.8 0 1 0 -1.6 0M556.7 174.2a0.8 0.8 0 1 0 1.6 0a0.8 0.8 0 1 0 -1.6 0"/>
<path fill="#000000" d="M562.3 148.0a0.8 0.8 0 1 0 1.6 0a0.8 0.8 0 1 0 -1.6 0M573.4 161.2a0.8 0.8 0 1 0 1.6 0a0.8 0.8 0 1 0 -1.6 0"/>
<path fill="#ff0000" d="M585.8 177.4a0.8 0.8 0 1 0 1.6 0a0.8 0.8 0 1 0 -1.6 0"/>
<path fill="#000000" d="M584.7 157.8a0.8 0.8 0 1 0 1.6 0a0.8 0.8 0 1 0 -1.6 0M600.8 167.7a0.8 0.8 0 1 0 1.6 0a0.8 0.8 0 1 0 -1.6 0"/>
<path fill="#ff0000" d="M572.8 180.8a0.8 0.8 0 1 0 1.6 0a0.8 0.8 0 1 0 -1.6 0M570.6 180.8a0.8 0.8 0 1 0 1.6 0a0.8 0.8 0 1 0 -1.6 0M584.5 177.4a0.8 0.8 0 1 0 1.6 0a0.8 0.8 0 1 0 -1.6 0"/>
<path fill="#000000" d="M593.1 164.5a0.8 0.8 0 1 0 1.6 0a0.8 0.8 0 1 0 -1.6 0M570.0 134.7a0.8 0.8 0 1 0 1.6 0a0.8 0.8 0 1 0 -1.6 0"/>
<path fill="#ff0000" d="M546.1 180.8a0.8 0.8 0 1 0 1.6 0a0.8 0.8 0 1 0 -1.6 0"/>
<path fill="#000000" d="M560.3 148.0a0.8 0.8 0 1 0 1.6 0a0.8 0.8 0 1 0 -1.6 0"/>
<path fill="#ff0000" d="M559.9 190.6a0.8 0.8 0 1 0 1.6 0a0.8 0.8 0 1 0 -1.6 0"/>
<path fill="#000000" d="M566.9 141.4a0.8 0.8 0 1 0 1.6 0a0.8 0.8 0 1 0 -1.6 0"/>
<path fill="#ff0000" d="M562.8 193.9a0.8 0.8 0 1 0 1.6 0a0.8 0.8 0 1 0 -1.6 0M546.6 157.8a0.8 0.8 0 1 0 1.6 0a0.8 0.8 0 1 0 -1.6 0"/>
<path fill="#000000" d="M571.0 148.0a0.8 0.8 0 1 0 1.6 0a0.8 0.8 0 1 0 -1.6 0"/>
<path fill="#ff0000" d="M587.5 187.4a0.8 0.8 0 1 0 1.6 0a0.8 0.8 0 1 0 -1.6 0M535.9 154.6a0.8 0.8 0 1 0 1.6 0a0.8 0.8 0 1 0 -1.6 0M580.3 180.8a0.8 0.8 0 1 0 1.6 0a0.8 0.8 0 1 0 -1.6 0M539.3 170.9a0.8 0.8 0 1 0 1.6 0a0.8 0.8 0 1 0 -1.6 0"/>
<path fill="#000000" d="M566.8 177.4a0.8 0.8 0 1 0 1.6 0a0.8 0.8 0 1 0 -1.6 0M559.0 121.9a0.8 0.8 0 1 0 1.6 0a0.8 0.8 0 1 0 -1.6 0"/>
<path fill="#ff0000" d="M548.1 148.0a0.8 0.8 0 1 0 1.6 0a0.8 0.8 0 1 0 -1.6 0M509.6 128.4a0.8 0.8 0 1 0 1.6 0a0.8 0.8 0 1 0 -1.6 0M573.9 174.2a0.8 0.8 0 1 0 1.6 0a0.8 0.8 0 1 0 -1.6 0M573.0 187.4a0.8 0.8 0 1 0 1.6 0a0.8 0.8 0 1 0 -1.6 0M540.3 148.0a0.8 0.8 0 1 0 1.6 0a0.8 0.8 0 1 0 -1.6 0"/>
<path fill="#000000" d="M594.0 180.8a0.8 0.8 0 1 0 1.6 0a0.8 0.8 0 1 0 -1.6 0"/>
<path fill="#ff0000" d="M586.1 193.9a0.8 0.8 0 1 0 1.6 0a0.8 0.8 0 1 0 -1.6 0"/>
<path fill="#000000" d="M587.0 180.8a0.8 0.8 0 1 0 1.6 0a0.8 0.8 0 1 0 -1.6 0"/>
<path fill="#ff0000" d="M563.6 167.7a0.8 0.8 0 1 0 1.6 0a0.8 0.8 0 1 0 -1.6 0"/>
<path fill="#000000" d="M557.9 157.8a0.8 0.8 0 1 0 1.6 0a0.8 0.8 0 1 0 -1.6 0M574.4 184.2a0.8 0.8 0 1 0 1.6 0a0.8 0.8 0 1 0 -1.6 0M564.2 144.8a0.8 0.8 0 1 0 1.6 0a0.8 0.8 0 1 0 -1.6 0M566.6 151.2a0.8 0.8 0 1 0 1.6 0a0.8 0.8 0 1 0 -1.6 0"/>
<path fill="#ff0000" d="M588.7 170.9a0.8 0.8 0 1 0 1.6 0a0.8 0.8 0 1 0 -1.6 0M571.9 144.8a0.8 0.8 0 1 0 1.6 0a0.8 0.8 0 1 0 -1.6 0"/>
<path fill="#000000" d="M559.6 164.5a0.8 0.8 0 1 0 1.6 0a0.8 0.8 0 1 0 -1.6 0"/>
<path fill="#ff0000" d="M556.5 190.6a0.8 0.8 0 1 0 1.6 0a0.8 0.8 0 1 0 -1.6 0M544.5 121.9a0.8 0.8 0 1 0 1.6 0a0.8 0.8 0 1 0 -1.6 0"/>
<path fill="#000000" d="M578.8 154.6a0.8 0.8 0 1 0 1.6 0a0.8 0.8 0 1 0 -1.6 0"/>
<path fill="#ff0000" d="M574.4 167.7a0.8 0.8 0 1 0 1.6 0a0.8 0.8 0 1 0 -1.6 0"/>
<path fill="#000000" d="M539.6 131.4a0.8 0.8 0 1 0 1.6 0a0.8 0.8 0 1 0 -1.6 0M548.8 131.4a0.8 0.8 0 1 0 1.6 0a0.8 0.8 0 1 0 -1.6 0M583.2 157.8a0.8 0.8 0 1 0 1.6 0a0.8 0.8 0 1 0 -1.6 0M595.5 177.4a0.8 0.8 0 1 0 1.6 0a0.8 0.8 0 1 0 -1.6 0M566.2 164.5a0.8 0.8 0 1 0 1.6 0a0.8 0.8 0 1 0 -1.6 0M535.9 151.2a0.8 0.8 0 1 0 1.6 0a0.8 0.8 0 1 0 -1.6 0M591.1 157.8a0.8 0.8 0 1 0 1.6 0a0.8 0.8 0 1 0 -1.6 0"/>
<path fill="#ff0000" d="M580.9 177.4a0.8 0.8 0 1 0 1.6 0a0.8 0.8 0 1 0 -1.6 0"/>
<path fill="#000000" d="M571.1 148.0a0.8 0.8 0 1 0 1.6 0a0.8 0.8 0 1 0 -1.6 0M549.2 138.0a0.8 0.8 0 1 0 1.6 0a0.8 0.8 0 1 0 -1.6 0"/>
<path fill="#ff0000" d="M588.7 187.4a0.8 0.8 0 1 0 1.6 0a0.8 0.8 0 1 0 -1.6 0M573.7 161.2a0.8 0.8 0 1 0 1.6 0a0.8 0.8 0 1 0 -1.6 0"/>
<path fill="#000000" d="M595.5 174.2a0.8 0.8 0 1 0 1.6 0a0.8 0.8 0 1 0 -1.6 0M541.8 144.8a0.8 0.8 0 1 0 1.6 0a0.8 0.8 0 1 0 -1.6 0"/>
<path fill="#ff0000" d="M540.3 167.7a0.8 0.8 0 1 0 1.6 0a0.8 0.8 0 1 0 -1.6 0M576.0 164.5a0.8 0.8 0 1 0 1.6 0a0.8 0.8 0 1 0 -1.6 0M545.2 148.0a0.8 0.8 0 1 0 1.6 0a0.8 0.8 0 1 0 -1.6 0"/>
<path fill="#000000" d="M567.6 144.8a0.8 0.8 0 1 0 1.6 0a0.8 0.8 0 1 0 -1.6 0"/>
<path fill="#ff0000" d="M589.2 184.2a0.8 0.8 0 1 0 1.6 0a0.8 0.8 0 1 0 -1.6 0M565.7 197.4a0.8 0.8 0 1 0 1.6 0a0.8 0.8 0 1 0 -1.6 0M526.2 138.0a0.8 0.8 0 1 0 1.6 0a0.8 0.8 0 1 0 -1.6 0"/>
<path fill="#000000" d="M547.1 161.2a0.8 0.8 0 1 0 1.6 0a0.8 0.8 0 1 0 -1.6 0M552.6 157.8a0.8 0.8 0 1 0 1.6 0a0.8 0.8 0 1 0 -1.6 0M603.7 170.9a0.8 0.8 0 1 0 1.6 0a0.8 0.8 0 1 0 -1.6 0M574.5 164.5a0.8 0.8 0 1 0 1.6 0a0.8 0.8 0 1 0 -1.6 0"/>
<path fill="#ff0000" d="M541.5 187.4a0.8 0.8 0 1 0 1.6 0a0.8 0.8 0 1 0 -1.6 0"/>
<path fill="#000000" d="M574.9 161.2a0.8 0.8 0 1 0 1.6 0a0.8 0.8 0 1 0 -1.6 0"/>
<path fill="#ff0000" d="M585.6 187.4a0.8 0.8 0 1 0 1.6 0a0.8 0.8 0 1 0 -1.6 0M533.4 128.2a0.8 0.8 0 1 0 1.6 0a0.8 0.8 0 1 0 -1.6 0M537.2 148.0a0.8 0.8 0 1 0 1.6 0a0.8 0.8 0 1 0 -1.6 0M556.5 148.0a0.8 0.8 0 1 0 1.6 0a0.8 0.8 0 1 0 -1.6 0M558.9 184.2a0.8 0.8 0 1 0 1.6 0a0.8 0.8 0 1 0 -1.6 0M551.1 148.0a0.8 0.8 0 1 0 1.6 0a0.8 0.8 0 1 0 -1.6 0M560.3 193.9a0.8 0.8 0 1 0 1.6 0a0.8 0.8 0 1 0 -1.6 0"/>
<path fill="#000000" d="M554.9 118.5a0.8 0.8 0 1 0 1.6 0a0.8 0.8 0 1 0 -1.6 0M584.3 174.2a0.8 0.8 0 1 0 1.6 0a0.8 0.8 0 1 0 -1.6 0"/>
<path fill="#ff0000" d="M533.5 148.0a0.8 0.8 0 1 0 1.6 0a0.8 0.8 0 1 0 -1.6 0M550.6 161.2a0.8 0.8 0 1 0 1.6 0a0.8 0.8 0 1 0 -1.6 0"/>
<path fill="#000000" d="M566.6 148.0a0.8 0.8 0 1 0 1.6 0a0.8 0.8 0 1 0 -1.6 0"/>
<path fill="#ff0000" d="M576.4 167.7a0.8 0.8 0 1 0 1.6 0a0.8 0.8 0 1 0 -1.6 0"/>
<path fill="#000000" d="M566.5 154.6a0.8 0.8 0 1 0 1.6 0a0.8 0.8 0 1 0 -1.6 0"/>
<path fill="#ff0000" d="M524.3 154.6a0.8 0.8 0 1 0 1.6 0a0.8 0.8 0 1 0 -1.6 0M559.9 157.8a0.8 0.8 0 1 0 1.6 0a0.8 0.8 0 1 0 -1.6 0"/>
<path fill="#000000" d="M597.9 167.7a0.8 0.8 0 1 0 1.6 0a0.8 0.8 0 1 0 -1.6 0"/>
<path fill="#ff0000" d="M588.7 190.6a0.8 0.8 0 1 0 1.6 0a0.8 0.8 0 1 0 -1.6 0M562.8 167.7a0.8 0.8 0 1 0 1.6 0a0.8 0.8 0 1 0 -1.6 0"/>
<path fill="#000000" d="M556.7 171.0a0.8 0.8 0 1 0 1.6 0a0.8 0.8 0 1 0 -1.6 0M561.0 131.7a0.8 0.8 0 1 0 1.6 0a0.8 0.8 0 1 0 -1.6 0"/>
<path fill="#ff0000" d="M569.9 180.8a0.8 0.8 0 1 0 1.6 0a0.8 0.8 0 1 0 -1.6 0"/>
<path fill="#000000" d="M557.5 167.7a0.8 0.8 0 1 0 1.6 0a0.8 0.8 0 1 0 -1.6 0M563.8 164.5a0.8 0.8 0 1 0 1.6 0a0.8 0.8 0 1 0 -1.6 0M568.6 128.4a0.8 0.8 0 1 0 1.6 0a0.8 0.8 0 1 0 -1.6 0"/>
<path fill="#ff0000" d="M524.8 144.8a0.8 0.8 0 1 0 1.6 0a0.8 0.8 0 1 0 -1.6 0"/>
<path fill="#000000" d="M569.1 157.8a0.8 0.8 0 1 0 1.6 0a0.8 0.8 0 1 0 -1.6 0M539.1 128.2a0.8 0.8 0 1 0 1.6 0a0.8 0.8 0 1 0 -1.6 0M613.4 180.8a0.8 0.8 0 1 0 1.6 0a0.8 0.8 0 1 0 -1.6 0M580.2 154.6a0.8 0.8 0 1 0 1.6 0a0.8 0.8 0 1 0 -1.6 0"/>
<path fill="#ff0000" d="M558.9 193.9a0.8 0.8 0 1 0 1.6 0a0.8 0.8 0 1 0 -1.6 0M584.3 167.7a0.8 0.8 0 1 0 1.6 0a0.8 0.8 0 1 0 -1.6 0M575.9 187.4a0.8 0.8 0 1 0 1.6 0a0.8 0.8 0 1 0 -1.6 0M524.0 108.5a0.8 0.8 0 1 0 1.6 0a0.8 0.8 0 1 0 -1.6 0M570.0 148.0a0.8 0.8 0 1 0 1.6 0a0.8 0.8 0 1 0 -1.6 0M549.0 177.4a0.8 0.8 0 1 0 1.6 0a0.8 0.8 0 1 0 -1.6 0M588.7 180.8a0.8 0.8 0 1 0 1.6 0a0.8 0.8 0 1 0 -1.6 0M543.2 144.8a0.8 0.8 0 1 0 1.6 0a0.8 0.8 0 1 0 -1.6 0M589.2 177.4a0.8 0.8 0 1 0 1.6 0a0.8 0.8 0 1 0 -1.6 0M565.3 141.4a0.8 0.8 0 1 0 1.6 0a0.8 0.8 0 1 0 -1.6 0M627.4 184.1a0.8 0.8 0 1 0 1.6 0a0.8 0.8 0 1 0 -1.6 0M582.9 171.0a0.8 0.8 0 1 0 1.6 0a0.8 0.8 0 1 0 -1.6 0M595.5 180.8a0.8 0.8 0 1 0 1.6 0a0.8 0.8 0 1 0 -1.6 0M560.9 171.0a0.8 0.8 0 1 0 1.6 0a0.8 0.8 0 1 0 -1.6 0M555.5 177.4a0.8 0.8 0 1 0 1.6 0a0.8 0.8 0 1 0 -1.6 0"/>
<path fill="#000000" d="M669.2 184.1a0.8 0.8 0 1 0 1.6 0a0.8 0.8 0 1 0 -1.6 0M574.9 148.0a0.8 0.8 0 1 0 1.6 0a0.8 0.8 0 1 0 -1.6 0M584.4 157.8a0.8 0.8 0 1 0 1.6 0a0.8 0.8 0 1 0 -1.6 0M564.4 167.7a0.8 0.8 0 1 0 1.6 0a0.8 0.8 0 1 0 -1.6 0"/>
<path fill="#ff0000" d="M575.5 171.0a0.8 0.8 0 1 0 1.6 0a0.8 0.8 0 1 0 -1.6 0M548.7 184.2a0.8 0.8 0 1 0 1.6 0a0.8 0.8 0 1 0 -1.6 0M546.6 170.9a0.8 0.8 0 1 0 1.6 0a0.8 0.8 0 1 0 -1.6 0M564.4 157.8a0.8 0.8 0 1 0 1.6 0a0.8 0.8 0 1 0 -1.6 0M582.9 177.4a0.8 0.8 0 1 0 1.6 0a0.8 0.8 0 1 0 -1.6 0"/>
<path fill="#000000" d="M591.6 164.5a0.8 0.8 0 1 0 1.6 0a0.8 0.8 0 1 0 -1.6 0M559.9 138.0a0.8 0.8 0 1 0 1.6 0a0.8 0.8 0 1 0 -1.6 0M593.5 161.2a0.8 0.8 0 1 0 1.6 0a0.8 0.8 0 1 0 -1.6 0"/>
<path fill="#ff0000" d="M584.0 174.2a0.8 0.8 0 1 0 1.6 0a0.8 0.8 0 1 0 -1.6 0"/>
<path fill="#000000" d="M562.8 141.4a0.8 0.8 0 1 0 1.6 0a0.8 0.8 0 1 0 -1.6 0M558.9 148.0a0.8 0.8 0 1 0 1.6 0a0.8 0.8 0 1 0 -1.6 0"/>
<path fill="#ff0000" d="M551.8 174.2a0.8 0.8 0 1 0 1.6 0a0.8 0.8 0 1 0 -1.6 0M577.9 167.7a0.8 0.8 0 1 0 1.6 0a0.8 0.8 0 1 0 -1.6 0M569.1 134.7a0.8 0.8 0 1 0 1.6 0a0.8 0.8 0 1 0 -1.6 0M567.2 148.0a0.8 0.8 0 1 0 1.6 0a0.8 0.8 0 1 0 -1.6 0"/>
<path fill="#000000" d="M585.6 141.4a0.8 0.8 0 1 0 1.6 0a0.8 0.8 0 1 0 -1.6 0M575.4 141.4a0.8 0.8 0 1 0 1.6 0a0.8 0.8 0 1 0 -1.6 0M562.3 138.0a0.8 0.8 0 1 0 1.6 0a0.8 0.8 0 1 0 -1.6 0"/>
<path fill="#ff0000" d="M571.4 171.0a0.8 0.8 0 1 0 1.6 0a0.8 0.8 0 1 0 -1.6 0M556.9 144.8a0.8 0.8 0 1 0 1.6 0a0.8 0.8 0 1 0 -1.6 0M557.4 200.7a0.8 0.8 0 1 0 1.6 0a0.8 0.8 0 1 0 -1.6 0M532.3 144.8a0.8 0.8 0 1 0 1.6 0a0.8 0.8 0 1 0 -1.6 0"/>
<path fill="#000000" d="M562.8 167.7a0.8 0.8 0 1 0 1.6 0a0.8 0.8 0 1 0 -1.6 0M548.7 134.7a0.8 0.8 0 1 0 1.6 0a0.8 0.8 0 1 0 -1.6 0"/>
<path fill="#ff0000" d="M555.0 157.8a0.8 0.8 0 1 0 1.6 0a0.8 0.8 0 1 0 -1.6 0M572.0 167.7a0.8 0.8 0 1 0 1.6 0a0.8 0.8 0 1 0 -1.6 0M585.6 184.2a0.8 0.8 0 1 0 1.6 0a0.8 0.8 0 1 0 -1.6 0"/>
<path fill="#000000" d="M588.7 151.2a0.8 0.8 0 1 0 1.6 0a0.8 0.8 0 1 0 -1.6 0M579.3 148.0a0.8 0.8 0 1 0 1.6 0a0.8 0.8 0 1 0 -1.6 0"/>
<path fill="#ff0000" d="M564.2 154.6a0.8 0.8 0 1 0 1.6 0a0.8 0.8 0 1 0 -1.6 0"/>
<path fill="#000000" d="M576.8 154.6a0.8 0.8 0 1 0 1.6 0a0.8 0.8 0 1 0 -1.6 0M562.4 124.9a0.8 0.8 0 1 0 1.6 0a0.8 0.8 0 1 0 -1.6 0"/>
<path fill="#ff0000" d="M560.1 174.2a0.8 0.8 0 1 0 1.6 0a0.8 0.8 0 1 0 -1.6 0M535.9 157.8a0.8 0.8 0 1 0 1.6 0a0.8 0.8 0 1 0 -1.6 0M549.0 184.2a0.8 0.8 0 1 0 1.6 0a0.8 0.8 0 1 0 -1.6 0"/>
<path fill="#000000" d="M573.0 144.8a0.8 0.8 0 1 0 1.6 0a0.8 0.8 0 1 0 -1.6 0M565.2 138.0a0.8 0.8 0 1 0 1.6 0a0.8 0.8 0 1 0 -1.6 0"/>
<path fill="#ff0000" d="M569.6 184.2a0.8 0.8 0 1 0 1.6 0a0.8 0.8 0 1 0 -1.6 0M553.5 157.8a0.8 0.8 0 1 0 1.6 0a0.8 0.8 0 1 0 -1.6 0"/>
<path fill="#000000" d="M571.0 141.4a0.8 0.8 0 1 0 1.6 0a0.8 0.8 0 1 0 -1.6 0M536.5 65.8a0.8 0.8 0 1 0 1.6 0a0.8 0.8 0 1 0 -1.6 0"/>
<path fill="#ff0000" d="M579.1 174.2a0.8 0.8 0 1 0 1.6 0a0.8 0.8 0 1 0 -1.6 0M582.4 174.2a0.8 0.8 0 1 0 1.6 0a0.8 0.8 0 1 0 -1.6 0"/>
<path fill="#000000" d="M569.8 138.0a0.8 0.8 0 1 0 1.6 0a0.8 0.8 0 1 0 -1.6 0"/>
<path fill="#ff0000" d="M549.5 161.2a0.8 0.8 0 1 0 1.6 0a0.8 0.8 0 1 0 -1.6 0M539.3 161.2a0.8 0.8 0 1 0 1.6 0a0.8 0.8 0 1 0 -1.6 0"/>
<path fill="#000000" d="M536.9 121.9a0.8 0.8 0 1 0 1.6 0a0.8 0.8 0 1 0 -1.6 0"/>
<path fill="#ff0000" d="M580.2 177.4a0.8 0.8 0 1 0 1.6 0a0.8 0.8 0 1 0 -1.6 0"/>
<path fill="#000000" d="M556.7 180.8a0.8 0.8 0 1 0 1.6 0a0.8 0.8 0 1 0 -1.6 0M580.7 171.0a0.8 0.8 0 1 0 1.6 0a0.8 0.8 0 1 0 -1.6 0"/>
<path fill="#ff0000" d="M552.6 138.0a0.8 0.8 0 1 0 1.6 0a0.8 0.8 0 1 0 -1.6 0"/>
<path fill="#000000" d="M603.7 180.8a0.8 0.8 0 1 0 1.6 0a0.8 0.8 0 1 0 -1.6 0"/>
<path fill="#ff0000" d="M588.7 157.8a0.8 0.8 0 1 0 1.6 0a0.8 0.8 0 1 0 -1.6 0"/>
<path fill="#000000" d="M585.4 141.4a0.8 0.8 0 1 0 1.6 0a0.8 0.8 0 1 0 -1.6 0M557.4 138.0a0.8 0.8 0 1 0 1.6 0a0.8 0.8 0 1 0 -1.6 0M574.7 144.8a0.8 0.8 0 1 0 1.6 0a0.8 0.8 0 1 0 -1.6 0"/>
<path fill="#ff0000" d="M548.7 157.8a0.8 0.8 0 1 0 1.6 0a0.8 0.8 0 1 0 -1.6 0M573.9 190.6a0.8 0.8 0 1 0 1.6 0a0.8 0.8 0 1 0 -1.6 0M555.1 171.0a0.8 0.8 0 1 0 1.6 0a0.8 0.8 0 1 0 -1.6 0"/>
<path fill="#000000" d="M560.9 171.0a0.8 0.8 0 1 0 1.6 0a0.8 0.8 0 1 0 -1.6 0M549.9 131.4a0.8 0.8 0 1 0 1.6 0a0.8 0.8 0 1 0 -1.6 0M544.8 108.5a0.8 0.8 0 1 0 1.6 0a0.8 0.8 0 1 0 -1.6 0M593.1 177.4a0.8 0.8 0 1 0 1.6 0a0.8 0.8 0 1 0 -1.6 0M565.3 171.0a0.8 0.8 0 1 0 1.6 0a0.8 0.8 0 1 0 -1.6 0M568.6 138.0a0.8 0.8 0 1 0 1.6 0a0.8 0.8 0 1 0 -1.6 0M564.5 174.2a0.8 0.8 0 1 0 1.6 0a0.8 0.8 0 1 0 -1.6 0"/>
<path fill="#ff0000" d="M529.6 164.5a0.8 0.8 0 1 0 1.6 0a0.8 0.8 0 1 0 -1.6 0M555.2 180.8a0.8 0.8 0 1 0 1.6 0a0.8 0.8 0 1 0 -1.6 0"/>
<path fill="#000000" d="M554.5 134.7a0.8 0.8 0 1 0 1.6 0a0.8 0.8 0 1 0 -1.6 0"/>
<path fill="#ff0000" d="M550.4 171.0a0.8 0.8 0 1 0 1.6 0a0.8 0.8 0 1 0 -1.6 0M562.7 164.5a0.8 0.8 0 1 0 1.6 0a0.8 0.8 0 1 0 -1.6 0M569.0 161.2a0.8 0.8 0 1 0 1.6 0a0.8 0.8 0 1 0 -1.6 0"/>
<path fill="#000000" d="M558.9 144.8a0.8 0.8 0 1 0 1.6 0a0.8 0.8 0 1 0 -1.6 0"/>
<path fill="#ff0000" d="M565.1 177.4a0.8 0.8 0 1 0 1.6 0a0.8 0.8 0 1 0 -1.6 0"/>
<path fill="#000000" d="M533.5 138.0a0.8 0.8 0 1 0 1.6 0a0.8 0.8 0 1 0 -1.6 0"/>
<path fill="#ff0000" d="M552.9 171.0a0.8 0.8 0 1 0 1.6 0a0.8 0.8 0 1 0 -1.6 0M551.6 138.0a0.8 0.8 0 1 0 1.6 0a0.8 0.8 0 1 0 -1.6 0M586.2 177.4a0.8 0.8 0 1 0 1.6 0a0.8 0.8 0 1 0 -1.6 0"/>
<path fill="#000000" d="M600.3 170.9a0.8 0.8 0 1 0 1.6 0a0.8 0.8 0 1 0 -1.6 0M580.0 151.2a0.8 0.8 0 1 0 1.6 0a0.8 0.8 0 1 0 -1.6 0"/>
<path fill="#ff0000" d="M587.9 161.2a0.8 0.8 0 1 0 1.6 0a0.8 0.8 0 1 0 -1.6 0M567.8 161.2a0.8 0.8 0 1 0 1.6 0a0.8 0.8 0 1 0 -1.6 0M551.8 171.0a0.8 0.8 0 1 0 1.6 0a0.8 0.8 0 1 0 -1.6 0M555.0 187.4a0.8 0.8 0 1 0 1.6 0a0.8 0.8 0 1 0 -1.6 0"/>
<path fill="#000000" d="M567.1 184.2a0.8 0.8 0 1 0 1.6 0a0.8 0.8 0 1 0 -1.6 0"/>
<path fill="#ff0000" d="M580.2 190.6a0.8 0.8 0 1 0 1.6 0a0.8 0.8 0 1 0 -1.6 0"/>
<path fill="#000000" d="M563.6 177.4a0.8 0.8 0 1 0 1.6 0a0.8 0.8 0 1 0 -1.6 0"/>
<path fill="#ff0000" d="M528.2 148.0a0.8 0.8 0 1 0 1.6 0a0.8 0.8 0 1 0 -1.6 0M537.4 170.9a0.8 0.8 0 1 0 1.6 0a0.8 0.8 0 1 0 -1.6 0M529.6 148.0a0.8 0.8 0 1 0 1.6 0a0.8 0.8 0 1 0 -1.6 0"/>
<path fill="#000000" d="M577.1 161.2a0.8 0.8 0 1 0 1.6 0a0.8 0.8 0 1 0 -1.6 0M598.9 164.5a0.8 0.8 0 1 0 1.6 0a0.8 0.8 0 1 0 -1.6 0M587.2 174.2a0.8 0.8 0 1 0 1.6 0a0.8 0.8 0 1 0 -1.6 0M551.5 121.9a0.8 0.8 0 1 0 1.6 0a0.8 0.8 0 1 0 -1.6 0M551.1 157.8a0.8 0.8 0 1 0 1.6 0a0.8 0.8 0 1 0 -1.6 0"/>
<path fill="#ff0000" d="M563.4 180.8a0.8 0.8 0 1 0 1.6 0a0.8 0.8 0 1 0 -1.6 0M533.5 170.9a0.8 0.8 0 1 0 1.6 0a0.8 0.8 0 1 0 -1.6 0M567.4 164.5a0.8 0.8 0 1 0 1.6 0a0.8 0.8 0 1 0 -1.6 0"/>
<path fill="#000000" d="M574.6 177.4a0.8 0.8 0 1 0 1.6 0a0.8 0.8 0 1 0 -1.6 0M602.3 167.7a0.8 0.8 0 1 0 1.6 0a0.8 0.8 0 1 0 -1.6 0"/>
<path fill="#ff0000" d="M583.6 171.0a0.8 0.8 0 1 0 1.6 0a0.8 0.8 0 1 0 -1.6 0"/>
<path fill="#000000" d="M596.0 167.7a0.8 0.8 0 1 0 1.6 0a0.8 0.8 0 1 0 -1.6 0"/>
<path fill="#ff0000" d="M531.6 138.0a0.8 0.8 0 1 0 1.6 0a0.8 0.8 0 1 0 -1.6 0"/>
<path fill="#000000" d="M573.7 177.4a0.8 0.8 0 1 0 1.6 0a0.8 0.8 0 1 0 -1.6 0"/>
<path fill="#ff0000" d="M560.8 164.5a0.8 0.8 0 1 0 1.6 0a0.8 0.8 0 1 0 -1.6 0"/>
<path fill="#000000" d="M573.3 151.2a0.8 0.8 0 1 0 1.6 0a0.8 0.8 0 1 0 -1.6 0M565.2 148.0a0.8 0.8 0 1 0 1.6 0a0.8 0.8 0 1 0 -1.6 0M596.5 187.4a0.8 0.8 0 1 0 1.6 0a0.8 0.8 0 1 0 -1.6 0M555.3 180.8a0.8 0.8 0 1 0 1.6 0a0.8 0.8 0 1 0 -1.6 0M552.1 148.0a0.8 0.8 0 1 0 1.6 0a0.8 0.8 0 1 0 -1.6 0"/>
<path fill="#ff0000" d="M589.7 187.4a0.8 0.8 0 1 0 1.6 0a0.8 0.8 0 1 0 -1.6 0"/>
<path fill="#000000" d="M572.5 193.9a0.8 0.8 0 1 0 1.6 0a0.8 0.8 0 1 0 -1.6 0"/>
<path fill="#ff0000" d="M554.0 151.2a0.8 0.8 0 1 0 1.6 0a0.8 0.8 0 1 0 -1.6 0"/>
<path fill="#000000" d="M556.5 187.4a0.8 0.8 0 1 0 1.6 0a0.8 0.8 0 1 0 -1.6 0M565.5 171.0a0.8 0.8 0 1 0 1.6 0a0.8 0.8 0 1 0 -1.6 0M570.5 154.6a0.8 0.8 0 1 0 1.6 0a0.8 0.8 0 1 0 -1.6 0M546.1 134.7a0.8 0.8 0 1 0 1.6 0a0.8 0.8 0 1 0 -1.6 0M615.9 164.5a0.8 0.8 0 1 0 1.6 0a0.8 0.8 0 1 0 -1.6 0"/>
<path fill="#ff0000" d="M560.2 167.7a0.8 0.8 0 1 0 1.6 0a0.8 0.8 0 1 0 -1.6 0"/>
<path fill="#000000" d="M550.4 128.2a0.8 0.8 0 1 0 1.6 0a0.8 0.8 0 1 0 -1.6 0"/>
<path fill="#ff0000" d="M547.5 171.0a0.8 0.8 0 1 0 1.6 0a0.8 0.8 0 1 0 -1.6 0"/>
<path fill="#000000" d="M543.2 88.8a0.8 0.8 0 1 0 1.6 0a0.8 0.8 0 1 0 -1.6 0M556.8 151.2a0.8 0.8 0 1 0 1.6 0a0.8 0.8 0 1 0 -1.6 0"/>
<path fill="#ff0000" d="M574.5 171.0a0.8 0.8 0 1 0 1.6 0a0.8 0.8 0 1 0 -1.6 0M566.6 197.4a0.8 0.8 0 1 0 1.6 0a0.8 0.8 0 1 0 -1.6 0M566.0 154.6a0.8 0.8 0 1 0 1.6 0a0.8 0.8 0 1 0 -1.6 0"/>
<path fill="#000000" d="M565.7 184.2a0.8 0.8 0 1 0 1.6 0a0.8 0.8 0 1 0 -1.6 0"/>
<path fill="#ff0000" d="M556.4 180.8a0.8 0.8 0 1 0 1.6 0a0.8 0.8 0 1 0 -1.6 0M525.2 151.2a0.8 0.8 0 1 0 1.6 0a0.8 0.8 0 1 0 -1.6 0"/>
<path fill="#000000" d="M560.4 180.8a0.8 0.8 0 1 0 1.6 0a0.8 0.8 0 1 0 -1.6 0"/>
<path fill="#ff0000" d="M559.4 154.6a0.8 0.8 0 1 0 1.6 0a0.8 0.8 0 1 0 -1.6 0M547.6 177.4a0.8 0.8 0 1 0 1.6 0a0.8 0.8 0 1 0 -1.6 0M544.5 128.2a0.8 0.8 0 1 0 1.6 0a0.8 0.8 0 1 0 -1.6 0M569.3 167.7a0.8 0.8 0 1 0 1.6 0a0.8 0.8 0 1 0 -1.6 0"/>
<path fill="#000000" d="M569.5 177.4a0.8 0.8 0 1 0 1.6 0a0.8 0.8 0 1 0 -1.6 0"/>
<path fill="#ff0000" d="M571.5 187.4a0.8 0.8 0 1 0 1.6 0a0.8 0.8 0 1 0 -1.6 0"/>
<path fill="#000000" d="M588.1 167.7a0.8 0.8 0 1 0 1.6 0a0.8 0.8 0 1 0 -1.6 0"/>
<path fill="#ff0000" d="M592.6 197.4a0.8 0.8 0 1 0 1.6 0a0.8 0.8 0 1 0 -1.6 0"/>
<path fill="#000000" d="M558.8 174.2a0.8 0.8 0 1 0 1.6 0a0.8 0.8 0 1 0 -1.6 0"/>
<path fill="#ff0000" d="M559.5 180.8a0.8 0.8 0 1 0 1.6 0a0.8 0.8 0 1 0 -1.6 0"/>
<path fill="#000000" d="M546.9 134.7a0.8 0.8 0 1 0 1.6 0a0.8 0.8 0 1 0 -1.6 0"/>
<path fill="#ff0000" d="M523.3 161.2a0.8 0.8 0 1 0 1.6 0a0.8 0.8 0 1 0 -1.6 0M548.1 157.8a0.8 0.8 0 1 0 1.6 0a0.8 0.8 0 1 0 -1.6 0M587.0 157.8a0.8 0.8 0 1 0 1.6 0a0.8 0.8 0 1 0 -1.6 0"/>
<path fill="#000000" d="M566.2 141.4a0.8 0.8 0 1 0 1.6 0a0.8 0.8 0 1 0 -1.6 0M555.4 144.8a0.8 0.8 0 1 0 1.6 0a0.8 0.8 0 1 0 -1.6 0"/>
<path fill="#ff0000" d="M563.1 157.8a0.8 0.8 0 1 0 1.6 0a0.8 0.8 0 1 0 -1.6 0M520.9 148.0a0.8 0.8 0 1 0 1.6 0a0.8 0.8 0 1 0 -1.6 0"/>
<path fill="#000000" d="M581.9 157.8a0.8 0.8 0 1 0 1.6 0a0.8 0.8 0 1 0 -1.6 0M554.0 141.4a0.8 0.8 0 1 0 1.6 0a0.8 0.8 0 1 0 -1.6 0"/>
<path fill="#ff0000" d="M549.5 170.9a0.8 0.8 0 1 0 1.6 0a0.8 0.8 0 1 0 -1.6 0"/>
<path fill="#000000" d="M544.1 115.2a0.8 0.8 0 1 0 1.6 0a0.8 0.8 0 1 0 -1.6 0"/>
<path fill="#ff0000" d="M544.7 190.6a0.8 0.8 0 1 0 1.6 0a0.8 0.8 0 1 0 -1.6 0"/>
<path fill="#000000" d="M594.0 157.8a0.8 0.8 0 1 0 1.6 0a0.8 0.8 0 1 0 -1.6 0M589.7 157.8a0.8 0.8 0 1 0 1.6 0a0.8 0.8 0 1 0 -1.6 0"/>
<path fill="#ff0000" d="M541.8 170.9a0.8 0.8 0 1 0 1.6 0a0.8 0.8 0 1 0 -1.6 0M566.2 161.2a0.8 0.8 0 1 0 1.6 0a0.8 0.8 0 1 0 -1.6 0M566.2 141.4a0.8 0.8 0 1 0 1.6 0a0.8 0.8 0 1 0 -1.6 0M583.2 200.7a0.8 0.8 0 1 0 1.6 0a0.8 0.8 0 1 0 -1.6 0M552.6 184.2a0.8 0.8 0 1 0 1.6 0a0.8 0.8 0 1 0 -1.6 0M555.5 151.2a0.8 0.8 0 1 0 1.6 0a0.8 0.8 0 1 0 -1.6 0"/>
<path fill="#000000" d="M599.4 174.2a0.8 0.8 0 1 0 1.6 0a0.8 0.8 0 1 0 -1.6 0M600.8 177.4a0.8 0.8 0 1 0 1.6 0a0.8 0.8 0 1 0 -1.6 0M589.2 161.2a0.8 0.8 0 1 0 1.6 0a0.8 0.8 0 1 0 -1.6 0"/>
<path fill="#ff0000" d="M574.0 177.4a0.8 0.8 0 1 0 1.6 0a0.8 0.8 0 1 0 -1.6 0M587.8 174.2a0.8 0.8 0 1 0 1.6 0a0.8 0.8 0 1 0 -1.6 0M594.5 197.4a0.8 0.8 0 1 0 1.6 0a0.8 0.8 0 1 0 -1.6 0M520.4 151.2a0.8 0.8 0 1 0 1.6 0a0.8 0.8 0 1 0 -1.6 0"/>
<path fill="#000000" d="M531.9 62.5a0.8 0.8 0 1 0 1.6 0a0.8 0.8 0 1 0 -1.6 0M568.8 157.8a0.8 0.8 0 1 0 1.6 0a0.8 0.8 0 1 0 -1.6 0M570.0 138.0a0.8 0.8 0 1 0 1.6 0a0.8 0.8 0 1 0 -1.6 0M570.6 177.4a0.8 0.8 0 1 0 1.6 0a0.8 0.8 0 1 0 -1.6 0M546.1 121.9a0.8 0.8 0 1 0 1.6 0a0.8 0.8 0 1 0 -1.6 0M617.3 177.4a0.8 0.8 0 1 0 1.6 0a0.8 0.8 0 1 0 -1.6 0M546.1 144.8a0.8 0.8 0 1 0 1.6 0a0.8 0.8 0 1 0 -1.6 0M582.9 167.7a0.8 0.8 0 1 0 1.6 0a0.8 0.8 0 1 0 -1.6 0M557.4 144.8a0.8 0.8 0 1 0 1.6 0a0.8 0.8 0 1 0 -1.6 0M589.2 151.2a0.8 0.8 0 1 0 1.6 0a0.8 0.8 0 1 0 -1.6 0M563.7 148.0a0.8 0.8 0 1 0 1.6 0a0.8 0.8 0 1 0 -1.6 0"/>
<path fill="#ff0000" d="M576.8 193.9a0.8 0.8 0 1 0 1.6 0a0.8 0.8 0 1 0 -1.6 0M561.8 184.2a0.8 0.8 0 1 0 1.6 0a0.8 0.8 0 1 0 -1.6 0"/>
<path fill="#000000" d="M587.2 164.5a0.8 0.8 0 1 0 1.6 0a0.8 0.8 0 1 0 -1.6 0"/>
<path fill="#ff0000" d="M560.6 167.7a0.8 0.8 0 1 0 1.6 0a0.8 0.8 0 1 0 -1.6 0M538.4 154.6a0.8 0.8 0 1 0 1.6 0a0.8 0.8 0 1 0 -1.6 0M568.6 144.8a0.8 0.8 0 1 0 1.6 0a0.8 0.8 0 1 0 -1.6 0"/>
<path fill="#000000" d="M546.6 131.4a0.8 0.8 0 1 0 1.6 0a0.8 0.8 0 1 0 -1.6 0"/>
<path fill="#ff0000" d="M561.5 164.5a0.8 0.8 0 1 0 1.6 0a0.8 0.8 0 1 0 -1.6 0"/>
<path fill="#000000" d="M584.6 148.0a0.8 0.8 0 1 0 1.6 0a0.8 0.8 0 1 0 -1.6 0M599.9 180.8a0.8 0.8 0 1 0 1.6 0a0.8 0.8 0 1 0 -1.6 0M557.4 134.7a0.8 0.8 0 1 0 1.6 0a0.8 0.8 0 1 0 -1.6 0M570.5 144.8a0.8 0.8 0 1 0 1.6 0a0.8 0.8 0 1 0 -1.6 0M549.5 148.0a0.8 0.8 0 1 0 1.6 0a0.8 0.8 0 1 0 -1.6 0M560.4 138.0a0.8 0.8 0 1 0 1.6 0a0.8 0.8 0 1 0 -1.6 0M577.3 157.8a0.8 0.8 0 1 0 1.6 0a0.8 0.8 0 1 0 -1.6 0"/>
<path fill="#ff0000" d="M596.5 184.2a0.8 0.8 0 1 0 1.6 0a0.8 0.8 0 1 0 -1.6 0M524.3 151.2a0.8 0.8 0 1 0 1.6 0a0.8 0.8 0 1 0 -1.6 0M575.2 164.5a0.8 0.8 0 1 0 1.6 0a0.8 0.8 0 1 0 -1.6 0M545.2 157.8a0.8 0.8 0 1 0 1.6 0a0.8 0.8 0 1 0 -1.6 0"/>
<path fill="#000000" d="M610.5 197.4a0.8 0.8 0 1 0 1.6 0a0.8 0.8 0 1 0 -1.6 0"/>
<path fill="#ff0000" d="M564.0 174.2a0.8 0.8 0 1 0 1.6 0a0.8 0.8 0 1 0 -1.6 0M545.2 170.9a0.8 0.8 0 1 0 1.6 0a0.8 0.8 0 1 0 -1.6 0M536.4 141.4a0.8 0.8 0 1 0 1.6 0a0.8 0.8 0 1 0 -1.6 0"/>
<path fill="#000000" d="M527.2 180.8a0.8 0.8 0 1 0 1.6 0a0.8 0.8 0 1 0 -1.6 0M561.4 174.2a0.8 0.8 0 1 0 1.6 0a0.8 0.8 0 1 0 -1.6 0"/>
<path fill="#ff0000" d="M554.6 171.0a0.8 0.8 0 1 0 1.6 0a0.8 0.8 0 1 0 -1.6 0M564.7 187.4a0.8 0.8 0 1 0 1.6 0a0.8 0.8 0 1 0 -1.6 0M576.9 171.0a0.8 0.8 0 1 0 1.6 0a0.8 0.8 0 1 0 -1.6 0"/>
<path fill="#000000" d="M561.3 134.7a0.8 0.8 0 1 0 1.6 0a0.8 0.8 0 1 0 -1.6 0M585.1 157.8a0.8 0.8 0 1 0 1.6 0a0.8 0.8 0 1 0 -1.6 0M597.4 164.5a0.8 0.8 0 1 0 1.6 0a0.8 0.8 0 1 0 -1.6 0M565.2 180.8a0.8 0.8 0 1 0 1.6 0a0.8 0.8 0 1 0 -1.6 0M563.7 157.8a0.8 0.8 0 1 0 1.6 0a0.8 0.8 0 1 0 -1.6 0"/>
<path fill="#ff0000" d="M557.3 180.8a0.8 0.8 0 1 0 1.6 0a0.8 0.8 0 1 0 -1.6 0M568.6 187.4a0.8 0.8 0 1 0 1.6 0a0.8 0.8 0 1 0 -1.6 0"/>
<path fill="#000000" d="M600.8 164.5a0.8 0.8 0 1 0 1.6 0a0.8 0.8 0 1 0 -1.6 0"/>
<path fill="#ff0000" d="M584.6 193.9a0.8 0.8 0 1 0 1.6 0a0.8 0.8 0 1 0 -1.6 0"/>
<path fill="#000000" d="M560.8 157.8a0.8 0.8 0 1 0 1.6 0a0.8 0.8 0 1 0 -1.6 0"/>
<path fill="#ff0000" d="M529.6 141.4a0.8 0.8 0 1 0 1.6 0a0.8 0.8 0 1 0 -1.6 0"/>
<path fill="#000000" d="M576.5 148.0a0.8 0.8 0 1 0 1.6 0a0.8 0.8 0 1 0 -1.6 0"/>
<path fill="#ff0000" d="M548.1 170.9a0.8 0.8 0 1 0 1.6 0a0.8 0.8 0 1 0 -1.6 0"/>
<path fill="#000000" d="M644.3 184.1a0.8 0.8 0 1 0 1.6 0a0.8 0.8 0 1 0 -1.6 0M554.6 167.7a0.8 0.8 0 1 0 1.6 0a0.8 0.8 0 1 0 -1.6 0M580.2 157.8a0.8 0.8 0 1 0 1.6 0a0.8 0.8 0 1 0 -1.6 0M587.9 148.0a0.8 0.8 0 1 0 1.6 0a0.8 0.8 0 1 0 -1.6 0M559.0 131.4a0.8 0.8 0 1 0 1.6 0a0.8 0.8 0 1 0 -1.6 0"/>
<path fill="#ff0000" d="M563.3 164.5a0.8 0.8 0 1 0 1.6 0a0.8 0.8 0 1 0 -1.6 0"/>
<path fill="#000000" d="M608.1 161.2a0.8 0.8 0 1 0 1.6 0a0.8 0.8 0 1 0 -1.6 0M563.6 138.0a0.8 0.8 0 1 0 1.6 0a0.8 0.8 0 1 0 -1.6 0"/>
<path fill="#ff0000" d="M574.4 187.4a0.8 0.8 0 1 0 1.6 0a0.8 0.8 0 1 0 -1.6 0"/>
<line x1="60.5" y1="184.6" x2="225.9" y2="200.2" stroke="#3366ff" stroke-width="1.5"/>
<line x1="283.1" y1="166.9" x2="420.3" y2="194.3" stroke="#000" stroke-width="1.5"/>
<line x1="303.0" y1="148.0" x2="452.3" y2="185.3" stroke="#ff0000" stroke-width="1.5"/>
<line x1="522.0" y1="127.5" x2="669.9" y2="215.5" stroke="#000" stroke-width="1.5"/>
<line x1="510.6" y1="150.3" x2="628.3" y2="199.1" stroke="#ff0000" stroke-width="1.5"/>
<line x1="51.9" y1="21.0" x2="51.9" y2="241.0" stroke="#333" stroke-width="1.9"/>
<line x1="50.949999999999996" y1="240.0" x2="238.5" y2="240.0" stroke="#333" stroke-width="1.9"/>
<line x1="49.0" y1="230.5" x2="51.9" y2="230.5" stroke="#333" stroke-width="1.1"/>
<text x="46.1" y="233.9" text-anchor="end" fill="#4d4d4d" font-size="9.6">0</text>
<line x1="49.0" y1="180.6" x2="51.9" y2="180.6" stroke="#333" stroke-width="1.1"/>
<text x="46.1" y="184.0" text-anchor="end" fill="#4d4d4d" font-size="9.6">25</text>
<line x1="49.0" y1="130.7" x2="51.9" y2="130.7" stroke="#333" stroke-width="1.1"/>
<text x="46.1" y="134.1" text-anchor="end" fill="#4d4d4d" font-size="9.6">50</text>
<line x1="49.0" y1="80.8" x2="51.9" y2="80.8" stroke="#333" stroke-width="1.1"/>
<text x="46.1" y="84.2" text-anchor="end" fill="#4d4d4d" font-size="9.6">75</text>
<line x1="49.0" y1="30.9" x2="51.9" y2="30.9" stroke="#333" stroke-width="1.1"/>
<text x="46.1" y="34.3" text-anchor="end" fill="#4d4d4d" font-size="9.6">100</text>
<line x1="60.4" y1="240.0" x2="60.4" y2="243.6" stroke="#333" stroke-width="1.1"/>
<text x="60.4" y="252.8" text-anchor="middle" fill="#4d4d4d" font-size="9.6">500</text>
<line x1="100.7" y1="240.0" x2="100.7" y2="243.6" stroke="#333" stroke-width="1.1"/>
<text x="100.7" y="252.8" text-anchor="middle" fill="#4d4d4d" font-size="9.6">1000</text>
<line x1="141.1" y1="240.0" x2="141.1" y2="243.6" stroke="#333" stroke-width="1.1"/>
<text x="141.1" y="252.8" text-anchor="middle" fill="#4d4d4d" font-size="9.6">1500</text>
<line x1="181.4" y1="240.0" x2="181.4" y2="243.6" stroke="#333" stroke-width="1.1"/>
<text x="181.4" y="252.8" text-anchor="middle" fill="#4d4d4d" font-size="9.6">2000</text>
<line x1="221.8" y1="240.0" x2="221.8" y2="243.6" stroke="#333" stroke-width="1.1"/>
<text x="221.8" y="252.8" text-anchor="middle" fill="#4d4d4d" font-size="9.6">2500</text>
<line x1="274.4" y1="21.0" x2="274.4" y2="241.0" stroke="#333" stroke-width="1.9"/>
<line x1="273.45" y1="240.0" x2="460.8" y2="240.0" stroke="#333" stroke-width="1.9"/>
<line x1="271.5" y1="230.4" x2="274.4" y2="230.4" stroke="#333" stroke-width="1.1"/>
<text x="268.59999999999997" y="233.8" text-anchor="end" fill="#4d4d4d" font-size="9.6">0</text>
<line x1="271.5" y1="188.9" x2="274.4" y2="188.9" stroke="#333" stroke-width="1.1"/>
<text x="268.59999999999997" y="192.3" text-anchor="end" fill="#4d4d4d" font-size="9.6">25</text>
<line x1="271.5" y1="147.4" x2="274.4" y2="147.4" stroke="#333" stroke-width="1.1"/>
<text x="268.59999999999997" y="150.8" text-anchor="end" fill="#4d4d4d" font-size="9.6">50</text>
<line x1="271.5" y1="105.9" x2="274.4" y2="105.9" stroke="#333" stroke-width="1.1"/>
<text x="268.59999999999997" y="109.30000000000001" text-anchor="end" fill="#4d4d4d" font-size="9.6">75</text>
<line x1="271.5" y1="64.3" x2="274.4" y2="64.3" stroke="#333" stroke-width="1.1"/>
<text x="268.59999999999997" y="67.7" text-anchor="end" fill="#4d4d4d" font-size="9.6">100</text>
<line x1="271.5" y1="22.8" x2="274.4" y2="22.8" stroke="#333" stroke-width="1.1"/>
<text x="268.59999999999997" y="26.2" text-anchor="end" fill="#4d4d4d" font-size="9.6">125</text>
<line x1="307.6" y1="240.0" x2="307.6" y2="243.6" stroke="#333" stroke-width="1.1"/>
<text x="307.6" y="252.8" text-anchor="middle" fill="#4d4d4d" font-size="9.6">1000</text>
<line x1="342.3" y1="240.0" x2="342.3" y2="243.6" stroke="#333" stroke-width="1.1"/>
<text x="342.3" y="252.8" text-anchor="middle" fill="#4d4d4d" font-size="9.6">1200</text>
<line x1="377.0" y1="240.0" x2="377.0" y2="243.6" stroke="#333" stroke-width="1.1"/>
<text x="377.0" y="252.8" text-anchor="middle" fill="#4d4d4d" font-size="9.6">1400</text>
<line x1="411.8" y1="240.0" x2="411.8" y2="243.6" stroke="#333" stroke-width="1.1"/>
<text x="411.8" y="252.8" text-anchor="middle" fill="#4d4d4d" font-size="9.6">1600</text>
<line x1="446.6" y1="240.0" x2="446.6" y2="243.6" stroke="#333" stroke-width="1.1"/>
<text x="446.6" y="252.8" text-anchor="middle" fill="#4d4d4d" font-size="9.6">1800</text>
<line x1="490.8" y1="21.0" x2="490.8" y2="241.0" stroke="#333" stroke-width="1.9"/>
<line x1="489.85" y1="240.0" x2="682.8" y2="240.0" stroke="#333" stroke-width="1.9"/>
<line x1="487.90000000000003" y1="230.4" x2="490.8" y2="230.4" stroke="#333" stroke-width="1.1"/>
<text x="485.0" y="233.8" text-anchor="end" fill="#4d4d4d" font-size="9.6">0</text>
<line x1="487.90000000000003" y1="163.9" x2="490.8" y2="163.9" stroke="#333" stroke-width="1.1"/>
<text x="485.0" y="167.3" text-anchor="end" fill="#4d4d4d" font-size="9.6">20</text>
<line x1="487.90000000000003" y1="97.5" x2="490.8" y2="97.5" stroke="#333" stroke-width="1.1"/>
<text x="485.0" y="100.9" text-anchor="end" fill="#4d4d4d" font-size="9.6">40</text>
<line x1="487.90000000000003" y1="31.0" x2="490.8" y2="31.0" stroke="#333" stroke-width="1.1"/>
<text x="485.0" y="34.4" text-anchor="end" fill="#4d4d4d" font-size="9.6">60</text>
<line x1="547.0" y1="240.0" x2="547.0" y2="243.6" stroke="#333" stroke-width="1.1"/>
<text x="547.0" y="252.8" text-anchor="middle" fill="#4d4d4d" font-size="9.6">800</text>
<line x1="610.5" y1="240.0" x2="610.5" y2="243.6" stroke="#333" stroke-width="1.1"/>
<text x="610.5" y="252.8" text-anchor="middle" fill="#4d4d4d" font-size="9.6">1200</text>
<line x1="673.9" y1="240.0" x2="673.9" y2="243.6" stroke="#333" stroke-width="1.1"/>
<text x="673.9" y="252.8" text-anchor="middle" fill="#4d4d4d" font-size="9.6">1600</text>
<text x="61.5" y="42.0" fill="#000" font-size="10.4" xml:space="preserve"><tspan font-style="italic">y</tspan> = 24.9 − 0.00384 <tspan font-style="italic">x</tspan>   <tspan font-style="italic">R</tspan><tspan font-size="7.4" dy="-3.9" dx="0.2">2</tspan><tspan dy="3.9" dx="0.3"> = 0.01</tspan></text>
<text x="283.9" y="42.0" fill="#000" font-size="10.4" xml:space="preserve"><tspan font-style="italic">y</tspan> = 56.2 − 0.0209 <tspan font-style="italic">x</tspan>   <tspan font-style="italic">R</tspan><tspan font-size="7.4" dy="-3.9" dx="0.2">2</tspan><tspan dy="3.9" dx="0.3"> = 0.17</tspan></text>
<text x="283.9" y="62.0" fill="#ff0000" font-size="10.4" xml:space="preserve"><tspan font-style="italic">y</tspan> = 75 − 0.0261 <tspan font-style="italic">x</tspan>   <tspan font-style="italic">R</tspan><tspan font-size="7.4" dy="-3.9" dx="0.2">2</tspan><tspan dy="3.9" dx="0.3"> = 0.20</tspan></text>
<text x="500.5" y="42.0" fill="#000" font-size="10.4" xml:space="preserve"><tspan font-style="italic">y</tspan> = 49.2 − 0.0284 <tspan font-style="italic">x</tspan>   <tspan font-style="italic">R</tspan><tspan font-size="7.4" dy="-3.9" dx="0.2">2</tspan><tspan dy="3.9" dx="0.3"> = 0.32</tspan></text>
<text x="500.5" y="62.0" fill="#ff0000" font-size="10.4" xml:space="preserve"><tspan font-style="italic">y</tspan> = 35.4 − 0.0198 <tspan font-style="italic">x</tspan>   <tspan font-style="italic">R</tspan><tspan font-size="7.4" dy="-3.9" dx="0.2">2</tspan><tspan dy="3.9" dx="0.3"> = 0.25</tspan></text>
<line x1="396.0" y1="87.4" x2="413.0" y2="87.4" stroke="#ff0000" stroke-width="1.4"/><text x="421.7" y="90.9" fill="#1a1a1a" font-size="9.7">adaxial</text><line x1="396.0" y1="108.5" x2="413.0" y2="108.5" stroke="#000" stroke-width="1.4"/><text x="421.7" y="111.9" fill="#1a1a1a" font-size="9.7">abaxial</text>
<line x1="617.2" y1="87.4" x2="633.8" y2="87.4" stroke="#ff0000" stroke-width="1.4"/><text x="642.8" y="90.9" fill="#1a1a1a" font-size="9.7">adaxial</text><line x1="617.2" y1="108.5" x2="633.8" y2="108.5" stroke="#000" stroke-width="1.4"/><text x="642.8" y="111.9" fill="#1a1a1a" font-size="9.7">abaxial</text>
<text x="34.9" y="11.2" font-size="14.3" font-weight="bold" fill="#000">A</text>
<text x="257.2" y="11.2" font-size="14.3" font-weight="bold" fill="#000">B</text>
<text x="472.6" y="11.2" font-size="14.3" font-weight="bold" fill="#000">C</text>
<text transform="translate(16.4,222.4) rotate(-90)" font-size="15.0" fill="#000">Stomatal density (no mm<tspan font-size="11.2" dy="-6.2" dx="0.8">−2</tspan><tspan dy="6.2" dx="0.3">)</tspan></text>
<text x="317.5" y="274.2" font-size="14.6" fill="#000">Stomatal size (µm<tspan font-size="10.6" dy="-6" dx="0.4">2</tspan><tspan dy="6" dx="0.3">)</tspan></text>
</svg></body></html>
